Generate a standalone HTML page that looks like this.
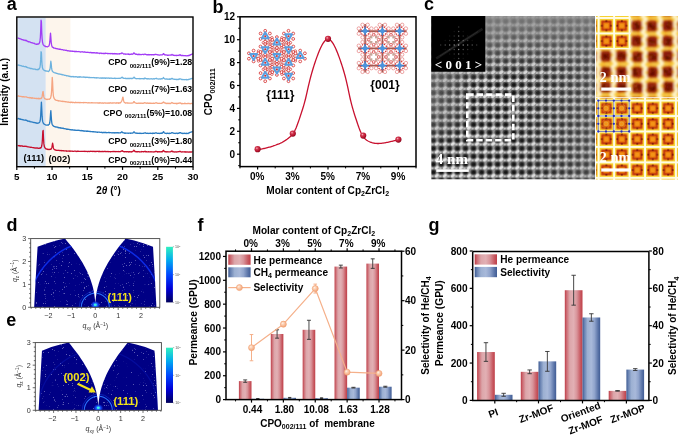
<!DOCTYPE html>
<html><head><meta charset="utf-8"><style>
html,body{margin:0;padding:0;background:#fff;}
svg{display:block;will-change:transform;}
text{font-family:"Liberation Sans",sans-serif;}
</style></head><body>
<svg width="685" height="435" viewBox="0 0 685 435">
<rect width="685" height="435" fill="#fff"/>
<rect x="17.30" y="17.60" width="28.50" height="149.10" fill="#d4e2f2" />
<rect x="17.30" y="17.60" width="1.20" height="149.10" fill="#e6eef8" />
<rect x="45.80" y="17.60" width="24.60" height="149.10" fill="#fdf5ec" />
<path d="M17.60,38.20 L17.95,38.16 L18.30,38.24 L18.65,38.12 L19.00,38.43 L19.35,38.54 L19.70,38.70 L20.05,38.75 L20.40,38.94 L20.75,39.01 L21.10,39.03 L21.45,39.41 L21.80,39.53 L22.15,39.75 L22.50,39.67 L22.85,39.73 L23.20,39.83 L23.55,39.82 L23.90,40.24 L24.25,40.09 L24.60,40.18 L24.95,40.37 L25.30,40.61 L25.65,40.42 L26.00,40.27 L26.35,40.55 L26.70,40.98 L27.05,41.09 L27.40,41.18 L27.75,41.39 L28.10,41.64 L28.45,41.91 L28.80,41.65 L29.15,41.85 L29.50,41.95 L29.85,41.87 L30.20,42.17 L30.55,42.27 L30.90,42.65 L31.25,42.61 L31.60,42.55 L31.95,42.93 L32.30,42.92 L32.65,42.87 L33.00,43.12 L33.35,43.23 L33.70,43.30 L34.05,43.51 L34.40,43.34 L34.75,43.68 L35.10,43.93 L35.45,44.00 L35.80,44.12 L36.15,44.20 L36.50,44.31 L36.85,44.06 L37.20,44.32 L37.55,43.99 L37.90,44.11 L38.25,43.86 L38.60,44.06 L38.95,43.82 L39.30,43.15 L39.65,42.54 L40.00,40.64 L40.35,37.49 L40.70,30.64 L41.05,20.05 L41.40,21.63 L41.75,32.44 L42.10,38.45 L42.45,41.79 L42.80,43.31 L43.15,44.51 L43.50,44.99 L43.85,45.45 L44.20,45.77 L44.55,45.98 L44.90,45.99 L45.25,46.50 L45.60,46.32 L45.95,46.64 L46.30,46.75 L46.65,46.62 L47.00,46.76 L47.35,46.88 L47.70,46.70 L48.05,46.51 L48.40,46.10 L48.75,46.02 L49.10,45.49 L49.45,44.37 L49.80,41.94 L50.15,37.34 L50.50,33.08 L50.85,37.40 L51.20,42.37 L51.55,44.67 L51.90,45.98 L52.25,46.97 L52.60,47.25 L52.95,47.28 L53.30,47.64 L53.65,47.89 L54.00,48.12 L54.35,48.11 L54.70,48.13 L55.05,48.21 L55.40,48.46 L55.75,48.51 L56.10,48.49 L56.45,48.61 L56.80,48.65 L57.15,48.86 L57.50,48.76 L57.85,48.97 L58.20,49.09 L58.55,49.11 L58.90,49.02 L59.25,49.34 L59.60,49.17 L59.95,49.36 L60.30,49.29 L60.65,49.23 L61.00,49.53 L61.35,49.60 L61.70,49.62 L62.05,49.72 L62.40,49.68 L62.75,49.73 L63.10,49.86 L63.45,50.17 L63.80,50.10 L64.15,50.00 L64.50,50.19 L64.85,50.13 L65.20,50.19 L65.55,50.41 L65.90,50.30 L66.25,50.23 L66.60,50.38 L66.95,50.56 L67.30,50.63 L67.65,50.82 L68.00,50.65 L68.35,50.88 L68.70,50.90 L69.05,50.90 L69.40,51.07 L69.75,51.09 L70.10,50.98 L70.45,51.24 L70.80,50.99 L71.15,51.17 L71.50,51.19 L71.85,51.26 L72.20,51.15 L72.55,51.26 L72.90,51.27 L73.25,51.43 L73.60,51.24 L73.95,51.37 L74.30,51.35 L74.65,51.25 L75.00,51.76 L75.35,51.45 L75.70,51.31 L76.05,51.68 L76.40,51.41 L76.75,51.60 L77.10,51.69 L77.45,51.53 L77.80,51.58 L78.15,51.59 L78.50,51.67 L78.85,51.51 L79.20,51.58 L79.55,51.74 L79.90,51.91 L80.25,51.88 L80.60,52.04 L80.95,51.94 L81.30,51.82 L81.65,51.89 L82.00,51.69 L82.35,51.84 L82.70,51.86 L83.05,52.04 L83.40,52.11 L83.75,51.99 L84.10,52.01 L84.45,51.92 L84.80,52.11 L85.15,52.18 L85.50,52.23 L85.85,52.11 L86.20,52.46 L86.55,52.39 L86.90,52.26 L87.25,52.24 L87.60,52.29 L87.95,52.37 L88.30,52.37 L88.65,52.46 L89.00,52.51 L89.35,52.61 L89.70,52.61 L90.05,52.48 L90.40,52.57 L90.75,52.50 L91.10,52.50 L91.45,52.82 L91.80,52.56 L92.15,52.88 L92.50,52.63 L92.85,52.72 L93.20,52.85 L93.55,52.74 L93.90,52.81 L94.25,52.76 L94.60,52.76 L94.95,52.82 L95.30,52.79 L95.65,53.08 L96.00,52.89 L96.35,53.14 L96.70,52.64 L97.05,52.99 L97.40,53.08 L97.75,53.00 L98.10,53.19 L98.45,53.16 L98.80,53.08 L99.15,53.19 L99.50,53.50 L99.85,53.21 L100.20,53.24 L100.55,53.16 L100.90,53.24 L101.25,53.08 L101.60,53.23 L101.95,53.56 L102.30,53.41 L102.65,53.37 L103.00,53.44 L103.35,53.54 L103.70,53.40 L104.05,53.59 L104.40,53.48 L104.75,53.39 L105.10,53.59 L105.45,53.11 L105.80,53.34 L106.15,53.45 L106.50,53.32 L106.85,53.43 L107.20,53.38 L107.55,53.39 L107.90,53.81 L108.25,53.57 L108.60,53.50 L108.95,53.68 L109.30,53.50 L109.65,53.65 L110.00,53.60 L110.35,53.77 L110.70,53.41 L111.05,53.69 L111.40,53.62 L111.75,53.48 L112.10,53.76 L112.45,53.54 L112.80,53.85 L113.15,53.73 L113.50,53.77 L113.85,53.71 L114.20,53.82 L114.55,53.50 L114.90,53.74 L115.25,53.67 L115.60,53.79 L115.95,53.76 L116.30,53.85 L116.65,53.69 L117.00,54.02 L117.35,54.09 L117.70,53.79 L118.05,53.83 L118.40,53.87 L118.75,53.99 L119.10,54.07 L119.45,53.70 L119.80,53.76 L120.15,53.68 L120.50,53.64 L120.85,53.49 L121.20,53.55 L121.55,53.02 L121.90,52.93 L122.25,53.03 L122.60,53.26 L122.95,53.54 L123.30,53.75 L123.65,54.08 L124.00,53.86 L124.35,53.83 L124.70,54.03 L125.05,54.10 L125.40,54.00 L125.75,54.29 L126.10,54.15 L126.45,54.19 L126.80,54.05 L127.15,54.16 L127.50,54.16 L127.85,53.92 L128.20,54.24 L128.55,54.00 L128.90,54.22 L129.25,54.06 L129.60,54.49 L129.95,54.29 L130.30,54.36 L130.65,54.37 L131.00,54.09 L131.35,53.97 L131.70,54.19 L132.05,54.31 L132.40,54.16 L132.75,54.15 L133.10,53.98 L133.45,53.32 L133.80,52.97 L134.15,53.12 L134.50,53.38 L134.85,53.63 L135.20,54.07 L135.55,54.16 L135.90,54.33 L136.25,54.22 L136.60,54.38 L136.95,54.12 L137.30,54.51 L137.65,54.62 L138.00,54.60 L138.35,54.27 L138.70,54.50 L139.05,54.12 L139.40,54.52 L139.75,54.49 L140.10,54.39 L140.45,54.55 L140.80,54.54 L141.15,54.64 L141.50,54.55 L141.85,54.57 L142.20,54.31 L142.55,54.40 L142.90,54.48 L143.25,54.56 L143.60,54.50 L143.95,54.64 L144.30,54.25 L144.65,54.12 L145.00,54.03 L145.35,54.14 L145.70,54.44 L146.05,54.44 L146.40,54.74 L146.75,54.57 L147.10,54.77 L147.45,54.66 L147.80,54.85 L148.15,54.52 L148.50,54.76 L148.85,54.66 L149.20,54.75 L149.55,54.87 L149.90,54.60 L150.25,54.59 L150.60,54.64 L150.95,54.79 L151.30,54.54 L151.65,54.79 L152.00,54.63 L152.35,54.65 L152.70,54.75 L153.05,54.84 L153.40,54.72 L153.75,54.73 L154.10,54.78 L154.45,54.73 L154.80,54.40 L155.15,54.58 L155.50,54.46 L155.85,54.34 L156.20,54.49 L156.55,54.59 L156.90,54.70 L157.25,54.66 L157.60,54.84 L157.95,54.96 L158.30,55.04 L158.65,54.80 L159.00,54.94 L159.35,55.02 L159.70,55.15 L160.05,54.96 L160.40,54.87 L160.75,54.85 L161.10,54.88 L161.45,54.82 L161.80,54.96 L162.15,54.91 L162.50,54.72 L162.85,54.48 L163.20,53.74 L163.55,53.55 L163.90,53.94 L164.25,54.49 L164.60,54.90 L164.95,54.89 L165.30,54.75 L165.65,55.00 L166.00,54.98 L166.35,54.92 L166.70,55.02 L167.05,55.25 L167.40,55.35 L167.75,55.11 L168.10,55.30 L168.45,55.33 L168.80,55.05 L169.15,55.19 L169.50,55.19 L169.85,55.21 L170.20,54.99 L170.55,55.10 L170.90,55.20 L171.25,55.08 L171.60,54.87 L171.95,54.33 L172.30,54.79 L172.65,54.98 L173.00,54.94 L173.35,55.30 L173.70,55.23 L174.05,55.37 L174.40,55.33 L174.75,55.51 L175.10,55.41 L175.45,55.36 L175.80,55.52 L176.15,55.45 L176.50,55.38 L176.85,55.59 L177.20,55.39 L177.55,55.36 L177.90,55.37 L178.25,55.25 L178.60,55.33 L178.95,55.56 L179.30,55.09 L179.65,54.96 L180.00,54.63 L180.35,54.90 L180.70,55.43 L181.05,55.50 L181.40,55.41 L181.75,55.53 L182.10,55.47 L182.45,55.50 L182.80,55.50 L183.15,55.52 L183.50,55.68 L183.85,55.73 L184.20,55.73 L184.55,55.66 L184.90,55.53 L185.25,55.70 L185.60,55.61 L185.95,55.83 L186.30,55.81 L186.65,55.84 L187.00,55.72 L187.35,55.55 L187.70,55.90 L188.05,55.92 L188.40,55.45 L188.75,55.51 L189.10,55.50 L189.45,55.08 L189.80,55.29 L190.15,54.89 L190.50,54.67 L190.85,54.82 L191.20,54.55 L191.55,54.30 L191.90,54.34 L192.25,53.86 L192.60,54.21" fill="none" stroke="#a23cf5" stroke-width="1.3" stroke-linejoin="round" />
<path d="M17.60,64.75 L17.95,64.98 L18.30,64.99 L18.65,65.19 L19.00,65.34 L19.35,65.23 L19.70,65.52 L20.05,65.49 L20.40,65.54 L20.75,65.69 L21.10,65.69 L21.45,65.81 L21.80,66.11 L22.15,66.08 L22.50,66.32 L22.85,66.33 L23.20,66.25 L23.55,66.23 L23.90,66.47 L24.25,66.66 L24.60,66.70 L24.95,66.66 L25.30,66.89 L25.65,66.50 L26.00,66.53 L26.35,66.91 L26.70,67.41 L27.05,67.38 L27.40,67.35 L27.75,67.66 L28.10,67.78 L28.45,67.91 L28.80,67.85 L29.15,67.90 L29.50,68.11 L29.85,68.24 L30.20,68.47 L30.55,68.61 L30.90,68.36 L31.25,68.46 L31.60,68.60 L31.95,68.66 L32.30,68.82 L32.65,68.90 L33.00,68.95 L33.35,69.16 L33.70,69.06 L34.05,69.02 L34.40,69.03 L34.75,69.17 L35.10,69.23 L35.45,69.20 L35.80,69.56 L36.15,69.56 L36.50,69.53 L36.85,69.52 L37.20,69.44 L37.55,69.50 L37.90,69.79 L38.25,69.22 L38.60,69.36 L38.95,69.21 L39.30,68.76 L39.65,68.05 L40.00,66.97 L40.35,64.31 L40.70,59.38 L41.05,51.69 L41.40,52.42 L41.75,60.35 L42.10,65.19 L42.45,67.59 L42.80,68.84 L43.15,69.47 L43.50,69.76 L43.85,70.02 L44.20,70.41 L44.55,70.60 L44.90,70.56 L45.25,70.81 L45.60,70.94 L45.95,71.11 L46.30,70.94 L46.65,71.19 L47.00,71.03 L47.35,71.15 L47.70,71.21 L48.05,71.40 L48.40,71.57 L48.75,71.11 L49.10,70.93 L49.45,70.61 L49.80,69.56 L50.15,68.21 L50.50,64.62 L50.85,61.25 L51.20,63.77 L51.55,67.68 L51.90,69.66 L52.25,71.03 L52.60,71.45 L52.95,71.81 L53.30,72.14 L53.65,72.07 L54.00,72.50 L54.35,72.72 L54.70,72.77 L55.05,72.86 L55.40,72.84 L55.75,73.14 L56.10,73.18 L56.45,73.26 L56.80,73.28 L57.15,73.54 L57.50,73.68 L57.85,73.67 L58.20,73.82 L58.55,73.95 L58.90,74.07 L59.25,73.99 L59.60,74.03 L59.95,74.09 L60.30,74.22 L60.65,74.37 L61.00,74.50 L61.35,74.42 L61.70,74.57 L62.05,74.51 L62.40,74.87 L62.75,74.75 L63.10,74.92 L63.45,74.88 L63.80,75.01 L64.15,75.04 L64.50,75.41 L64.85,75.33 L65.20,75.35 L65.55,75.34 L65.90,75.46 L66.25,75.68 L66.60,75.90 L66.95,75.61 L67.30,75.75 L67.65,75.92 L68.00,75.95 L68.35,75.90 L68.70,76.18 L69.05,76.35 L69.40,76.15 L69.75,76.45 L70.10,76.60 L70.45,76.62 L70.80,76.47 L71.15,76.82 L71.50,76.63 L71.85,76.48 L72.20,76.71 L72.55,76.48 L72.90,76.74 L73.25,76.50 L73.60,76.76 L73.95,76.61 L74.30,76.84 L74.65,76.81 L75.00,76.79 L75.35,76.76 L75.70,76.90 L76.05,76.57 L76.40,76.86 L76.75,76.88 L77.10,76.91 L77.45,76.96 L77.80,77.32 L78.15,76.91 L78.50,77.01 L78.85,76.95 L79.20,77.14 L79.55,76.73 L79.90,77.19 L80.25,76.92 L80.60,76.75 L80.95,76.91 L81.30,77.04 L81.65,77.10 L82.00,77.09 L82.35,77.21 L82.70,77.12 L83.05,77.14 L83.40,76.91 L83.75,77.24 L84.10,77.32 L84.45,77.16 L84.80,77.01 L85.15,77.09 L85.50,77.47 L85.85,77.21 L86.20,77.22 L86.55,77.22 L86.90,77.42 L87.25,77.29 L87.60,77.27 L87.95,77.21 L88.30,77.40 L88.65,77.55 L89.00,77.43 L89.35,77.57 L89.70,77.50 L90.05,77.51 L90.40,77.54 L90.75,77.54 L91.10,77.67 L91.45,77.63 L91.80,77.51 L92.15,77.62 L92.50,77.61 L92.85,77.70 L93.20,77.68 L93.55,77.72 L93.90,77.51 L94.25,77.75 L94.60,77.88 L94.95,77.58 L95.30,77.95 L95.65,77.81 L96.00,77.77 L96.35,77.60 L96.70,77.96 L97.05,77.73 L97.40,77.80 L97.75,77.95 L98.10,77.78 L98.45,77.80 L98.80,77.80 L99.15,77.94 L99.50,78.04 L99.85,78.04 L100.20,78.05 L100.55,77.96 L100.90,78.03 L101.25,77.94 L101.60,78.27 L101.95,78.06 L102.30,77.81 L102.65,77.92 L103.00,78.25 L103.35,77.90 L103.70,78.02 L104.05,78.12 L104.40,77.95 L104.75,78.22 L105.10,78.30 L105.45,78.00 L105.80,78.25 L106.15,78.01 L106.50,78.00 L106.85,78.16 L107.20,78.17 L107.55,78.07 L107.90,78.25 L108.25,77.98 L108.60,78.06 L108.95,78.04 L109.30,78.27 L109.65,78.28 L110.00,78.27 L110.35,78.04 L110.70,78.22 L111.05,78.27 L111.40,78.03 L111.75,78.13 L112.10,78.31 L112.45,78.32 L112.80,78.28 L113.15,78.32 L113.50,78.30 L113.85,78.28 L114.20,78.26 L114.55,78.17 L114.90,78.26 L115.25,78.24 L115.60,78.57 L115.95,78.33 L116.30,78.31 L116.65,78.28 L117.00,78.30 L117.35,78.29 L117.70,78.39 L118.05,78.32 L118.40,78.43 L118.75,78.24 L119.10,78.37 L119.45,78.42 L119.80,78.16 L120.15,78.30 L120.50,78.26 L120.85,78.10 L121.20,77.90 L121.55,77.38 L121.90,77.32 L122.25,77.24 L122.60,77.66 L122.95,78.17 L123.30,78.01 L123.65,78.43 L124.00,78.42 L124.35,78.47 L124.70,78.40 L125.05,78.30 L125.40,78.23 L125.75,78.65 L126.10,78.43 L126.45,78.43 L126.80,78.69 L127.15,78.43 L127.50,78.49 L127.85,78.50 L128.20,78.52 L128.55,78.41 L128.90,78.48 L129.25,78.70 L129.60,78.64 L129.95,78.20 L130.30,78.32 L130.65,78.59 L131.00,78.53 L131.35,78.49 L131.70,78.64 L132.05,78.27 L132.40,78.57 L132.75,78.34 L133.10,78.21 L133.45,77.80 L133.80,77.30 L134.15,77.11 L134.50,77.64 L134.85,78.22 L135.20,78.36 L135.55,78.31 L135.90,78.69 L136.25,78.71 L136.60,78.77 L136.95,78.63 L137.30,78.68 L137.65,78.60 L138.00,78.54 L138.35,78.68 L138.70,78.70 L139.05,78.61 L139.40,78.91 L139.75,78.51 L140.10,78.61 L140.45,78.63 L140.80,78.87 L141.15,78.69 L141.50,78.68 L141.85,78.61 L142.20,78.63 L142.55,78.56 L142.90,78.83 L143.25,78.77 L143.60,78.79 L143.95,78.54 L144.30,78.81 L144.65,78.19 L145.00,77.90 L145.35,78.28 L145.70,78.54 L146.05,78.74 L146.40,78.59 L146.75,78.82 L147.10,78.97 L147.45,78.68 L147.80,78.71 L148.15,78.60 L148.50,78.84 L148.85,78.93 L149.20,78.92 L149.55,78.94 L149.90,79.01 L150.25,78.86 L150.60,78.96 L150.95,78.74 L151.30,78.76 L151.65,78.89 L152.00,78.77 L152.35,78.93 L152.70,79.03 L153.05,78.91 L153.40,78.77 L153.75,78.77 L154.10,79.01 L154.45,78.72 L154.80,78.78 L155.15,78.65 L155.50,78.51 L155.85,78.38 L156.20,78.22 L156.55,78.38 L156.90,78.89 L157.25,78.83 L157.60,78.94 L157.95,78.88 L158.30,79.00 L158.65,79.07 L159.00,79.09 L159.35,78.90 L159.70,78.89 L160.05,78.98 L160.40,78.96 L160.75,79.00 L161.10,78.83 L161.45,78.62 L161.80,78.91 L162.15,78.87 L162.50,78.70 L162.85,78.52 L163.20,77.89 L163.55,77.44 L163.90,78.10 L164.25,78.46 L164.60,78.89 L164.95,78.90 L165.30,79.01 L165.65,79.04 L166.00,79.05 L166.35,78.89 L166.70,79.10 L167.05,78.84 L167.40,79.19 L167.75,79.26 L168.10,79.39 L168.45,79.20 L168.80,79.08 L169.15,78.97 L169.50,79.40 L169.85,78.99 L170.20,79.25 L170.55,78.83 L170.90,79.03 L171.25,78.97 L171.60,78.65 L171.95,78.33 L172.30,78.43 L172.65,78.75 L173.00,79.18 L173.35,79.21 L173.70,79.20 L174.05,79.28 L174.40,79.18 L174.75,79.43 L175.10,79.48 L175.45,79.24 L175.80,79.36 L176.15,79.49 L176.50,79.29 L176.85,79.62 L177.20,79.56 L177.55,79.34 L177.90,79.49 L178.25,79.56 L178.60,79.18 L178.95,79.34 L179.30,79.12 L179.65,78.86 L180.00,78.78 L180.35,78.85 L180.70,79.00 L181.05,79.15 L181.40,79.40 L181.75,79.53 L182.10,79.48 L182.45,79.49 L182.80,79.53 L183.15,79.70 L183.50,79.62 L183.85,79.48 L184.20,79.55 L184.55,79.74 L184.90,79.54 L185.25,79.57 L185.60,79.62 L185.95,79.51 L186.30,79.75 L186.65,79.39 L187.00,79.84 L187.35,79.62 L187.70,79.53 L188.05,79.71 L188.40,79.35 L188.75,79.51 L189.10,79.42 L189.45,79.14 L189.80,79.05 L190.15,79.09 L190.50,78.78 L190.85,78.75 L191.20,78.67 L191.55,78.70 L191.90,78.33 L192.25,78.28 L192.60,78.33" fill="none" stroke="#6db2de" stroke-width="1.3" stroke-linejoin="round" />
<path d="M17.60,95.67 L17.95,95.99 L18.30,95.85 L18.65,95.91 L19.00,96.41 L19.35,96.25 L19.70,96.46 L20.05,96.30 L20.40,96.44 L20.75,96.38 L21.10,96.41 L21.45,96.52 L21.80,96.59 L22.15,96.81 L22.50,96.65 L22.85,96.77 L23.20,96.74 L23.55,96.83 L23.90,96.70 L24.25,97.02 L24.60,96.86 L24.95,96.93 L25.30,96.87 L25.65,96.91 L26.00,96.78 L26.35,96.89 L26.70,97.11 L27.05,97.27 L27.40,97.41 L27.75,97.46 L28.10,97.62 L28.45,97.72 L28.80,97.65 L29.15,97.47 L29.50,97.89 L29.85,98.00 L30.20,97.74 L30.55,97.78 L30.90,97.62 L31.25,98.00 L31.60,97.83 L31.95,98.21 L32.30,97.73 L32.65,98.08 L33.00,98.19 L33.35,98.10 L33.70,98.09 L34.05,98.26 L34.40,98.20 L34.75,98.27 L35.10,98.34 L35.45,98.31 L35.80,98.39 L36.15,98.55 L36.50,98.44 L36.85,98.54 L37.20,98.46 L37.55,98.69 L37.90,98.46 L38.25,98.75 L38.60,98.30 L38.95,98.57 L39.30,98.50 L39.65,98.81 L40.00,98.70 L40.35,98.48 L40.70,98.49 L41.05,98.59 L41.40,98.19 L41.75,97.81 L42.10,96.66 L42.45,94.73 L42.80,91.72 L43.15,91.55 L43.50,94.54 L43.85,96.88 L44.20,97.77 L44.55,98.60 L44.90,98.72 L45.25,98.93 L45.60,98.90 L45.95,99.18 L46.30,99.32 L46.65,99.51 L47.00,99.24 L47.35,99.51 L47.70,99.36 L48.05,99.36 L48.40,99.25 L48.75,99.11 L49.10,99.09 L49.45,99.30 L49.80,98.76 L50.15,98.54 L50.50,98.20 L50.85,96.91 L51.20,95.53 L51.55,91.98 L51.90,85.03 L52.25,77.31 L52.60,82.35 L52.95,90.58 L53.30,95.02 L53.65,97.12 L54.00,98.10 L54.35,98.83 L54.70,99.13 L55.05,99.74 L55.40,99.67 L55.75,100.02 L56.10,100.35 L56.45,100.36 L56.80,100.33 L57.15,100.37 L57.50,100.47 L57.85,100.73 L58.20,100.73 L58.55,100.75 L58.90,101.13 L59.25,100.78 L59.60,100.88 L59.95,100.95 L60.30,101.07 L60.65,101.14 L61.00,101.12 L61.35,101.29 L61.70,101.32 L62.05,101.27 L62.40,101.06 L62.75,101.50 L63.10,101.34 L63.45,101.42 L63.80,101.53 L64.15,101.45 L64.50,101.55 L64.85,101.70 L65.20,101.69 L65.55,101.82 L65.90,101.72 L66.25,101.84 L66.60,101.79 L66.95,101.93 L67.30,102.04 L67.65,102.03 L68.00,101.93 L68.35,102.12 L68.70,102.21 L69.05,102.37 L69.40,102.28 L69.75,102.28 L70.10,102.22 L70.45,102.61 L70.80,102.27 L71.15,102.25 L71.50,102.38 L71.85,102.19 L72.20,102.54 L72.55,102.44 L72.90,102.49 L73.25,102.32 L73.60,102.38 L73.95,102.55 L74.30,102.57 L74.65,102.81 L75.00,102.61 L75.35,102.25 L75.70,102.50 L76.05,102.45 L76.40,102.64 L76.75,102.50 L77.10,102.58 L77.45,102.49 L77.80,102.61 L78.15,102.72 L78.50,102.48 L78.85,102.31 L79.20,102.44 L79.55,102.76 L79.90,102.61 L80.25,102.55 L80.60,102.48 L80.95,102.73 L81.30,102.64 L81.65,102.60 L82.00,102.56 L82.35,102.61 L82.70,102.60 L83.05,102.71 L83.40,102.80 L83.75,102.42 L84.10,102.49 L84.45,102.66 L84.80,102.69 L85.15,102.50 L85.50,102.62 L85.85,102.65 L86.20,102.65 L86.55,102.66 L86.90,102.71 L87.25,102.84 L87.60,102.82 L87.95,102.81 L88.30,102.78 L88.65,102.67 L89.00,102.71 L89.35,102.85 L89.70,102.79 L90.05,102.88 L90.40,102.82 L90.75,102.81 L91.10,102.86 L91.45,102.63 L91.80,102.80 L92.15,102.76 L92.50,102.94 L92.85,102.76 L93.20,102.88 L93.55,102.80 L93.90,102.92 L94.25,102.96 L94.60,102.85 L94.95,102.90 L95.30,102.91 L95.65,102.99 L96.00,102.86 L96.35,102.92 L96.70,102.87 L97.05,102.81 L97.40,102.95 L97.75,102.99 L98.10,102.85 L98.45,103.14 L98.80,102.87 L99.15,103.05 L99.50,103.02 L99.85,102.77 L100.20,102.98 L100.55,102.80 L100.90,102.97 L101.25,103.07 L101.60,103.21 L101.95,103.09 L102.30,102.81 L102.65,102.96 L103.00,103.18 L103.35,103.02 L103.70,103.22 L104.05,102.92 L104.40,102.94 L104.75,102.85 L105.10,102.97 L105.45,103.17 L105.80,102.91 L106.15,103.12 L106.50,103.08 L106.85,103.12 L107.20,102.99 L107.55,103.03 L107.90,103.28 L108.25,102.88 L108.60,103.12 L108.95,103.22 L109.30,103.09 L109.65,103.24 L110.00,102.68 L110.35,103.00 L110.70,102.90 L111.05,102.99 L111.40,103.03 L111.75,103.10 L112.10,102.94 L112.45,103.15 L112.80,102.86 L113.15,103.16 L113.50,103.02 L113.85,102.83 L114.20,102.83 L114.55,102.83 L114.90,102.93 L115.25,103.06 L115.60,103.20 L115.95,103.13 L116.30,102.87 L116.65,102.75 L117.00,102.99 L117.35,102.85 L117.70,102.99 L118.05,102.91 L118.40,103.29 L118.75,102.75 L119.10,102.97 L119.45,103.12 L119.80,102.79 L120.15,102.67 L120.50,102.84 L120.85,102.18 L121.20,101.88 L121.55,101.30 L121.90,100.53 L122.25,99.62 L122.60,97.85 L122.95,97.08 L123.30,98.96 L123.65,100.88 L124.00,101.79 L124.35,102.45 L124.70,102.57 L125.05,102.68 L125.40,103.03 L125.75,103.05 L126.10,103.07 L126.45,102.83 L126.80,102.89 L127.15,103.01 L127.50,103.02 L127.85,103.02 L128.20,103.05 L128.55,103.17 L128.90,102.97 L129.25,103.13 L129.60,103.06 L129.95,103.05 L130.30,103.07 L130.65,103.19 L131.00,103.13 L131.35,102.99 L131.70,103.11 L132.05,103.05 L132.40,103.03 L132.75,102.85 L133.10,102.82 L133.45,102.37 L133.80,101.62 L134.15,101.54 L134.50,102.09 L134.85,102.72 L135.20,102.81 L135.55,102.96 L135.90,103.06 L136.25,103.26 L136.60,103.41 L136.95,103.15 L137.30,103.42 L137.65,103.26 L138.00,103.34 L138.35,103.17 L138.70,103.06 L139.05,103.28 L139.40,103.38 L139.75,103.04 L140.10,103.22 L140.45,103.26 L140.80,103.31 L141.15,103.11 L141.50,103.17 L141.85,103.35 L142.20,103.45 L142.55,103.24 L142.90,103.34 L143.25,103.22 L143.60,103.23 L143.95,103.07 L144.30,102.98 L144.65,102.74 L145.00,102.66 L145.35,102.94 L145.70,103.04 L146.05,103.21 L146.40,103.12 L146.75,103.32 L147.10,102.87 L147.45,103.09 L147.80,103.23 L148.15,103.06 L148.50,103.36 L148.85,103.32 L149.20,103.19 L149.55,103.31 L149.90,103.12 L150.25,103.20 L150.60,103.26 L150.95,103.12 L151.30,103.44 L151.65,103.23 L152.00,103.44 L152.35,103.30 L152.70,103.35 L153.05,103.20 L153.40,103.27 L153.75,103.24 L154.10,103.31 L154.45,103.42 L154.80,103.14 L155.15,103.09 L155.50,102.97 L155.85,102.78 L156.20,102.69 L156.55,102.92 L156.90,103.07 L157.25,103.23 L157.60,103.30 L157.95,103.22 L158.30,103.28 L158.65,103.42 L159.00,103.33 L159.35,103.26 L159.70,103.42 L160.05,103.42 L160.40,103.40 L160.75,103.39 L161.10,103.25 L161.45,103.29 L161.80,103.26 L162.15,103.15 L162.50,102.77 L162.85,102.67 L163.20,102.17 L163.55,101.88 L163.90,102.27 L164.25,102.79 L164.60,102.83 L164.95,103.00 L165.30,102.90 L165.65,103.28 L166.00,103.53 L166.35,103.56 L166.70,103.23 L167.05,103.46 L167.40,103.54 L167.75,103.35 L168.10,103.16 L168.45,103.57 L168.80,103.35 L169.15,103.34 L169.50,103.59 L169.85,103.43 L170.20,103.45 L170.55,103.50 L170.90,103.21 L171.25,102.96 L171.60,102.89 L171.95,102.51 L172.30,102.78 L172.65,103.07 L173.00,103.12 L173.35,103.32 L173.70,103.33 L174.05,103.37 L174.40,103.41 L174.75,103.48 L175.10,103.47 L175.45,103.30 L175.80,103.53 L176.15,103.29 L176.50,103.73 L176.85,103.37 L177.20,103.45 L177.55,103.61 L177.90,103.42 L178.25,103.27 L178.60,103.21 L178.95,103.35 L179.30,103.22 L179.65,103.02 L180.00,102.75 L180.35,102.87 L180.70,103.24 L181.05,103.50 L181.40,103.31 L181.75,103.88 L182.10,103.42 L182.45,103.64 L182.80,103.73 L183.15,103.62 L183.50,103.56 L183.85,103.61 L184.20,103.69 L184.55,103.22 L184.90,103.60 L185.25,103.50 L185.60,103.47 L185.95,103.57 L186.30,103.58 L186.65,103.62 L187.00,103.49 L187.35,103.70 L187.70,103.31 L188.05,103.45 L188.40,103.42 L188.75,103.58 L189.10,103.51 L189.45,103.64 L189.80,103.48 L190.15,103.74 L190.50,103.67 L190.85,103.52 L191.20,103.38 L191.55,103.45 L191.90,103.41 L192.25,103.74 L192.60,103.69" fill="none" stroke="#f5a582" stroke-width="1.3" stroke-linejoin="round" />
<path d="M17.60,118.28 L17.95,118.75 L18.30,118.57 L18.65,118.43 L19.00,118.92 L19.35,119.03 L19.70,118.96 L20.05,118.94 L20.40,119.29 L20.75,119.16 L21.10,119.31 L21.45,119.46 L21.80,119.52 L22.15,119.52 L22.50,119.53 L22.85,119.83 L23.20,119.56 L23.55,119.95 L23.90,120.02 L24.25,120.12 L24.60,120.08 L24.95,120.19 L25.30,120.27 L25.65,119.98 L26.00,120.07 L26.35,120.32 L26.70,120.37 L27.05,120.58 L27.40,121.01 L27.75,121.06 L28.10,120.94 L28.45,121.22 L28.80,121.27 L29.15,121.48 L29.50,121.54 L29.85,121.20 L30.20,121.54 L30.55,121.84 L30.90,121.96 L31.25,121.78 L31.60,121.80 L31.95,122.07 L32.30,122.05 L32.65,122.21 L33.00,122.16 L33.35,122.48 L33.70,122.54 L34.05,122.61 L34.40,122.50 L34.75,122.51 L35.10,122.64 L35.45,122.93 L35.80,122.72 L36.15,123.08 L36.50,123.27 L36.85,123.03 L37.20,123.12 L37.55,123.28 L37.90,123.26 L38.25,123.04 L38.60,123.01 L38.95,122.89 L39.30,122.56 L39.65,122.17 L40.00,121.24 L40.35,119.61 L40.70,115.59 L41.05,108.59 L41.40,102.14 L41.75,108.60 L42.10,116.17 L42.45,120.07 L42.80,121.90 L43.15,122.89 L43.50,123.58 L43.85,123.88 L44.20,124.09 L44.55,124.36 L44.90,124.54 L45.25,124.78 L45.60,124.96 L45.95,124.98 L46.30,125.19 L46.65,125.06 L47.00,125.03 L47.35,125.03 L47.70,125.00 L48.05,125.02 L48.40,125.11 L48.75,124.57 L49.10,124.45 L49.45,123.71 L49.80,122.47 L50.15,119.49 L50.50,114.18 L50.85,110.65 L51.20,116.12 L51.55,120.62 L51.90,123.31 L52.25,124.55 L52.60,124.96 L52.95,125.69 L53.30,125.76 L53.65,126.24 L54.00,126.30 L54.35,126.53 L54.70,126.62 L55.05,126.54 L55.40,126.98 L55.75,127.03 L56.10,126.85 L56.45,127.13 L56.80,127.20 L57.15,127.14 L57.50,127.17 L57.85,127.53 L58.20,127.40 L58.55,127.63 L58.90,127.82 L59.25,127.72 L59.60,127.62 L59.95,127.92 L60.30,127.70 L60.65,127.83 L61.00,128.36 L61.35,127.98 L61.70,128.18 L62.05,128.08 L62.40,128.26 L62.75,128.36 L63.10,128.09 L63.45,128.39 L63.80,128.62 L64.15,128.71 L64.50,128.71 L64.85,128.62 L65.20,128.85 L65.55,128.80 L65.90,128.84 L66.25,128.99 L66.60,129.33 L66.95,129.01 L67.30,129.31 L67.65,129.28 L68.00,129.14 L68.35,129.27 L68.70,129.43 L69.05,129.45 L69.40,129.61 L69.75,129.52 L70.10,129.57 L70.45,129.85 L70.80,129.76 L71.15,129.69 L71.50,129.82 L71.85,130.08 L72.20,129.82 L72.55,129.74 L72.90,130.06 L73.25,130.22 L73.60,130.17 L73.95,129.89 L74.30,129.83 L74.65,130.26 L75.00,130.12 L75.35,130.23 L75.70,130.18 L76.05,130.44 L76.40,130.28 L76.75,130.26 L77.10,130.35 L77.45,130.22 L77.80,130.41 L78.15,130.41 L78.50,130.20 L78.85,130.35 L79.20,130.37 L79.55,130.36 L79.90,130.63 L80.25,130.75 L80.60,130.68 L80.95,130.50 L81.30,130.49 L81.65,130.83 L82.00,130.73 L82.35,130.79 L82.70,130.68 L83.05,130.62 L83.40,131.16 L83.75,130.86 L84.10,130.94 L84.45,130.85 L84.80,131.21 L85.15,131.01 L85.50,131.07 L85.85,131.12 L86.20,131.15 L86.55,131.35 L86.90,130.99 L87.25,131.32 L87.60,131.20 L87.95,131.26 L88.30,131.26 L88.65,131.42 L89.00,131.25 L89.35,131.37 L89.70,131.53 L90.05,131.43 L90.40,131.47 L90.75,131.60 L91.10,131.60 L91.45,131.58 L91.80,131.66 L92.15,131.58 L92.50,131.82 L92.85,131.61 L93.20,131.58 L93.55,131.86 L93.90,131.68 L94.25,131.76 L94.60,131.88 L94.95,132.02 L95.30,131.91 L95.65,131.94 L96.00,131.98 L96.35,132.10 L96.70,132.03 L97.05,132.15 L97.40,132.32 L97.75,132.16 L98.10,132.17 L98.45,132.14 L98.80,132.19 L99.15,132.16 L99.50,132.21 L99.85,132.30 L100.20,132.43 L100.55,132.46 L100.90,132.36 L101.25,132.46 L101.60,132.28 L101.95,132.69 L102.30,132.75 L102.65,132.45 L103.00,132.54 L103.35,132.50 L103.70,132.59 L104.05,132.43 L104.40,132.34 L104.75,132.62 L105.10,132.41 L105.45,132.59 L105.80,132.45 L106.15,132.48 L106.50,132.70 L106.85,132.78 L107.20,132.58 L107.55,132.56 L107.90,132.66 L108.25,132.57 L108.60,132.44 L108.95,132.65 L109.30,132.40 L109.65,132.73 L110.00,132.62 L110.35,132.72 L110.70,132.53 L111.05,132.62 L111.40,132.79 L111.75,132.90 L112.10,132.85 L112.45,132.80 L112.80,132.63 L113.15,132.84 L113.50,132.80 L113.85,132.76 L114.20,132.96 L114.55,132.72 L114.90,133.04 L115.25,132.76 L115.60,132.76 L115.95,132.84 L116.30,132.70 L116.65,132.81 L117.00,132.89 L117.35,132.68 L117.70,132.79 L118.05,132.73 L118.40,132.85 L118.75,133.04 L119.10,132.85 L119.45,132.88 L119.80,132.92 L120.15,132.73 L120.50,132.85 L120.85,132.67 L121.20,132.48 L121.55,132.01 L121.90,131.72 L122.25,132.08 L122.60,132.57 L122.95,132.67 L123.30,132.87 L123.65,132.89 L124.00,132.86 L124.35,132.82 L124.70,133.27 L125.05,132.97 L125.40,133.13 L125.75,133.31 L126.10,133.09 L126.45,133.13 L126.80,133.19 L127.15,133.13 L127.50,133.22 L127.85,133.16 L128.20,133.34 L128.55,133.28 L128.90,133.08 L129.25,133.08 L129.60,133.17 L129.95,133.18 L130.30,133.16 L130.65,133.35 L131.00,133.14 L131.35,133.16 L131.70,133.21 L132.05,132.92 L132.40,133.15 L132.75,133.07 L133.10,132.98 L133.45,132.31 L133.80,131.81 L134.15,131.82 L134.50,132.32 L134.85,132.60 L135.20,133.10 L135.55,133.07 L135.90,133.21 L136.25,133.08 L136.60,133.35 L136.95,133.21 L137.30,133.18 L137.65,133.37 L138.00,133.41 L138.35,133.18 L138.70,133.41 L139.05,133.49 L139.40,133.33 L139.75,133.13 L140.10,133.37 L140.45,133.43 L140.80,133.18 L141.15,133.51 L141.50,133.28 L141.85,133.29 L142.20,133.43 L142.55,133.32 L142.90,133.43 L143.25,133.26 L143.60,133.28 L143.95,133.18 L144.30,133.09 L144.65,132.93 L145.00,132.76 L145.35,132.83 L145.70,133.18 L146.05,133.18 L146.40,133.39 L146.75,133.35 L147.10,133.29 L147.45,133.22 L147.80,133.33 L148.15,133.49 L148.50,133.35 L148.85,133.45 L149.20,133.33 L149.55,133.30 L149.90,133.26 L150.25,133.11 L150.60,133.38 L150.95,133.35 L151.30,133.34 L151.65,133.44 L152.00,133.23 L152.35,133.55 L152.70,133.16 L153.05,133.37 L153.40,133.19 L153.75,133.29 L154.10,133.44 L154.45,133.09 L154.80,133.25 L155.15,133.14 L155.50,132.97 L155.85,132.72 L156.20,132.82 L156.55,133.04 L156.90,133.19 L157.25,133.34 L157.60,133.36 L157.95,133.29 L158.30,133.17 L158.65,133.42 L159.00,133.29 L159.35,133.53 L159.70,133.27 L160.05,133.19 L160.40,133.46 L160.75,133.22 L161.10,133.11 L161.45,133.40 L161.80,133.03 L162.15,133.28 L162.50,132.85 L162.85,132.70 L163.20,132.13 L163.55,131.58 L163.90,132.28 L164.25,132.71 L164.60,133.03 L164.95,133.21 L165.30,133.41 L165.65,133.24 L166.00,133.28 L166.35,133.57 L166.70,133.41 L167.05,133.43 L167.40,133.16 L167.75,133.18 L168.10,133.28 L168.45,133.32 L168.80,133.40 L169.15,133.66 L169.50,133.17 L169.85,133.26 L170.20,133.36 L170.55,133.27 L170.90,133.30 L171.25,132.97 L171.60,132.61 L171.95,132.68 L172.30,132.67 L172.65,132.80 L173.00,133.09 L173.35,133.22 L173.70,133.10 L174.05,133.40 L174.40,133.34 L174.75,133.29 L175.10,133.27 L175.45,133.55 L175.80,133.34 L176.15,133.26 L176.50,133.11 L176.85,133.22 L177.20,133.43 L177.55,133.51 L177.90,133.18 L178.25,133.05 L178.60,133.26 L178.95,133.18 L179.30,133.15 L179.65,132.70 L180.00,132.60 L180.35,132.57 L180.70,132.90 L181.05,133.12 L181.40,133.21 L181.75,133.37 L182.10,133.47 L182.45,133.17 L182.80,133.56 L183.15,133.27 L183.50,133.32 L183.85,133.51 L184.20,133.09 L184.55,133.20 L184.90,133.28 L185.25,133.39 L185.60,133.51 L185.95,133.51 L186.30,133.27 L186.65,133.48 L187.00,133.34 L187.35,133.57 L187.70,133.35 L188.05,133.49 L188.40,133.10 L188.75,133.17 L189.10,132.76 L189.45,132.79 L189.80,132.44 L190.15,132.47 L190.50,132.24 L190.85,132.07 L191.20,132.07 L191.55,131.99 L191.90,131.76 L192.25,131.64 L192.60,131.58" fill="none" stroke="#2a7cc2" stroke-width="1.3" stroke-linejoin="round" />
<path d="M17.60,145.52 L17.95,145.55 L18.30,145.53 L18.65,145.78 L19.00,145.53 L19.35,145.74 L19.70,145.56 L20.05,146.04 L20.40,145.77 L20.75,145.87 L21.10,146.07 L21.45,145.94 L21.80,145.91 L22.15,145.84 L22.50,146.08 L22.85,146.41 L23.20,146.23 L23.55,146.47 L23.90,146.40 L24.25,146.29 L24.60,146.20 L24.95,146.36 L25.30,146.42 L25.65,146.22 L26.00,146.20 L26.35,146.42 L26.70,146.52 L27.05,146.52 L27.40,146.75 L27.75,146.94 L28.10,146.84 L28.45,146.87 L28.80,146.93 L29.15,147.08 L29.50,147.15 L29.85,147.21 L30.20,147.12 L30.55,147.33 L30.90,147.30 L31.25,147.31 L31.60,147.25 L31.95,147.39 L32.30,147.50 L32.65,147.64 L33.00,147.72 L33.35,147.72 L33.70,147.80 L34.05,147.68 L34.40,147.96 L34.75,148.00 L35.10,148.03 L35.45,147.93 L35.80,148.03 L36.15,148.02 L36.50,147.96 L36.85,148.11 L37.20,148.00 L37.55,148.00 L37.90,148.30 L38.25,148.32 L38.60,148.36 L38.95,148.21 L39.30,148.25 L39.65,148.27 L40.00,148.08 L40.35,147.75 L40.70,148.05 L41.05,147.57 L41.40,146.98 L41.75,145.75 L42.10,143.49 L42.45,139.07 L42.80,131.47 L43.15,130.36 L43.50,138.17 L43.85,143.38 L44.20,145.97 L44.55,147.13 L44.90,147.74 L45.25,148.09 L45.60,148.79 L45.95,148.79 L46.30,149.02 L46.65,149.06 L47.00,148.99 L47.35,149.49 L47.70,149.37 L48.05,149.49 L48.40,149.29 L48.75,149.42 L49.10,149.61 L49.45,149.41 L49.80,149.36 L50.15,149.28 L50.50,149.18 L50.85,149.30 L51.20,148.93 L51.55,148.19 L51.90,147.46 L52.25,145.15 L52.60,143.16 L52.95,144.85 L53.30,147.43 L53.65,148.77 L54.00,149.10 L54.35,149.47 L54.70,149.75 L55.05,149.68 L55.40,150.05 L55.75,150.22 L56.10,150.24 L56.45,150.39 L56.80,150.27 L57.15,150.29 L57.50,150.31 L57.85,150.28 L58.20,150.27 L58.55,150.34 L58.90,150.45 L59.25,150.42 L59.60,150.52 L59.95,150.55 L60.30,150.64 L60.65,150.52 L61.00,150.36 L61.35,150.52 L61.70,150.89 L62.05,150.77 L62.40,150.66 L62.75,150.70 L63.10,150.74 L63.45,150.72 L63.80,150.82 L64.15,150.90 L64.50,150.99 L64.85,150.82 L65.20,150.85 L65.55,150.87 L65.90,150.93 L66.25,151.08 L66.60,150.88 L66.95,151.26 L67.30,151.08 L67.65,151.17 L68.00,150.95 L68.35,151.04 L68.70,151.04 L69.05,151.13 L69.40,150.90 L69.75,151.23 L70.10,150.98 L70.45,151.24 L70.80,151.32 L71.15,151.19 L71.50,151.18 L71.85,151.19 L72.20,151.18 L72.55,151.25 L72.90,151.33 L73.25,151.30 L73.60,151.41 L73.95,151.24 L74.30,151.18 L74.65,151.19 L75.00,151.10 L75.35,151.20 L75.70,151.18 L76.05,151.47 L76.40,151.33 L76.75,151.48 L77.10,151.04 L77.45,151.31 L77.80,151.40 L78.15,151.32 L78.50,151.23 L78.85,151.31 L79.20,151.31 L79.55,151.31 L79.90,151.33 L80.25,151.42 L80.60,151.34 L80.95,151.35 L81.30,151.32 L81.65,151.38 L82.00,151.24 L82.35,151.40 L82.70,151.29 L83.05,151.44 L83.40,151.27 L83.75,151.34 L84.10,151.33 L84.45,151.23 L84.80,151.48 L85.15,151.40 L85.50,151.37 L85.85,151.51 L86.20,151.33 L86.55,151.37 L86.90,151.51 L87.25,151.67 L87.60,151.40 L87.95,151.58 L88.30,151.41 L88.65,151.30 L89.00,151.46 L89.35,151.55 L89.70,151.43 L90.05,151.47 L90.40,151.28 L90.75,151.15 L91.10,151.45 L91.45,151.25 L91.80,151.41 L92.15,151.35 L92.50,151.44 L92.85,151.53 L93.20,151.23 L93.55,151.41 L93.90,151.42 L94.25,151.60 L94.60,151.45 L94.95,151.35 L95.30,151.38 L95.65,151.67 L96.00,151.35 L96.35,151.46 L96.70,151.49 L97.05,151.33 L97.40,151.37 L97.75,151.24 L98.10,151.37 L98.45,151.56 L98.80,151.51 L99.15,151.26 L99.50,151.66 L99.85,151.33 L100.20,151.38 L100.55,151.69 L100.90,151.56 L101.25,151.50 L101.60,151.69 L101.95,151.51 L102.30,151.56 L102.65,151.45 L103.00,151.51 L103.35,151.52 L103.70,151.66 L104.05,151.46 L104.40,151.52 L104.75,151.28 L105.10,151.34 L105.45,151.63 L105.80,151.51 L106.15,151.51 L106.50,151.63 L106.85,151.52 L107.20,151.58 L107.55,151.53 L107.90,151.33 L108.25,151.65 L108.60,151.75 L108.95,151.72 L109.30,151.59 L109.65,151.62 L110.00,151.64 L110.35,151.77 L110.70,151.74 L111.05,151.56 L111.40,151.59 L111.75,151.58 L112.10,151.54 L112.45,151.54 L112.80,151.60 L113.15,151.33 L113.50,151.66 L113.85,151.57 L114.20,151.48 L114.55,151.60 L114.90,151.54 L115.25,151.77 L115.60,151.50 L115.95,151.64 L116.30,151.68 L116.65,151.54 L117.00,151.49 L117.35,151.68 L117.70,151.59 L118.05,151.53 L118.40,151.46 L118.75,151.70 L119.10,151.80 L119.45,151.55 L119.80,151.66 L120.15,151.69 L120.50,151.63 L120.85,151.35 L121.20,151.30 L121.55,150.96 L121.90,150.76 L122.25,150.64 L122.60,151.20 L122.95,151.45 L123.30,151.57 L123.65,151.46 L124.00,151.66 L124.35,151.83 L124.70,151.63 L125.05,151.72 L125.40,151.61 L125.75,151.75 L126.10,151.76 L126.45,151.81 L126.80,151.69 L127.15,151.69 L127.50,151.68 L127.85,151.78 L128.20,151.77 L128.55,152.02 L128.90,151.68 L129.25,151.84 L129.60,151.69 L129.95,151.70 L130.30,151.88 L130.65,151.79 L131.00,151.80 L131.35,151.56 L131.70,152.00 L132.05,151.90 L132.40,151.52 L132.75,151.35 L133.10,151.23 L133.45,150.96 L133.80,150.26 L134.15,150.33 L134.50,150.79 L134.85,151.60 L135.20,151.46 L135.55,151.55 L135.90,151.90 L136.25,151.75 L136.60,151.73 L136.95,151.75 L137.30,151.83 L137.65,151.72 L138.00,151.80 L138.35,151.72 L138.70,151.64 L139.05,151.76 L139.40,151.82 L139.75,151.99 L140.10,151.83 L140.45,151.77 L140.80,151.82 L141.15,151.87 L141.50,151.54 L141.85,151.75 L142.20,151.55 L142.55,151.59 L142.90,151.70 L143.25,151.75 L143.60,151.74 L143.95,151.69 L144.30,151.72 L144.65,151.41 L145.00,151.24 L145.35,151.33 L145.70,151.80 L146.05,151.84 L146.40,151.68 L146.75,151.71 L147.10,151.89 L147.45,151.93 L147.80,151.78 L148.15,151.96 L148.50,151.69 L148.85,151.82 L149.20,151.96 L149.55,151.77 L149.90,151.86 L150.25,151.84 L150.60,151.82 L150.95,151.63 L151.30,151.81 L151.65,151.87 L152.00,151.87 L152.35,151.93 L152.70,151.95 L153.05,151.80 L153.40,151.81 L153.75,152.02 L154.10,151.91 L154.45,151.78 L154.80,151.70 L155.15,151.76 L155.50,151.57 L155.85,151.19 L156.20,151.28 L156.55,151.49 L156.90,151.65 L157.25,151.96 L157.60,151.64 L157.95,151.90 L158.30,151.70 L158.65,151.75 L159.00,151.94 L159.35,151.69 L159.70,151.73 L160.05,151.70 L160.40,151.76 L160.75,151.85 L161.10,151.93 L161.45,151.69 L161.80,151.82 L162.15,151.49 L162.50,151.72 L162.85,151.11 L163.20,150.56 L163.55,150.34 L163.90,150.80 L164.25,151.25 L164.60,151.33 L164.95,151.76 L165.30,151.82 L165.65,151.74 L166.00,151.68 L166.35,151.86 L166.70,151.98 L167.05,151.65 L167.40,151.73 L167.75,151.87 L168.10,151.77 L168.45,151.83 L168.80,151.85 L169.15,151.95 L169.50,151.94 L169.85,151.95 L170.20,151.92 L170.55,151.70 L170.90,151.41 L171.25,151.58 L171.60,151.30 L171.95,151.02 L172.30,151.07 L172.65,151.70 L173.00,151.47 L173.35,151.86 L173.70,151.89 L174.05,151.96 L174.40,152.03 L174.75,151.94 L175.10,151.93 L175.45,151.86 L175.80,151.99 L176.15,151.95 L176.50,152.00 L176.85,151.77 L177.20,151.72 L177.55,151.90 L177.90,151.94 L178.25,151.68 L178.60,151.70 L178.95,151.71 L179.30,151.64 L179.65,151.39 L180.00,151.27 L180.35,151.34 L180.70,151.66 L181.05,151.91 L181.40,151.80 L181.75,152.14 L182.10,151.86 L182.45,151.93 L182.80,151.71 L183.15,151.93 L183.50,151.88 L183.85,151.87 L184.20,151.99 L184.55,151.83 L184.90,151.99 L185.25,151.73 L185.60,151.91 L185.95,152.13 L186.30,151.98 L186.65,152.04 L187.00,151.87 L187.35,151.82 L187.70,152.14 L188.05,152.10 L188.40,152.08 L188.75,151.98 L189.10,152.12 L189.45,151.94 L189.80,152.07 L190.15,152.06 L190.50,151.88 L190.85,152.16 L191.20,152.01 L191.55,152.09 L191.90,151.82 L192.25,151.86 L192.60,151.95" fill="none" stroke="#c8102e" stroke-width="1.3" stroke-linejoin="round" />
<rect x="16.8" y="17.0" width="176.2" height="149.7" fill="none" stroke="#000" stroke-width="1.4"/>
<line x1="16.80" y1="166.70" x2="16.80" y2="169.90" stroke="#000" stroke-width="1.2" />
<text x="16.80" y="180.00" font-size="9.8" font-weight="bold" text-anchor="middle" fill="#000" >5</text>
<line x1="52.05" y1="166.70" x2="52.05" y2="169.90" stroke="#000" stroke-width="1.2" />
<text x="52.05" y="180.00" font-size="9.8" font-weight="bold" text-anchor="middle" fill="#000" >10</text>
<line x1="87.30" y1="166.70" x2="87.30" y2="169.90" stroke="#000" stroke-width="1.2" />
<text x="87.30" y="180.00" font-size="9.8" font-weight="bold" text-anchor="middle" fill="#000" >15</text>
<line x1="122.55" y1="166.70" x2="122.55" y2="169.90" stroke="#000" stroke-width="1.2" />
<text x="122.55" y="180.00" font-size="9.8" font-weight="bold" text-anchor="middle" fill="#000" >20</text>
<line x1="157.80" y1="166.70" x2="157.80" y2="169.90" stroke="#000" stroke-width="1.2" />
<text x="157.80" y="180.00" font-size="9.8" font-weight="bold" text-anchor="middle" fill="#000" >25</text>
<line x1="193.05" y1="166.70" x2="193.05" y2="169.90" stroke="#000" stroke-width="1.2" />
<text x="193.05" y="180.00" font-size="9.8" font-weight="bold" text-anchor="middle" fill="#000" >30</text>
<line x1="34.42" y1="166.70" x2="34.42" y2="168.70" stroke="#000" stroke-width="1.0" />
<line x1="69.67" y1="166.70" x2="69.67" y2="168.70" stroke="#000" stroke-width="1.0" />
<line x1="104.92" y1="166.70" x2="104.92" y2="168.70" stroke="#000" stroke-width="1.0" />
<line x1="140.18" y1="166.70" x2="140.18" y2="168.70" stroke="#000" stroke-width="1.0" />
<line x1="175.43" y1="166.70" x2="175.43" y2="168.70" stroke="#000" stroke-width="1.0" />
<text x="192.2" y="65.3" font-size="8.8" font-weight="bold" text-anchor="end">CPO <tspan font-size="6.2" dy="2.4">002/111</tspan><tspan dy="-2.4">(9%)=1.28</tspan></text>
<text x="192.2" y="92.0" font-size="8.8" font-weight="bold" text-anchor="end">CPO <tspan font-size="6.2" dy="2.4">002/111</tspan><tspan dy="-2.4">(7%)=1.63</tspan></text>
<text x="192.2" y="116.0" font-size="8.8" font-weight="bold" text-anchor="end">CPO <tspan font-size="6.2" dy="2.4">002/111</tspan><tspan dy="-2.4">(5%)=10.08</tspan></text>
<text x="192.2" y="144.3" font-size="8.8" font-weight="bold" text-anchor="end">CPO <tspan font-size="6.2" dy="2.4">002/111</tspan><tspan dy="-2.4">(3%)=1.80</tspan></text>
<text x="192.2" y="162.9" font-size="8.8" font-weight="bold" text-anchor="end">CPO <tspan font-size="6.2" dy="2.4">002/111</tspan><tspan dy="-2.4">(0%)=0.44</tspan></text>
<text x="23.40" y="160.60" font-size="9.4" font-weight="bold" text-anchor="start" fill="#000" >(111)</text>
<text x="48.40" y="161.80" font-size="9.4" font-weight="bold" text-anchor="start" fill="#000" >(002)</text>
<text x="96.3" y="193.6" font-size="10" font-weight="bold">2<tspan font-style="italic">θ</tspan> (°)</text>
<text transform="translate(7.6,91.8) rotate(-90)" font-size="10" font-weight="bold" text-anchor="middle">Intensity (a.u.)</text>
<text x="6.80" y="9.60" font-size="18" font-weight="bold" text-anchor="start" fill="#000" >a</text>
<defs>
<radialGradient id="sph" cx="0.38" cy="0.35" r="0.65">
<stop offset="0" stop-color="#f7b3bd"/><stop offset="0.3" stop-color="#d43a52"/><stop offset="0.8" stop-color="#b0102a"/><stop offset="1" stop-color="#8a0a1e"/></radialGradient>
<radialGradient id="sphO" cx="0.38" cy="0.35" r="0.65">
<stop offset="0" stop-color="#fff0e6"/><stop offset="0.35" stop-color="#fbd0b4"/><stop offset="1" stop-color="#f2a57a"/></radialGradient>
</defs>
<g>
<polygon points="302.4,56.0 289.9,48.5 289.6,33.9 276.9,41.0 264.1,33.9 263.9,48.5 251.4,56.0 263.9,63.5 264.1,78.1 276.9,71.0 289.6,78.1 289.9,63.5" fill="#ead0cc" opacity="0.55"/>
<line x1="276.9" y1="56.0" x2="276.9" y2="42.5" stroke="#a06458" stroke-width="1.3" opacity="0.85"/>
<circle cx="275.1" cy="49.2" r="1.3" fill="none" stroke="#d03838" stroke-width="0.7"/>
<circle cx="278.7" cy="49.2" r="1.3" fill="none" stroke="#d03838" stroke-width="0.7"/>
<line x1="276.9" y1="56.0" x2="288.6" y2="62.8" stroke="#a06458" stroke-width="1.3" opacity="0.85"/>
<circle cx="283.6" cy="57.8" r="1.3" fill="none" stroke="#d03838" stroke-width="0.7"/>
<circle cx="281.8" cy="60.9" r="1.3" fill="none" stroke="#d03838" stroke-width="0.7"/>
<line x1="276.9" y1="56.0" x2="288.6" y2="49.2" stroke="#a06458" stroke-width="1.3" opacity="0.85"/>
<circle cx="281.8" cy="51.1" r="1.3" fill="none" stroke="#d03838" stroke-width="0.7"/>
<circle cx="283.6" cy="54.2" r="1.3" fill="none" stroke="#d03838" stroke-width="0.7"/>
<line x1="276.9" y1="42.5" x2="288.6" y2="49.2" stroke="#a06458" stroke-width="1.3" opacity="0.85"/>
<circle cx="283.6" cy="44.3" r="1.3" fill="none" stroke="#d03838" stroke-width="0.7"/>
<circle cx="281.8" cy="47.4" r="1.3" fill="none" stroke="#d03838" stroke-width="0.7"/>
<line x1="276.9" y1="42.5" x2="288.5" y2="36.2" stroke="#a06458" stroke-width="1.3" opacity="0.85"/>
<circle cx="281.9" cy="37.8" r="1.3" fill="none" stroke="#d03838" stroke-width="0.7"/>
<circle cx="283.6" cy="40.9" r="1.3" fill="none" stroke="#d03838" stroke-width="0.7"/>
<line x1="265.2" y1="49.2" x2="276.9" y2="56.0" stroke="#a06458" stroke-width="1.3" opacity="0.85"/>
<circle cx="272.0" cy="51.1" r="1.3" fill="none" stroke="#d03838" stroke-width="0.7"/>
<circle cx="270.2" cy="54.2" r="1.3" fill="none" stroke="#d03838" stroke-width="0.7"/>
<line x1="265.2" y1="49.2" x2="276.9" y2="42.5" stroke="#a06458" stroke-width="1.3" opacity="0.85"/>
<circle cx="270.2" cy="44.3" r="1.3" fill="none" stroke="#d03838" stroke-width="0.7"/>
<circle cx="272.0" cy="47.4" r="1.3" fill="none" stroke="#d03838" stroke-width="0.7"/>
<line x1="265.2" y1="49.2" x2="265.2" y2="62.8" stroke="#a06458" stroke-width="1.3" opacity="0.85"/>
<circle cx="267.0" cy="56.0" r="1.3" fill="none" stroke="#d03838" stroke-width="0.7"/>
<circle cx="263.4" cy="56.0" r="1.3" fill="none" stroke="#d03838" stroke-width="0.7"/>
<line x1="265.2" y1="49.2" x2="265.2" y2="36.2" stroke="#a06458" stroke-width="1.3" opacity="0.85"/>
<circle cx="263.4" cy="42.7" r="1.3" fill="none" stroke="#d03838" stroke-width="0.7"/>
<circle cx="267.0" cy="42.7" r="1.3" fill="none" stroke="#d03838" stroke-width="0.7"/>
<line x1="265.2" y1="62.8" x2="276.9" y2="56.0" stroke="#a06458" stroke-width="1.3" opacity="0.85"/>
<circle cx="270.2" cy="57.8" r="1.3" fill="none" stroke="#d03838" stroke-width="0.7"/>
<circle cx="272.0" cy="60.9" r="1.3" fill="none" stroke="#d03838" stroke-width="0.7"/>
<line x1="265.2" y1="62.8" x2="276.9" y2="69.5" stroke="#a06458" stroke-width="1.3" opacity="0.85"/>
<circle cx="272.0" cy="64.6" r="1.3" fill="none" stroke="#d03838" stroke-width="0.7"/>
<circle cx="270.2" cy="67.7" r="1.3" fill="none" stroke="#d03838" stroke-width="0.7"/>
<line x1="265.2" y1="62.8" x2="265.2" y2="75.8" stroke="#a06458" stroke-width="1.3" opacity="0.85"/>
<circle cx="267.0" cy="69.3" r="1.3" fill="none" stroke="#d03838" stroke-width="0.7"/>
<circle cx="263.4" cy="69.3" r="1.3" fill="none" stroke="#d03838" stroke-width="0.7"/>
<line x1="276.9" y1="69.5" x2="276.9" y2="56.0" stroke="#a06458" stroke-width="1.3" opacity="0.85"/>
<circle cx="275.1" cy="62.8" r="1.3" fill="none" stroke="#d03838" stroke-width="0.7"/>
<circle cx="278.7" cy="62.8" r="1.3" fill="none" stroke="#d03838" stroke-width="0.7"/>
<line x1="276.9" y1="69.5" x2="288.6" y2="62.8" stroke="#a06458" stroke-width="1.3" opacity="0.85"/>
<circle cx="281.8" cy="64.6" r="1.3" fill="none" stroke="#d03838" stroke-width="0.7"/>
<circle cx="283.6" cy="67.7" r="1.3" fill="none" stroke="#d03838" stroke-width="0.7"/>
<line x1="276.9" y1="69.5" x2="288.5" y2="75.8" stroke="#a06458" stroke-width="1.3" opacity="0.85"/>
<circle cx="283.6" cy="71.1" r="1.3" fill="none" stroke="#d03838" stroke-width="0.7"/>
<circle cx="281.9" cy="74.2" r="1.3" fill="none" stroke="#d03838" stroke-width="0.7"/>
<line x1="288.6" y1="62.8" x2="288.6" y2="49.2" stroke="#a06458" stroke-width="1.3" opacity="0.85"/>
<circle cx="286.8" cy="56.0" r="1.3" fill="none" stroke="#d03838" stroke-width="0.7"/>
<circle cx="290.4" cy="56.0" r="1.3" fill="none" stroke="#d03838" stroke-width="0.7"/>
<line x1="288.6" y1="62.8" x2="300.2" y2="56.0" stroke="#a06458" stroke-width="1.3" opacity="0.85"/>
<circle cx="293.5" cy="57.8" r="1.3" fill="none" stroke="#d03838" stroke-width="0.7"/>
<circle cx="295.3" cy="60.9" r="1.3" fill="none" stroke="#d03838" stroke-width="0.7"/>
<line x1="288.6" y1="49.2" x2="300.2" y2="56.0" stroke="#a06458" stroke-width="1.3" opacity="0.85"/>
<circle cx="295.3" cy="51.1" r="1.3" fill="none" stroke="#d03838" stroke-width="0.7"/>
<circle cx="293.5" cy="54.2" r="1.3" fill="none" stroke="#d03838" stroke-width="0.7"/>
<line x1="288.5" y1="36.2" x2="288.6" y2="49.2" stroke="#a06458" stroke-width="1.3" opacity="0.85"/>
<circle cx="290.4" cy="42.7" r="1.3" fill="none" stroke="#d03838" stroke-width="0.7"/>
<circle cx="286.8" cy="42.7" r="1.3" fill="none" stroke="#d03838" stroke-width="0.7"/>
<line x1="265.2" y1="36.2" x2="276.9" y2="42.5" stroke="#a06458" stroke-width="1.3" opacity="0.85"/>
<circle cx="271.9" cy="37.8" r="1.3" fill="none" stroke="#d03838" stroke-width="0.7"/>
<circle cx="270.2" cy="40.9" r="1.3" fill="none" stroke="#d03838" stroke-width="0.7"/>
<line x1="253.6" y1="56.0" x2="265.2" y2="49.2" stroke="#a06458" stroke-width="1.3" opacity="0.85"/>
<circle cx="258.5" cy="51.1" r="1.3" fill="none" stroke="#d03838" stroke-width="0.7"/>
<circle cx="260.3" cy="54.2" r="1.3" fill="none" stroke="#d03838" stroke-width="0.7"/>
<line x1="253.6" y1="56.0" x2="265.2" y2="62.8" stroke="#a06458" stroke-width="1.3" opacity="0.85"/>
<circle cx="260.3" cy="57.8" r="1.3" fill="none" stroke="#d03838" stroke-width="0.7"/>
<circle cx="258.5" cy="60.9" r="1.3" fill="none" stroke="#d03838" stroke-width="0.7"/>
<line x1="265.2" y1="75.8" x2="276.9" y2="69.5" stroke="#a06458" stroke-width="1.3" opacity="0.85"/>
<circle cx="270.2" cy="71.1" r="1.3" fill="none" stroke="#d03838" stroke-width="0.7"/>
<circle cx="271.9" cy="74.2" r="1.3" fill="none" stroke="#d03838" stroke-width="0.7"/>
<line x1="288.5" y1="75.8" x2="288.6" y2="62.8" stroke="#a06458" stroke-width="1.3" opacity="0.85"/>
<circle cx="286.8" cy="69.3" r="1.3" fill="none" stroke="#d03838" stroke-width="0.7"/>
<circle cx="290.4" cy="69.3" r="1.3" fill="none" stroke="#d03838" stroke-width="0.7"/>
<circle cx="281.6" cy="58.7" r="1.4" fill="#fff" stroke="#d42a2a" stroke-width="0.8"/>
<circle cx="276.9" cy="61.4" r="1.4" fill="#fff" stroke="#d42a2a" stroke-width="0.8"/>
<circle cx="272.2" cy="58.7" r="1.4" fill="#fff" stroke="#d42a2a" stroke-width="0.8"/>
<circle cx="272.2" cy="53.3" r="1.4" fill="#fff" stroke="#d42a2a" stroke-width="0.8"/>
<circle cx="276.9" cy="50.6" r="1.4" fill="#fff" stroke="#d42a2a" stroke-width="0.8"/>
<circle cx="281.6" cy="53.3" r="1.4" fill="#fff" stroke="#d42a2a" stroke-width="0.8"/>
<polygon points="276.9,60.0 280.4,54.0 273.4,54.0" fill="#eaf2fb" stroke="#5a9ee0" stroke-width="1.9" stroke-linejoin="round"/>
<circle cx="276.9" cy="56.0" r="1.0" fill="#d03030"/>
<circle cx="281.6" cy="45.2" r="1.4" fill="#fff" stroke="#d42a2a" stroke-width="0.8"/>
<circle cx="276.9" cy="47.9" r="1.4" fill="#fff" stroke="#d42a2a" stroke-width="0.8"/>
<circle cx="272.2" cy="45.2" r="1.4" fill="#fff" stroke="#d42a2a" stroke-width="0.8"/>
<circle cx="272.2" cy="39.8" r="1.4" fill="#fff" stroke="#d42a2a" stroke-width="0.8"/>
<circle cx="276.9" cy="37.1" r="1.4" fill="#fff" stroke="#d42a2a" stroke-width="0.8"/>
<circle cx="281.6" cy="39.8" r="1.4" fill="#fff" stroke="#d42a2a" stroke-width="0.8"/>
<polygon points="276.9,38.5 280.4,44.5 273.4,44.5" fill="#eaf2fb" stroke="#5a9ee0" stroke-width="1.9" stroke-linejoin="round"/>
<circle cx="276.9" cy="42.5" r="1.0" fill="#d03030"/>
<circle cx="269.9" cy="52.0" r="1.4" fill="#fff" stroke="#d42a2a" stroke-width="0.8"/>
<circle cx="265.2" cy="54.6" r="1.4" fill="#fff" stroke="#d42a2a" stroke-width="0.8"/>
<circle cx="260.5" cy="52.0" r="1.4" fill="#fff" stroke="#d42a2a" stroke-width="0.8"/>
<circle cx="260.5" cy="46.5" r="1.4" fill="#fff" stroke="#d42a2a" stroke-width="0.8"/>
<circle cx="265.2" cy="43.9" r="1.4" fill="#fff" stroke="#d42a2a" stroke-width="0.8"/>
<circle cx="269.9" cy="46.5" r="1.4" fill="#fff" stroke="#d42a2a" stroke-width="0.8"/>
<polygon points="265.2,53.2 268.7,47.2 261.7,47.2" fill="#eaf2fb" stroke="#5a9ee0" stroke-width="1.9" stroke-linejoin="round"/>
<circle cx="265.2" cy="49.2" r="1.0" fill="#d03030"/>
<circle cx="269.9" cy="65.5" r="1.4" fill="#fff" stroke="#d42a2a" stroke-width="0.8"/>
<circle cx="265.2" cy="68.2" r="1.4" fill="#fff" stroke="#d42a2a" stroke-width="0.8"/>
<circle cx="260.5" cy="65.5" r="1.4" fill="#fff" stroke="#d42a2a" stroke-width="0.8"/>
<circle cx="260.5" cy="60.0" r="1.4" fill="#fff" stroke="#d42a2a" stroke-width="0.8"/>
<circle cx="265.2" cy="57.4" r="1.4" fill="#fff" stroke="#d42a2a" stroke-width="0.8"/>
<circle cx="269.9" cy="60.0" r="1.4" fill="#fff" stroke="#d42a2a" stroke-width="0.8"/>
<polygon points="265.2,58.8 268.7,64.8 261.7,64.8" fill="#eaf2fb" stroke="#5a9ee0" stroke-width="1.9" stroke-linejoin="round"/>
<circle cx="265.2" cy="62.8" r="1.0" fill="#d03030"/>
<circle cx="281.6" cy="72.2" r="1.4" fill="#fff" stroke="#d42a2a" stroke-width="0.8"/>
<circle cx="276.9" cy="74.9" r="1.4" fill="#fff" stroke="#d42a2a" stroke-width="0.8"/>
<circle cx="272.2" cy="72.2" r="1.4" fill="#fff" stroke="#d42a2a" stroke-width="0.8"/>
<circle cx="272.2" cy="66.8" r="1.4" fill="#fff" stroke="#d42a2a" stroke-width="0.8"/>
<circle cx="276.9" cy="64.1" r="1.4" fill="#fff" stroke="#d42a2a" stroke-width="0.8"/>
<circle cx="281.6" cy="66.8" r="1.4" fill="#fff" stroke="#d42a2a" stroke-width="0.8"/>
<polygon points="276.9,73.5 280.4,67.5 273.4,67.5" fill="#eaf2fb" stroke="#5a9ee0" stroke-width="1.9" stroke-linejoin="round"/>
<circle cx="276.9" cy="69.5" r="1.0" fill="#d03030"/>
<circle cx="293.3" cy="65.5" r="1.4" fill="#fff" stroke="#d42a2a" stroke-width="0.8"/>
<circle cx="288.6" cy="68.2" r="1.4" fill="#fff" stroke="#d42a2a" stroke-width="0.8"/>
<circle cx="283.9" cy="65.5" r="1.4" fill="#fff" stroke="#d42a2a" stroke-width="0.8"/>
<circle cx="283.9" cy="60.1" r="1.4" fill="#fff" stroke="#d42a2a" stroke-width="0.8"/>
<circle cx="288.6" cy="57.4" r="1.4" fill="#fff" stroke="#d42a2a" stroke-width="0.8"/>
<circle cx="293.3" cy="60.1" r="1.4" fill="#fff" stroke="#d42a2a" stroke-width="0.8"/>
<polygon points="288.6,58.8 292.1,64.8 285.1,64.8" fill="#eaf2fb" stroke="#5a9ee0" stroke-width="1.9" stroke-linejoin="round"/>
<circle cx="288.6" cy="62.8" r="1.0" fill="#d03030"/>
<circle cx="293.3" cy="52.0" r="1.4" fill="#fff" stroke="#d42a2a" stroke-width="0.8"/>
<circle cx="288.6" cy="54.6" r="1.4" fill="#fff" stroke="#d42a2a" stroke-width="0.8"/>
<circle cx="283.9" cy="52.0" r="1.4" fill="#fff" stroke="#d42a2a" stroke-width="0.8"/>
<circle cx="283.9" cy="46.5" r="1.4" fill="#fff" stroke="#d42a2a" stroke-width="0.8"/>
<circle cx="288.6" cy="43.9" r="1.4" fill="#fff" stroke="#d42a2a" stroke-width="0.8"/>
<circle cx="293.3" cy="46.5" r="1.4" fill="#fff" stroke="#d42a2a" stroke-width="0.8"/>
<polygon points="288.6,53.2 292.1,47.2 285.1,47.2" fill="#eaf2fb" stroke="#5a9ee0" stroke-width="1.9" stroke-linejoin="round"/>
<circle cx="288.6" cy="49.2" r="1.0" fill="#d03030"/>
<circle cx="304.9" cy="58.7" r="1.4" fill="#fff" stroke="#d42a2a" stroke-width="0.8"/>
<circle cx="300.2" cy="61.4" r="1.4" fill="#fff" stroke="#d42a2a" stroke-width="0.8"/>
<circle cx="295.5" cy="58.7" r="1.4" fill="#fff" stroke="#d42a2a" stroke-width="0.8"/>
<circle cx="295.5" cy="53.3" r="1.4" fill="#fff" stroke="#d42a2a" stroke-width="0.8"/>
<circle cx="300.2" cy="50.6" r="1.4" fill="#fff" stroke="#d42a2a" stroke-width="0.8"/>
<circle cx="304.9" cy="53.3" r="1.4" fill="#fff" stroke="#d42a2a" stroke-width="0.8"/>
<polygon points="300.2,52.0 303.7,58.0 296.7,58.0" fill="#eaf2fb" stroke="#5a9ee0" stroke-width="1.9" stroke-linejoin="round"/>
<circle cx="300.2" cy="56.0" r="1.0" fill="#d03030"/>
<circle cx="293.2" cy="38.9" r="1.4" fill="#fff" stroke="#d42a2a" stroke-width="0.8"/>
<circle cx="288.5" cy="41.6" r="1.4" fill="#fff" stroke="#d42a2a" stroke-width="0.8"/>
<circle cx="283.9" cy="38.9" r="1.4" fill="#fff" stroke="#d42a2a" stroke-width="0.8"/>
<circle cx="283.9" cy="33.5" r="1.4" fill="#fff" stroke="#d42a2a" stroke-width="0.8"/>
<circle cx="288.5" cy="30.8" r="1.4" fill="#fff" stroke="#d42a2a" stroke-width="0.8"/>
<circle cx="293.2" cy="33.5" r="1.4" fill="#fff" stroke="#d42a2a" stroke-width="0.8"/>
<polygon points="288.5,40.2 292.0,34.2 285.1,34.2" fill="#eaf2fb" stroke="#5a9ee0" stroke-width="1.9" stroke-linejoin="round"/>
<circle cx="288.5" cy="36.2" r="1.0" fill="#d03030"/>
<circle cx="269.9" cy="38.9" r="1.4" fill="#fff" stroke="#d42a2a" stroke-width="0.8"/>
<circle cx="265.2" cy="41.6" r="1.4" fill="#fff" stroke="#d42a2a" stroke-width="0.8"/>
<circle cx="260.6" cy="38.9" r="1.4" fill="#fff" stroke="#d42a2a" stroke-width="0.8"/>
<circle cx="260.6" cy="33.5" r="1.4" fill="#fff" stroke="#d42a2a" stroke-width="0.8"/>
<circle cx="265.2" cy="30.8" r="1.4" fill="#fff" stroke="#d42a2a" stroke-width="0.8"/>
<circle cx="269.9" cy="33.5" r="1.4" fill="#fff" stroke="#d42a2a" stroke-width="0.8"/>
<polygon points="265.2,32.2 268.7,38.2 261.8,38.2" fill="#eaf2fb" stroke="#5a9ee0" stroke-width="1.9" stroke-linejoin="round"/>
<circle cx="265.2" cy="36.2" r="1.0" fill="#d03030"/>
<circle cx="258.3" cy="58.7" r="1.4" fill="#fff" stroke="#d42a2a" stroke-width="0.8"/>
<circle cx="253.6" cy="61.4" r="1.4" fill="#fff" stroke="#d42a2a" stroke-width="0.8"/>
<circle cx="248.9" cy="58.7" r="1.4" fill="#fff" stroke="#d42a2a" stroke-width="0.8"/>
<circle cx="248.9" cy="53.3" r="1.4" fill="#fff" stroke="#d42a2a" stroke-width="0.8"/>
<circle cx="253.6" cy="50.6" r="1.4" fill="#fff" stroke="#d42a2a" stroke-width="0.8"/>
<circle cx="258.3" cy="53.3" r="1.4" fill="#fff" stroke="#d42a2a" stroke-width="0.8"/>
<polygon points="253.6,60.0 257.1,54.0 250.1,54.0" fill="#eaf2fb" stroke="#5a9ee0" stroke-width="1.9" stroke-linejoin="round"/>
<circle cx="253.6" cy="56.0" r="1.0" fill="#d03030"/>
<circle cx="269.9" cy="78.5" r="1.4" fill="#fff" stroke="#d42a2a" stroke-width="0.8"/>
<circle cx="265.2" cy="81.2" r="1.4" fill="#fff" stroke="#d42a2a" stroke-width="0.8"/>
<circle cx="260.6" cy="78.5" r="1.4" fill="#fff" stroke="#d42a2a" stroke-width="0.8"/>
<circle cx="260.6" cy="73.1" r="1.4" fill="#fff" stroke="#d42a2a" stroke-width="0.8"/>
<circle cx="265.2" cy="70.4" r="1.4" fill="#fff" stroke="#d42a2a" stroke-width="0.8"/>
<circle cx="269.9" cy="73.1" r="1.4" fill="#fff" stroke="#d42a2a" stroke-width="0.8"/>
<polygon points="265.2,71.8 268.7,77.8 261.8,77.8" fill="#eaf2fb" stroke="#5a9ee0" stroke-width="1.9" stroke-linejoin="round"/>
<circle cx="265.2" cy="75.8" r="1.0" fill="#d03030"/>
<circle cx="293.2" cy="78.5" r="1.4" fill="#fff" stroke="#d42a2a" stroke-width="0.8"/>
<circle cx="288.5" cy="81.2" r="1.4" fill="#fff" stroke="#d42a2a" stroke-width="0.8"/>
<circle cx="283.9" cy="78.5" r="1.4" fill="#fff" stroke="#d42a2a" stroke-width="0.8"/>
<circle cx="283.9" cy="73.1" r="1.4" fill="#fff" stroke="#d42a2a" stroke-width="0.8"/>
<circle cx="288.5" cy="70.4" r="1.4" fill="#fff" stroke="#d42a2a" stroke-width="0.8"/>
<circle cx="293.2" cy="73.1" r="1.4" fill="#fff" stroke="#d42a2a" stroke-width="0.8"/>
<polygon points="288.5,79.8 292.0,73.8 285.1,73.8" fill="#eaf2fb" stroke="#5a9ee0" stroke-width="1.9" stroke-linejoin="round"/>
<circle cx="288.5" cy="75.8" r="1.0" fill="#d03030"/>
</g>
<g>
<rect x="369.8" y="35.8" width="2.6" height="2.6" fill="#b89080" opacity="0.8"/>
<rect x="375.0" y="35.8" width="2.6" height="2.6" fill="#b89080" opacity="0.8"/>
<rect x="369.8" y="41.0" width="2.6" height="2.6" fill="#b89080" opacity="0.8"/>
<rect x="375.0" y="41.0" width="2.6" height="2.6" fill="#b89080" opacity="0.8"/>
<circle cx="373.7" cy="34.7" r="1.4" fill="none" stroke="#d04040" stroke-width="0.7"/>
<circle cx="373.7" cy="44.7" r="1.4" fill="none" stroke="#d04040" stroke-width="0.7"/>
<circle cx="368.7" cy="39.7" r="1.4" fill="none" stroke="#d04040" stroke-width="0.7"/>
<circle cx="378.7" cy="39.7" r="1.4" fill="none" stroke="#d04040" stroke-width="0.7"/>
<rect x="369.8" y="53.1" width="2.6" height="2.6" fill="#b89080" opacity="0.8"/>
<rect x="375.0" y="53.1" width="2.6" height="2.6" fill="#b89080" opacity="0.8"/>
<rect x="369.8" y="58.3" width="2.6" height="2.6" fill="#b89080" opacity="0.8"/>
<rect x="375.0" y="58.3" width="2.6" height="2.6" fill="#b89080" opacity="0.8"/>
<circle cx="373.7" cy="52.0" r="1.4" fill="none" stroke="#d04040" stroke-width="0.7"/>
<circle cx="373.7" cy="62.0" r="1.4" fill="none" stroke="#d04040" stroke-width="0.7"/>
<circle cx="368.7" cy="57.0" r="1.4" fill="none" stroke="#d04040" stroke-width="0.7"/>
<circle cx="378.7" cy="57.0" r="1.4" fill="none" stroke="#d04040" stroke-width="0.7"/>
<rect x="387.1" y="35.8" width="2.6" height="2.6" fill="#b89080" opacity="0.8"/>
<rect x="392.3" y="35.8" width="2.6" height="2.6" fill="#b89080" opacity="0.8"/>
<rect x="387.1" y="41.0" width="2.6" height="2.6" fill="#b89080" opacity="0.8"/>
<rect x="392.3" y="41.0" width="2.6" height="2.6" fill="#b89080" opacity="0.8"/>
<circle cx="391.0" cy="34.7" r="1.4" fill="none" stroke="#d04040" stroke-width="0.7"/>
<circle cx="391.0" cy="44.7" r="1.4" fill="none" stroke="#d04040" stroke-width="0.7"/>
<circle cx="386.0" cy="39.7" r="1.4" fill="none" stroke="#d04040" stroke-width="0.7"/>
<circle cx="396.0" cy="39.7" r="1.4" fill="none" stroke="#d04040" stroke-width="0.7"/>
<rect x="387.1" y="53.1" width="2.6" height="2.6" fill="#b89080" opacity="0.8"/>
<rect x="392.3" y="53.1" width="2.6" height="2.6" fill="#b89080" opacity="0.8"/>
<rect x="387.1" y="58.3" width="2.6" height="2.6" fill="#b89080" opacity="0.8"/>
<rect x="392.3" y="58.3" width="2.6" height="2.6" fill="#b89080" opacity="0.8"/>
<circle cx="391.0" cy="52.0" r="1.4" fill="none" stroke="#d04040" stroke-width="0.7"/>
<circle cx="391.0" cy="62.0" r="1.4" fill="none" stroke="#d04040" stroke-width="0.7"/>
<circle cx="386.0" cy="57.0" r="1.4" fill="none" stroke="#d04040" stroke-width="0.7"/>
<circle cx="396.0" cy="57.0" r="1.4" fill="none" stroke="#d04040" stroke-width="0.7"/>
<line x1="358.1" y1="31.1" x2="406.6" y2="31.1" stroke="#9a4a40" stroke-width="1.6" opacity="0.9"/>
<line x1="365.1" y1="24.1" x2="365.1" y2="72.6" stroke="#9a4a40" stroke-width="1.6" opacity="0.9"/>
<line x1="358.1" y1="48.4" x2="406.6" y2="48.4" stroke="#9a4a40" stroke-width="1.6" opacity="0.9"/>
<line x1="382.4" y1="24.1" x2="382.4" y2="72.6" stroke="#9a4a40" stroke-width="1.6" opacity="0.9"/>
<line x1="358.1" y1="65.6" x2="406.6" y2="65.6" stroke="#9a4a40" stroke-width="1.6" opacity="0.9"/>
<line x1="399.6" y1="24.1" x2="399.6" y2="72.6" stroke="#9a4a40" stroke-width="1.6" opacity="0.9"/>
<circle cx="371.4" cy="33.7" r="1.7" fill="none" stroke="#e06a6a" stroke-width="0.6"/>
<circle cx="367.7" cy="37.4" r="1.7" fill="none" stroke="#e06a6a" stroke-width="0.6"/>
<circle cx="362.5" cy="37.4" r="1.7" fill="none" stroke="#e06a6a" stroke-width="0.6"/>
<circle cx="358.8" cy="33.7" r="1.7" fill="none" stroke="#e06a6a" stroke-width="0.6"/>
<circle cx="358.8" cy="28.5" r="1.7" fill="none" stroke="#e06a6a" stroke-width="0.6"/>
<circle cx="362.5" cy="24.8" r="1.7" fill="none" stroke="#e06a6a" stroke-width="0.6"/>
<circle cx="367.7" cy="24.8" r="1.7" fill="none" stroke="#e06a6a" stroke-width="0.6"/>
<circle cx="371.4" cy="28.5" r="1.7" fill="none" stroke="#e06a6a" stroke-width="0.6"/>
<circle cx="365.1" cy="31.1" r="4.4" fill="none" stroke="#d82a2a" stroke-width="1.1" stroke-dasharray="1.4 1"/>
<line x1="360.6" y1="31.1" x2="369.6" y2="31.1" stroke="#3a80d0" stroke-width="1.3"/>
<line x1="365.1" y1="26.6" x2="365.1" y2="35.6" stroke="#3a80d0" stroke-width="1.3"/>
<circle cx="365.1" cy="31.1" r="2.3" fill="#4a94e0"/>
<circle cx="371.4" cy="51.0" r="1.7" fill="none" stroke="#e06a6a" stroke-width="0.6"/>
<circle cx="367.7" cy="54.6" r="1.7" fill="none" stroke="#e06a6a" stroke-width="0.6"/>
<circle cx="362.5" cy="54.6" r="1.7" fill="none" stroke="#e06a6a" stroke-width="0.6"/>
<circle cx="358.8" cy="51.0" r="1.7" fill="none" stroke="#e06a6a" stroke-width="0.6"/>
<circle cx="358.8" cy="45.7" r="1.7" fill="none" stroke="#e06a6a" stroke-width="0.6"/>
<circle cx="362.5" cy="42.1" r="1.7" fill="none" stroke="#e06a6a" stroke-width="0.6"/>
<circle cx="367.7" cy="42.1" r="1.7" fill="none" stroke="#e06a6a" stroke-width="0.6"/>
<circle cx="371.4" cy="45.7" r="1.7" fill="none" stroke="#e06a6a" stroke-width="0.6"/>
<circle cx="365.1" cy="48.4" r="4.4" fill="none" stroke="#d82a2a" stroke-width="1.1" stroke-dasharray="1.4 1"/>
<line x1="360.6" y1="48.4" x2="369.6" y2="48.4" stroke="#3a80d0" stroke-width="1.3"/>
<line x1="365.1" y1="43.9" x2="365.1" y2="52.9" stroke="#3a80d0" stroke-width="1.3"/>
<circle cx="365.1" cy="48.4" r="2.3" fill="#4a94e0"/>
<circle cx="371.4" cy="68.2" r="1.7" fill="none" stroke="#e06a6a" stroke-width="0.6"/>
<circle cx="367.7" cy="71.9" r="1.7" fill="none" stroke="#e06a6a" stroke-width="0.6"/>
<circle cx="362.5" cy="71.9" r="1.7" fill="none" stroke="#e06a6a" stroke-width="0.6"/>
<circle cx="358.8" cy="68.2" r="1.7" fill="none" stroke="#e06a6a" stroke-width="0.6"/>
<circle cx="358.8" cy="63.0" r="1.7" fill="none" stroke="#e06a6a" stroke-width="0.6"/>
<circle cx="362.5" cy="59.3" r="1.7" fill="none" stroke="#e06a6a" stroke-width="0.6"/>
<circle cx="367.7" cy="59.3" r="1.7" fill="none" stroke="#e06a6a" stroke-width="0.6"/>
<circle cx="371.4" cy="63.0" r="1.7" fill="none" stroke="#e06a6a" stroke-width="0.6"/>
<circle cx="365.1" cy="65.6" r="4.4" fill="none" stroke="#d82a2a" stroke-width="1.1" stroke-dasharray="1.4 1"/>
<line x1="360.6" y1="65.6" x2="369.6" y2="65.6" stroke="#3a80d0" stroke-width="1.3"/>
<line x1="365.1" y1="61.1" x2="365.1" y2="70.1" stroke="#3a80d0" stroke-width="1.3"/>
<circle cx="365.1" cy="65.6" r="2.3" fill="#4a94e0"/>
<circle cx="388.6" cy="33.7" r="1.7" fill="none" stroke="#e06a6a" stroke-width="0.6"/>
<circle cx="385.0" cy="37.4" r="1.7" fill="none" stroke="#e06a6a" stroke-width="0.6"/>
<circle cx="379.7" cy="37.4" r="1.7" fill="none" stroke="#e06a6a" stroke-width="0.6"/>
<circle cx="376.1" cy="33.7" r="1.7" fill="none" stroke="#e06a6a" stroke-width="0.6"/>
<circle cx="376.1" cy="28.5" r="1.7" fill="none" stroke="#e06a6a" stroke-width="0.6"/>
<circle cx="379.7" cy="24.8" r="1.7" fill="none" stroke="#e06a6a" stroke-width="0.6"/>
<circle cx="385.0" cy="24.8" r="1.7" fill="none" stroke="#e06a6a" stroke-width="0.6"/>
<circle cx="388.6" cy="28.5" r="1.7" fill="none" stroke="#e06a6a" stroke-width="0.6"/>
<circle cx="382.4" cy="31.1" r="4.4" fill="none" stroke="#d82a2a" stroke-width="1.1" stroke-dasharray="1.4 1"/>
<line x1="377.9" y1="31.1" x2="386.9" y2="31.1" stroke="#3a80d0" stroke-width="1.3"/>
<line x1="382.4" y1="26.6" x2="382.4" y2="35.6" stroke="#3a80d0" stroke-width="1.3"/>
<circle cx="382.4" cy="31.1" r="2.3" fill="#4a94e0"/>
<circle cx="388.6" cy="51.0" r="1.7" fill="none" stroke="#e06a6a" stroke-width="0.6"/>
<circle cx="385.0" cy="54.6" r="1.7" fill="none" stroke="#e06a6a" stroke-width="0.6"/>
<circle cx="379.7" cy="54.6" r="1.7" fill="none" stroke="#e06a6a" stroke-width="0.6"/>
<circle cx="376.1" cy="51.0" r="1.7" fill="none" stroke="#e06a6a" stroke-width="0.6"/>
<circle cx="376.1" cy="45.7" r="1.7" fill="none" stroke="#e06a6a" stroke-width="0.6"/>
<circle cx="379.7" cy="42.1" r="1.7" fill="none" stroke="#e06a6a" stroke-width="0.6"/>
<circle cx="385.0" cy="42.1" r="1.7" fill="none" stroke="#e06a6a" stroke-width="0.6"/>
<circle cx="388.6" cy="45.7" r="1.7" fill="none" stroke="#e06a6a" stroke-width="0.6"/>
<circle cx="382.4" cy="48.4" r="4.4" fill="none" stroke="#d82a2a" stroke-width="1.1" stroke-dasharray="1.4 1"/>
<line x1="377.9" y1="48.4" x2="386.9" y2="48.4" stroke="#3a80d0" stroke-width="1.3"/>
<line x1="382.4" y1="43.9" x2="382.4" y2="52.9" stroke="#3a80d0" stroke-width="1.3"/>
<circle cx="382.4" cy="48.4" r="2.3" fill="#4a94e0"/>
<circle cx="388.6" cy="68.2" r="1.7" fill="none" stroke="#e06a6a" stroke-width="0.6"/>
<circle cx="385.0" cy="71.9" r="1.7" fill="none" stroke="#e06a6a" stroke-width="0.6"/>
<circle cx="379.7" cy="71.9" r="1.7" fill="none" stroke="#e06a6a" stroke-width="0.6"/>
<circle cx="376.1" cy="68.2" r="1.7" fill="none" stroke="#e06a6a" stroke-width="0.6"/>
<circle cx="376.1" cy="63.0" r="1.7" fill="none" stroke="#e06a6a" stroke-width="0.6"/>
<circle cx="379.7" cy="59.3" r="1.7" fill="none" stroke="#e06a6a" stroke-width="0.6"/>
<circle cx="385.0" cy="59.3" r="1.7" fill="none" stroke="#e06a6a" stroke-width="0.6"/>
<circle cx="388.6" cy="63.0" r="1.7" fill="none" stroke="#e06a6a" stroke-width="0.6"/>
<circle cx="382.4" cy="65.6" r="4.4" fill="none" stroke="#d82a2a" stroke-width="1.1" stroke-dasharray="1.4 1"/>
<line x1="377.9" y1="65.6" x2="386.9" y2="65.6" stroke="#3a80d0" stroke-width="1.3"/>
<line x1="382.4" y1="61.1" x2="382.4" y2="70.1" stroke="#3a80d0" stroke-width="1.3"/>
<circle cx="382.4" cy="65.6" r="2.3" fill="#4a94e0"/>
<circle cx="405.9" cy="33.7" r="1.7" fill="none" stroke="#e06a6a" stroke-width="0.6"/>
<circle cx="402.2" cy="37.4" r="1.7" fill="none" stroke="#e06a6a" stroke-width="0.6"/>
<circle cx="397.0" cy="37.4" r="1.7" fill="none" stroke="#e06a6a" stroke-width="0.6"/>
<circle cx="393.3" cy="33.7" r="1.7" fill="none" stroke="#e06a6a" stroke-width="0.6"/>
<circle cx="393.3" cy="28.5" r="1.7" fill="none" stroke="#e06a6a" stroke-width="0.6"/>
<circle cx="397.0" cy="24.8" r="1.7" fill="none" stroke="#e06a6a" stroke-width="0.6"/>
<circle cx="402.2" cy="24.8" r="1.7" fill="none" stroke="#e06a6a" stroke-width="0.6"/>
<circle cx="405.9" cy="28.5" r="1.7" fill="none" stroke="#e06a6a" stroke-width="0.6"/>
<circle cx="399.6" cy="31.1" r="4.4" fill="none" stroke="#d82a2a" stroke-width="1.1" stroke-dasharray="1.4 1"/>
<line x1="395.1" y1="31.1" x2="404.1" y2="31.1" stroke="#3a80d0" stroke-width="1.3"/>
<line x1="399.6" y1="26.6" x2="399.6" y2="35.6" stroke="#3a80d0" stroke-width="1.3"/>
<circle cx="399.6" cy="31.1" r="2.3" fill="#4a94e0"/>
<circle cx="405.9" cy="51.0" r="1.7" fill="none" stroke="#e06a6a" stroke-width="0.6"/>
<circle cx="402.2" cy="54.6" r="1.7" fill="none" stroke="#e06a6a" stroke-width="0.6"/>
<circle cx="397.0" cy="54.6" r="1.7" fill="none" stroke="#e06a6a" stroke-width="0.6"/>
<circle cx="393.3" cy="51.0" r="1.7" fill="none" stroke="#e06a6a" stroke-width="0.6"/>
<circle cx="393.3" cy="45.7" r="1.7" fill="none" stroke="#e06a6a" stroke-width="0.6"/>
<circle cx="397.0" cy="42.1" r="1.7" fill="none" stroke="#e06a6a" stroke-width="0.6"/>
<circle cx="402.2" cy="42.1" r="1.7" fill="none" stroke="#e06a6a" stroke-width="0.6"/>
<circle cx="405.9" cy="45.7" r="1.7" fill="none" stroke="#e06a6a" stroke-width="0.6"/>
<circle cx="399.6" cy="48.4" r="4.4" fill="none" stroke="#d82a2a" stroke-width="1.1" stroke-dasharray="1.4 1"/>
<line x1="395.1" y1="48.4" x2="404.1" y2="48.4" stroke="#3a80d0" stroke-width="1.3"/>
<line x1="399.6" y1="43.9" x2="399.6" y2="52.9" stroke="#3a80d0" stroke-width="1.3"/>
<circle cx="399.6" cy="48.4" r="2.3" fill="#4a94e0"/>
<circle cx="405.9" cy="68.2" r="1.7" fill="none" stroke="#e06a6a" stroke-width="0.6"/>
<circle cx="402.2" cy="71.9" r="1.7" fill="none" stroke="#e06a6a" stroke-width="0.6"/>
<circle cx="397.0" cy="71.9" r="1.7" fill="none" stroke="#e06a6a" stroke-width="0.6"/>
<circle cx="393.3" cy="68.2" r="1.7" fill="none" stroke="#e06a6a" stroke-width="0.6"/>
<circle cx="393.3" cy="63.0" r="1.7" fill="none" stroke="#e06a6a" stroke-width="0.6"/>
<circle cx="397.0" cy="59.3" r="1.7" fill="none" stroke="#e06a6a" stroke-width="0.6"/>
<circle cx="402.2" cy="59.3" r="1.7" fill="none" stroke="#e06a6a" stroke-width="0.6"/>
<circle cx="405.9" cy="63.0" r="1.7" fill="none" stroke="#e06a6a" stroke-width="0.6"/>
<circle cx="399.6" cy="65.6" r="4.4" fill="none" stroke="#d82a2a" stroke-width="1.1" stroke-dasharray="1.4 1"/>
<line x1="395.1" y1="65.6" x2="404.1" y2="65.6" stroke="#3a80d0" stroke-width="1.3"/>
<line x1="399.6" y1="61.1" x2="399.6" y2="70.1" stroke="#3a80d0" stroke-width="1.3"/>
<circle cx="399.6" cy="65.6" r="2.3" fill="#4a94e0"/>
</g>
<path d="M257.60,149.70 L258.09,149.61 L258.74,149.50 L259.52,149.36 L260.38,149.21 L261.30,149.04 L262.23,148.86 L263.14,148.68 L264.00,148.50 L264.83,148.31 L265.69,148.11 L266.55,147.90 L267.42,147.69 L268.28,147.47 L269.12,147.24 L269.93,147.02 L270.70,146.80 L271.43,146.58 L272.11,146.37 L272.77,146.16 L273.41,145.94 L274.04,145.72 L274.68,145.49 L275.33,145.25 L276.00,145.00 L276.70,144.73 L277.42,144.46 L278.15,144.17 L278.88,143.88 L279.61,143.57 L280.33,143.26 L281.03,142.93 L281.70,142.60 L282.35,142.26 L282.98,141.90 L283.60,141.53 L284.21,141.15 L284.80,140.77 L285.38,140.38 L285.94,139.99 L286.50,139.60 L287.05,139.21 L287.60,138.80 L288.13,138.39 L288.66,137.97 L289.16,137.56 L289.64,137.16 L290.09,136.77 L290.50,136.40 L290.87,136.06 L291.19,135.75 L291.47,135.47 L291.73,135.19 L291.98,134.90 L292.24,134.58 L292.50,134.22 L292.80,133.80 L293.12,133.34 L293.44,132.85 L293.78,132.34 L294.12,131.79 L294.46,131.20 L294.81,130.58 L295.15,129.91 L295.50,129.20 L295.84,128.45 L296.18,127.66 L296.51,126.84 L296.85,125.97 L297.19,125.06 L297.55,124.09 L297.92,123.08 L298.30,122.00 L298.70,120.85 L299.13,119.63 L299.57,118.35 L300.01,117.02 L300.46,115.66 L300.92,114.27 L301.36,112.88 L301.80,111.50 L302.22,110.18 L302.62,108.93 L303.01,107.71 L303.40,106.45 L303.80,105.10 L304.23,103.62 L304.69,101.93 L305.20,100.00 L305.76,97.74 L306.36,95.16 L307.00,92.36 L307.66,89.44 L308.33,86.48 L309.01,83.57 L309.67,80.81 L310.30,78.30 L310.91,76.00 L311.52,73.81 L312.12,71.71 L312.71,69.70 L313.31,67.76 L313.90,65.87 L314.50,64.02 L315.10,62.20 L315.71,60.40 L316.34,58.62 L316.97,56.88 L317.60,55.20 L318.22,53.59 L318.84,52.06 L319.43,50.62 L320.00,49.30 L320.54,48.09 L321.06,46.98 L321.57,45.97 L322.06,45.04 L322.54,44.18 L323.02,43.40 L323.51,42.67 L324.00,42.00 L324.50,41.37 L325.00,40.78 L325.50,40.26 L326.00,39.80 L326.50,39.42 L327.00,39.14 L327.50,38.96 L328.00,38.90 L328.50,38.96 L329.00,39.14 L329.50,39.42 L330.00,39.80 L330.50,40.26 L331.00,40.78 L331.50,41.37 L332.00,42.00 L332.49,42.67 L332.98,43.40 L333.46,44.18 L333.94,45.04 L334.43,45.97 L334.94,46.98 L335.46,48.09 L336.00,49.30 L336.57,50.62 L337.16,52.06 L337.78,53.59 L338.40,55.20 L339.03,56.88 L339.66,58.62 L340.29,60.40 L340.90,62.20 L341.50,64.02 L342.11,65.87 L342.71,67.76 L343.31,69.70 L343.90,71.71 L344.50,73.81 L345.10,76.00 L345.70,78.30 L346.31,80.81 L346.94,83.57 L347.57,86.48 L348.21,89.44 L348.82,92.36 L349.42,95.16 L349.98,97.74 L350.50,100.00 L350.97,101.93 L351.39,103.62 L351.77,105.10 L352.14,106.45 L352.49,107.71 L352.84,108.93 L353.21,110.18 L353.60,111.50 L354.01,112.87 L354.44,114.24 L354.87,115.60 L355.31,116.94 L355.74,118.25 L356.17,119.54 L356.59,120.79 L357.00,122.00 L357.40,123.18 L357.79,124.34 L358.17,125.47 L358.54,126.58 L358.91,127.63 L359.28,128.65 L359.64,129.60 L360.00,130.50 L360.35,131.33 L360.69,132.09 L361.03,132.81 L361.36,133.47 L361.69,134.09 L362.02,134.68 L362.36,135.25 L362.70,135.80 L363.04,136.32 L363.38,136.81 L363.71,137.26 L364.05,137.69 L364.39,138.09 L364.75,138.47 L365.12,138.84 L365.50,139.20 L365.90,139.55 L366.31,139.87 L366.74,140.18 L367.18,140.47 L367.62,140.75 L368.07,141.01 L368.53,141.26 L369.00,141.50 L369.47,141.72 L369.94,141.93 L370.42,142.13 L370.91,142.31 L371.41,142.47 L371.93,142.63 L372.45,142.77 L373.00,142.90 L373.55,143.02 L374.11,143.14 L374.67,143.24 L375.26,143.33 L375.86,143.41 L376.50,143.46 L377.18,143.49 L377.90,143.50 L378.68,143.48 L379.52,143.44 L380.41,143.37 L381.32,143.28 L382.25,143.18 L383.18,143.06 L384.10,142.93 L385.00,142.80 L385.89,142.65 L386.78,142.48 L387.68,142.29 L388.57,142.09 L389.46,141.88 L390.33,141.68 L391.18,141.48 L392.00,141.30 L392.83,141.12 L393.69,140.93 L394.55,140.74 L395.39,140.56 L396.17,140.38 L396.87,140.23 L397.45,140.10 L397.90,140.00" fill="none" stroke="#c8102e" stroke-width="1.3" stroke-linejoin="round" />
<circle cx="257.60" cy="149.16" r="3.1" fill="url(#sph)"/>
<circle cx="292.80" cy="133.59" r="3.1" fill="url(#sph)"/>
<circle cx="328.00" cy="38.78" r="3.1" fill="url(#sph)"/>
<circle cx="363.20" cy="135.54" r="3.1" fill="url(#sph)"/>
<circle cx="398.40" cy="139.54" r="3.1" fill="url(#sph)"/>
<rect x="240.0" y="16.8" width="176.0" height="149.79999999999998" fill="none" stroke="#000" stroke-width="1.5"/>
<line x1="237.00" y1="154.20" x2="240.00" y2="154.20" stroke="#000" stroke-width="1.2" />
<text x="235.00" y="157.70" font-size="10" font-weight="bold" text-anchor="end" fill="#000" >0</text>
<line x1="237.00" y1="131.30" x2="240.00" y2="131.30" stroke="#000" stroke-width="1.2" />
<text x="235.00" y="134.80" font-size="10" font-weight="bold" text-anchor="end" fill="#000" >2</text>
<line x1="237.00" y1="108.40" x2="240.00" y2="108.40" stroke="#000" stroke-width="1.2" />
<text x="235.00" y="111.90" font-size="10" font-weight="bold" text-anchor="end" fill="#000" >4</text>
<line x1="237.00" y1="85.50" x2="240.00" y2="85.50" stroke="#000" stroke-width="1.2" />
<text x="235.00" y="89.00" font-size="10" font-weight="bold" text-anchor="end" fill="#000" >6</text>
<line x1="237.00" y1="62.60" x2="240.00" y2="62.60" stroke="#000" stroke-width="1.2" />
<text x="235.00" y="66.10" font-size="10" font-weight="bold" text-anchor="end" fill="#000" >8</text>
<line x1="237.00" y1="39.70" x2="240.00" y2="39.70" stroke="#000" stroke-width="1.2" />
<text x="235.00" y="43.20" font-size="10" font-weight="bold" text-anchor="end" fill="#000" >10</text>
<line x1="237.00" y1="16.80" x2="240.00" y2="16.80" stroke="#000" stroke-width="1.2" />
<text x="235.00" y="20.30" font-size="10" font-weight="bold" text-anchor="end" fill="#000" >12</text>
<line x1="238.20" y1="165.65" x2="240.00" y2="165.65" stroke="#000" stroke-width="1.0" />
<line x1="238.20" y1="142.75" x2="240.00" y2="142.75" stroke="#000" stroke-width="1.0" />
<line x1="238.20" y1="119.85" x2="240.00" y2="119.85" stroke="#000" stroke-width="1.0" />
<line x1="238.20" y1="96.95" x2="240.00" y2="96.95" stroke="#000" stroke-width="1.0" />
<line x1="238.20" y1="74.05" x2="240.00" y2="74.05" stroke="#000" stroke-width="1.0" />
<line x1="238.20" y1="51.15" x2="240.00" y2="51.15" stroke="#000" stroke-width="1.0" />
<line x1="238.20" y1="28.25" x2="240.00" y2="28.25" stroke="#000" stroke-width="1.0" />
<line x1="257.60" y1="166.60" x2="257.60" y2="169.60" stroke="#000" stroke-width="1.2" />
<line x1="275.20" y1="166.60" x2="275.20" y2="168.40" stroke="#000" stroke-width="1.0" />
<text x="257.30" y="179.90" font-size="10" font-weight="bold" text-anchor="middle" fill="#000" >0%</text>
<line x1="292.80" y1="166.60" x2="292.80" y2="169.60" stroke="#000" stroke-width="1.2" />
<line x1="310.40" y1="166.60" x2="310.40" y2="168.40" stroke="#000" stroke-width="1.0" />
<text x="292.50" y="179.90" font-size="10" font-weight="bold" text-anchor="middle" fill="#000" >3%</text>
<line x1="328.00" y1="166.60" x2="328.00" y2="169.60" stroke="#000" stroke-width="1.2" />
<line x1="345.60" y1="166.60" x2="345.60" y2="168.40" stroke="#000" stroke-width="1.0" />
<text x="327.70" y="179.90" font-size="10" font-weight="bold" text-anchor="middle" fill="#000" >5%</text>
<line x1="363.20" y1="166.60" x2="363.20" y2="169.60" stroke="#000" stroke-width="1.2" />
<line x1="380.80" y1="166.60" x2="380.80" y2="168.40" stroke="#000" stroke-width="1.0" />
<text x="362.90" y="179.90" font-size="10" font-weight="bold" text-anchor="middle" fill="#000" >7%</text>
<line x1="398.40" y1="166.60" x2="398.40" y2="169.60" stroke="#000" stroke-width="1.2" />
<line x1="416.00" y1="166.60" x2="416.00" y2="168.40" stroke="#000" stroke-width="1.0" />
<text x="398.10" y="179.90" font-size="10" font-weight="bold" text-anchor="middle" fill="#000" >9%</text>
<line x1="240.00" y1="166.60" x2="240.00" y2="168.40" stroke="#000" stroke-width="1.0" />
<text x="266.3" y="193.5" font-size="10.1" font-weight="bold">Molar content of Cp<tspan font-size="7" dy="2.3">2</tspan><tspan dy="-2.3">ZrCl</tspan><tspan font-size="7" dy="2.3">2</tspan></text>
<text transform="translate(211.6,115.2) rotate(-90)" font-size="10" font-weight="bold">CPO<tspan font-size="7.2" dy="3">002/111</tspan></text>
<text x="280.30" y="99.40" font-size="12" font-weight="bold" text-anchor="middle" fill="#000" >{111}</text>
<text x="385.00" y="88.60" font-size="12" font-weight="bold" text-anchor="middle" fill="#000" >{001}</text>
<text x="212.60" y="13.20" font-size="18" font-weight="bold" text-anchor="start" fill="#000" >b</text>
<defs>
<filter id="blur6" x="-5%" y="-5%" width="110%" height="110%"><feGaussianBlur stdDeviation="0.55"/></filter>
<filter id="blur8" x="-5%" y="-5%" width="110%" height="110%"><feGaussianBlur stdDeviation="0.85"/></filter>
<pattern id="tem" patternUnits="userSpaceOnUse" x="2.875" y="1.525" width="8.05" height="7.95">
<rect width="8.05" height="7.95" fill="#909090"/>
<ellipse cx="7.33" cy="7.08" rx="2.3" ry="1.5" fill="#e4e4e4" transform="rotate(-35 7.33 7.08)"/>
<ellipse cx="-0.73" cy="7.08" rx="2.3" ry="1.5" fill="#e4e4e4" transform="rotate(-35 -0.73 7.08)"/>
<ellipse cx="7.33" cy="-0.88" rx="2.3" ry="1.5" fill="#e4e4e4" transform="rotate(-35 7.33 -0.88)"/>
<ellipse cx="-0.73" cy="-0.88" rx="2.3" ry="1.5" fill="#e4e4e4" transform="rotate(-35 -0.73 -0.88)"/>
<ellipse cx="2.83" cy="7.97" rx="1.2" ry="0.9" fill="#c8c8c8"/>
<ellipse cx="2.83" cy="0.02" rx="1.2" ry="0.9" fill="#c8c8c8"/>
<ellipse cx="3.63" cy="3.58" rx="3.1" ry="2.9" fill="#4a4a4a"/>
<ellipse cx="3.83" cy="3.77" rx="2.0" ry="1.9" fill="#161616"/>
</pattern>
<linearGradient id="temfade" x1="0" y1="0" x2="0.2" y2="1">
<stop offset="0" stop-color="#8c8c8c" stop-opacity="0.9"/><stop offset="0.15" stop-color="#8c8c8c" stop-opacity="0.75"/><stop offset="0.3" stop-color="#8c8c8c" stop-opacity="0.42"/><stop offset="0.47" stop-color="#8c8c8c" stop-opacity="0"/></linearGradient>
</defs>
<clipPath id="ctem"><rect x="431.3" y="16" width="163.8" height="163.2"/></clipPath>
<g clip-path="url(#ctem)"><g filter="url(#blur6)"><rect x="429.3" y="14.0" width="167.8" height="167.2" fill="url(#tem)"/></g></g>
<rect x="431.30" y="16.00" width="163.80" height="163.20" fill="url(#temfade)" />
<defs><radialGradient id="lfade"><stop offset="0" stop-color="#8c8c8c" stop-opacity="0.55"/><stop offset="0.6" stop-color="#8c8c8c" stop-opacity="0.3"/><stop offset="1" stop-color="#8c8c8c" stop-opacity="0"/></radialGradient></defs>
<g clip-path="url(#ctem)"><ellipse cx="432" cy="100" rx="42" ry="50" fill="url(#lfade)"/></g>
<defs><linearGradient id="rfade" x1="0" y1="0" x2="1" y2="0"><stop offset="0" stop-color="#8c8c8c" stop-opacity="0"/><stop offset="1" stop-color="#8c8c8c" stop-opacity="0.4"/></linearGradient></defs>
<rect x="515.00" y="16.00" width="80.10" height="163.20" fill="url(#rfade)" />
<rect x="431.30" y="16.00" width="54.00" height="55.70" fill="#000" />
<line x1="436.2" y1="58.5" x2="482.5" y2="28.9" stroke="#707070" stroke-width="2.6" opacity="0.22"/>
<line x1="440" y1="56" x2="478" y2="31.5" stroke="#999" stroke-width="0.6" opacity="0.25"/>
<circle cx="440.7" cy="45.0" r="0.65" fill="#fff" opacity="0.23"/>
<circle cx="445.2" cy="40.5" r="0.65" fill="#fff" opacity="0.08"/>
<circle cx="445.2" cy="45.0" r="0.65" fill="#fff" opacity="0.36"/>
<circle cx="445.2" cy="49.5" r="0.65" fill="#fff" opacity="0.08"/>
<circle cx="449.7" cy="36.0" r="0.65" fill="#fff" opacity="0.08"/>
<circle cx="449.7" cy="40.5" r="0.65" fill="#fff" opacity="0.21"/>
<circle cx="449.7" cy="45.0" r="0.65" fill="#fff" opacity="0.49"/>
<circle cx="449.7" cy="49.5" r="0.65" fill="#fff" opacity="0.21"/>
<circle cx="449.7" cy="54.0" r="0.65" fill="#fff" opacity="0.08"/>
<circle cx="454.2" cy="31.5" r="0.65" fill="#fff" opacity="0.08"/>
<circle cx="454.2" cy="36.0" r="0.65" fill="#fff" opacity="0.21"/>
<circle cx="454.2" cy="40.5" r="0.65" fill="#fff" opacity="0.34"/>
<circle cx="454.2" cy="45.0" r="0.65" fill="#fff" opacity="0.62"/>
<circle cx="454.2" cy="49.5" r="0.65" fill="#fff" opacity="0.34"/>
<circle cx="454.2" cy="54.0" r="0.65" fill="#fff" opacity="0.21"/>
<circle cx="454.2" cy="58.5" r="0.65" fill="#fff" opacity="0.08"/>
<circle cx="458.7" cy="27.0" r="0.65" fill="#fff" opacity="0.23"/>
<circle cx="458.7" cy="31.5" r="0.65" fill="#fff" opacity="0.36"/>
<circle cx="458.7" cy="36.0" r="0.65" fill="#fff" opacity="0.49"/>
<circle cx="458.7" cy="40.5" r="0.65" fill="#fff" opacity="0.62"/>
<circle cx="458.7" cy="45.0" r="0.65" fill="#fff" opacity="0.75"/>
<circle cx="458.7" cy="49.5" r="0.65" fill="#fff" opacity="0.62"/>
<circle cx="458.7" cy="54.0" r="0.65" fill="#fff" opacity="0.49"/>
<circle cx="458.7" cy="58.5" r="0.65" fill="#fff" opacity="0.36"/>
<circle cx="458.7" cy="63.0" r="0.65" fill="#fff" opacity="0.23"/>
<circle cx="463.2" cy="31.5" r="0.65" fill="#fff" opacity="0.08"/>
<circle cx="463.2" cy="36.0" r="0.65" fill="#fff" opacity="0.21"/>
<circle cx="463.2" cy="40.5" r="0.65" fill="#fff" opacity="0.34"/>
<circle cx="463.2" cy="45.0" r="0.65" fill="#fff" opacity="0.62"/>
<circle cx="463.2" cy="49.5" r="0.65" fill="#fff" opacity="0.34"/>
<circle cx="463.2" cy="54.0" r="0.65" fill="#fff" opacity="0.21"/>
<circle cx="463.2" cy="58.5" r="0.65" fill="#fff" opacity="0.08"/>
<circle cx="467.7" cy="36.0" r="0.65" fill="#fff" opacity="0.08"/>
<circle cx="467.7" cy="40.5" r="0.65" fill="#fff" opacity="0.21"/>
<circle cx="467.7" cy="45.0" r="0.65" fill="#fff" opacity="0.49"/>
<circle cx="467.7" cy="49.5" r="0.65" fill="#fff" opacity="0.21"/>
<circle cx="467.7" cy="54.0" r="0.65" fill="#fff" opacity="0.08"/>
<circle cx="472.2" cy="40.5" r="0.65" fill="#fff" opacity="0.08"/>
<circle cx="472.2" cy="45.0" r="0.65" fill="#fff" opacity="0.36"/>
<circle cx="472.2" cy="49.5" r="0.65" fill="#fff" opacity="0.08"/>
<circle cx="476.7" cy="45.0" r="0.65" fill="#fff" opacity="0.23"/>
<text x="458.4" y="68.9" font-size="13" font-weight="bold" fill="#fff" text-anchor="middle" style="font-family:'Liberation Serif',serif">&lt; 0 0 1 &gt;</text>
<rect x="467.3" y="94.6" width="46.0" height="45.6" fill="none" stroke="#fff" stroke-width="2.6" stroke-dasharray="6.4 3.0"/>
<text x="435.8" y="164.4" font-size="15" font-weight="bold" fill="#fff" style="font-family:'Liberation Serif',serif">4 nm</text>
<rect x="436.30" y="169.30" width="32.50" height="2.60" fill="#fff" />
<rect x="595.10" y="16.00" width="0.90" height="163.20" fill="#fff" />
<defs>
<pattern id="sim" patternUnits="userSpaceOnUse" x="598.67" y="100.58" width="15.45" height="15.45">
<rect width="15.45" height="15.45" fill="#f7d434"/>
<rect x="0" y="-0.95" width="15.45" height="1.9" fill="#fffce8"/>
<rect x="-0.95" y="0" width="1.9" height="15.45" fill="#fffce8"/>
<rect x="0" y="14.50" width="15.45" height="1.9" fill="#fffce8"/>
<rect x="14.50" y="0" width="1.9" height="15.45" fill="#fffce8"/>
<rect x="2.1" y="2.1" width="11.25" height="11.25" rx="1.4" fill="#e07016"/>
<rect x="2.9" y="2.9" width="9.65" height="9.65" rx="1.2" fill="#c43c0e"/>
<rect x="4.6" y="4.6" width="6.25" height="6.25" rx="1" fill="#e8780e"/>
<rect x="5.7" y="5.7" width="4.05" height="4.05" rx="1" fill="#f49414"/>
<circle cx="7.725" cy="3.2" r="1.0" fill="#7a1606"/><circle cx="7.725" cy="12.25" r="1.0" fill="#7a1606"/>
<circle cx="3.2" cy="7.725" r="1.0" fill="#7a1606"/><circle cx="12.25" cy="7.725" r="1.0" fill="#7a1606"/>
</pattern>
<pattern id="sim2" patternUnits="userSpaceOnUse" x="598.67" y="17.98" width="15.45" height="15.45">
<rect width="15.45" height="15.45" fill="#f7d434"/>
<rect x="0" y="-0.95" width="15.45" height="1.9" fill="#fffce8"/>
<rect x="-0.95" y="0" width="1.9" height="15.45" fill="#fffce8"/>
<rect x="0" y="14.50" width="15.45" height="1.9" fill="#fffce8"/>
<rect x="14.50" y="0" width="1.9" height="15.45" fill="#fffce8"/>
<rect x="2.1" y="2.1" width="11.25" height="11.25" rx="1.4" fill="#e07016"/>
<rect x="2.9" y="2.9" width="9.65" height="9.65" rx="1.2" fill="#c43c0e"/>
<rect x="4.6" y="4.6" width="6.25" height="6.25" rx="1" fill="#e8780e"/>
<rect x="5.7" y="5.7" width="4.05" height="4.05" rx="1" fill="#f49414"/>
<circle cx="7.725" cy="3.2" r="1.0" fill="#7a1606"/><circle cx="7.725" cy="12.25" r="1.0" fill="#7a1606"/>
<circle cx="3.2" cy="7.725" r="1.0" fill="#7a1606"/><circle cx="12.25" cy="7.725" r="1.0" fill="#7a1606"/>
</pattern>
</defs>
<rect x="596.00" y="16.00" width="82.00" height="81.40" fill="#f4b832" />
<clipPath id="ctop"><rect x="596" y="16" width="82" height="81.4"/></clipPath>
<g clip-path="url(#ctop)"><g filter="url(#blur8)"><path d="M600.1,12.0 L596.5,15.7 L600.3,19.3 L595.7,23.4 L599.7,27.6 L595.8,31.8 L600.2,35.4 L595.8,40.2 L600.4,44.0 L596.4,48.9 L600.8,53.0 L596.7,56.6 L599.8,60.5 L596.0,64.2 L599.9,68.9 L596.4,73.3 L600.3,77.4 L595.7,81.0 L600.5,84.8 L596.1,88.9 L600.2,93.3 L596.6,97.2" fill="none" stroke="#f8d448" stroke-width="6" stroke-linejoin="round"/>
<path d="M600.1,12.0 L596.5,15.7 L600.3,19.3 L595.7,23.4 L599.7,27.6 L595.8,31.8 L600.2,35.4 L595.8,40.2 L600.4,44.0 L596.4,48.9 L600.8,53.0 L596.7,56.6 L599.8,60.5 L596.0,64.2 L599.9,68.9 L596.4,73.3 L600.3,77.4 L595.7,81.0 L600.5,84.8 L596.1,88.9 L600.2,93.3 L596.6,97.2" fill="none" stroke="#fff6d0" stroke-width="2.8" stroke-linejoin="round"/>
<path d="M615.4,12.0 L611.8,16.4 L616.0,21.2 L612.3,25.1 L615.6,28.8 L611.3,33.4 L615.2,37.7 L612.0,42.2 L616.2,46.5 L612.0,50.5 L615.8,54.9 L612.1,59.1 L615.7,64.0 L611.2,68.5 L615.9,73.0 L612.1,78.0 L615.6,81.9 L611.2,86.4 L615.3,90.6 L611.2,94.3 L615.3,99.0" fill="none" stroke="#f8d448" stroke-width="6" stroke-linejoin="round"/>
<path d="M615.4,12.0 L611.8,16.4 L616.0,21.2 L612.3,25.1 L615.6,28.8 L611.3,33.4 L615.2,37.7 L612.0,42.2 L616.2,46.5 L612.0,50.5 L615.8,54.9 L612.1,59.1 L615.7,64.0 L611.2,68.5 L615.9,73.0 L612.1,78.0 L615.6,81.9 L611.2,86.4 L615.3,90.6 L611.2,94.3 L615.3,99.0" fill="none" stroke="#fff6d0" stroke-width="2.8" stroke-linejoin="round"/>
<path d="M631.0,12.0 L626.7,16.8 L631.2,21.0 L627.6,25.8 L630.9,30.6 L627.0,34.7 L631.7,39.6 L626.8,43.3 L630.9,47.1 L627.3,51.4 L630.6,55.2 L627.0,59.4 L631.7,63.7 L627.2,68.3 L631.4,72.7 L627.7,76.3 L631.6,80.9 L627.0,85.6 L630.7,89.7 L626.6,94.2 L630.8,97.8" fill="none" stroke="#f8d448" stroke-width="6" stroke-linejoin="round"/>
<path d="M631.0,12.0 L626.7,16.8 L631.2,21.0 L627.6,25.8 L630.9,30.6 L627.0,34.7 L631.7,39.6 L626.8,43.3 L630.9,47.1 L627.3,51.4 L630.6,55.2 L627.0,59.4 L631.7,63.7 L627.2,68.3 L631.4,72.7 L627.7,76.3 L631.6,80.9 L627.0,85.6 L630.7,89.7 L626.6,94.2 L630.8,97.8" fill="none" stroke="#fff6d0" stroke-width="2.8" stroke-linejoin="round"/>
<path d="M646.4,12.0 L642.0,15.6 L646.1,19.3 L642.1,23.4 L646.8,28.2 L642.3,31.9 L646.5,35.9 L643.0,39.6 L646.6,44.6 L642.1,48.8 L646.4,52.5 L643.0,56.4 L646.1,60.1 L642.7,65.0 L646.7,68.7 L642.7,72.3 L647.1,77.3 L642.3,81.8 L646.2,85.8 L642.7,90.5 L646.4,95.2 L643.0,99.0" fill="none" stroke="#f8d448" stroke-width="6" stroke-linejoin="round"/>
<path d="M646.4,12.0 L642.0,15.6 L646.1,19.3 L642.1,23.4 L646.8,28.2 L642.3,31.9 L646.5,35.9 L643.0,39.6 L646.6,44.6 L642.1,48.8 L646.4,52.5 L643.0,56.4 L646.1,60.1 L642.7,65.0 L646.7,68.7 L642.7,72.3 L647.1,77.3 L642.3,81.8 L646.2,85.8 L642.7,90.5 L646.4,95.2 L643.0,99.0" fill="none" stroke="#fff6d0" stroke-width="2.8" stroke-linejoin="round"/>
<path d="M662.5,12.0 L658.5,16.7 L661.7,21.3 L657.9,25.6 L661.5,29.1 L657.8,33.1 L662.6,37.6 L658.6,41.8 L662.6,46.7 L657.7,50.8 L661.7,54.6 L658.2,58.4 L662.5,63.3 L658.3,67.5 L661.6,72.2 L658.6,76.7 L662.4,81.4 L657.7,85.6 L661.9,90.3 L658.6,95.0 L662.0,99.1" fill="none" stroke="#f8d448" stroke-width="6" stroke-linejoin="round"/>
<path d="M662.5,12.0 L658.5,16.7 L661.7,21.3 L657.9,25.6 L661.5,29.1 L657.8,33.1 L662.6,37.6 L658.6,41.8 L662.6,46.7 L657.7,50.8 L661.7,54.6 L658.2,58.4 L662.5,63.3 L658.3,67.5 L661.6,72.2 L658.6,76.7 L662.4,81.4 L657.7,85.6 L661.9,90.3 L658.6,95.0 L662.0,99.1" fill="none" stroke="#fff6d0" stroke-width="2.8" stroke-linejoin="round"/>
<path d="M677.8,12.0 L673.1,15.8 L678.0,19.5 L673.1,24.2 L678.1,28.9 L673.3,33.4 L677.1,37.7 L674.1,41.3 L677.6,45.7 L673.4,50.6 L677.9,55.4 L673.2,59.3 L677.2,63.2 L673.2,67.6 L677.1,71.7 L673.3,76.6 L677.6,80.8 L673.4,85.6 L677.5,90.5 L673.6,94.8 L677.5,98.3" fill="none" stroke="#f8d448" stroke-width="6" stroke-linejoin="round"/>
<path d="M677.8,12.0 L673.1,15.8 L678.0,19.5 L673.1,24.2 L678.1,28.9 L673.3,33.4 L677.1,37.7 L674.1,41.3 L677.6,45.7 L673.4,50.6 L677.9,55.4 L673.2,59.3 L677.2,63.2 L673.2,67.6 L677.1,71.7 L673.3,76.6 L677.6,80.8 L673.4,85.6 L677.5,90.5 L673.6,94.8 L677.5,98.3" fill="none" stroke="#fff6d0" stroke-width="2.8" stroke-linejoin="round"/>
<path d="M692.4,12.0 L688.6,16.7 L693.2,20.9 L688.8,25.2 L693.0,29.5 L688.5,34.2 L692.7,38.5 L689.3,42.5 L693.0,46.7 L689.5,51.4 L693.1,55.5 L689.0,59.8 L692.9,64.3 L688.9,68.6 L693.2,73.5 L689.5,78.3 L693.0,82.2 L689.4,87.1 L692.5,90.9 L688.5,95.0 L692.5,98.9" fill="none" stroke="#f8d448" stroke-width="6" stroke-linejoin="round"/>
<path d="M692.4,12.0 L688.6,16.7 L693.2,20.9 L688.8,25.2 L693.0,29.5 L688.5,34.2 L692.7,38.5 L689.3,42.5 L693.0,46.7 L689.5,51.4 L693.1,55.5 L689.0,59.8 L692.9,64.3 L688.9,68.6 L693.2,73.5 L689.5,78.3 L693.0,82.2 L689.4,87.1 L692.5,90.9 L688.5,95.0 L692.5,98.9" fill="none" stroke="#fff6d0" stroke-width="2.8" stroke-linejoin="round"/>
<ellipse cx="592.3" cy="18.4" rx="2.2" ry="1.4" fill="#f6c848"/>
<ellipse cx="591.8" cy="33.6" rx="2.2" ry="1.4" fill="#f6c848"/>
<ellipse cx="592.8" cy="49.3" rx="2.3" ry="1.4" fill="#f6c848"/>
<ellipse cx="593.3" cy="64.1" rx="2.7" ry="1.4" fill="#f6c848"/>
<ellipse cx="593.5" cy="80.0" rx="2.2" ry="1.4" fill="#f6c848"/>
<ellipse cx="590.1" cy="95.0" rx="2.5" ry="1.4" fill="#f6c848"/>
<ellipse cx="588.7" cy="110.2" rx="3.1" ry="1.4" fill="#f6c848"/>
<ellipse cx="603.1" cy="18.1" rx="2.7" ry="1.4" fill="#f6c848"/>
<ellipse cx="603.1" cy="33.3" rx="2.9" ry="1.4" fill="#f6c848"/>
<ellipse cx="606.1" cy="48.4" rx="3.5" ry="1.4" fill="#f6c848"/>
<ellipse cx="607.7" cy="64.7" rx="2.2" ry="1.4" fill="#f6c848"/>
<ellipse cx="604.6" cy="79.2" rx="3.2" ry="1.4" fill="#f6c848"/>
<ellipse cx="604.6" cy="94.7" rx="2.6" ry="1.4" fill="#f6c848"/>
<ellipse cx="608.5" cy="110.7" rx="2.4" ry="1.4" fill="#f6c848"/>
<ellipse cx="619.3" cy="18.4" rx="2.9" ry="1.4" fill="#f6c848"/>
<ellipse cx="622.7" cy="33.0" rx="2.1" ry="1.4" fill="#f6c848"/>
<ellipse cx="622.6" cy="48.8" rx="2.1" ry="1.4" fill="#f6c848"/>
<ellipse cx="624.1" cy="64.4" rx="3.2" ry="1.4" fill="#f6c848"/>
<ellipse cx="619.0" cy="80.0" rx="2.1" ry="1.4" fill="#f6c848"/>
<ellipse cx="623.6" cy="95.0" rx="2.5" ry="1.4" fill="#f6c848"/>
<ellipse cx="621.8" cy="110.9" rx="2.4" ry="1.4" fill="#f6c848"/>
<ellipse cx="634.7" cy="18.1" rx="2.4" ry="1.4" fill="#f6c848"/>
<ellipse cx="634.6" cy="33.1" rx="2.1" ry="1.4" fill="#f6c848"/>
<ellipse cx="635.1" cy="48.6" rx="2.5" ry="1.4" fill="#f6c848"/>
<ellipse cx="638.5" cy="64.0" rx="2.8" ry="1.4" fill="#f6c848"/>
<ellipse cx="635.0" cy="79.5" rx="2.0" ry="1.4" fill="#f6c848"/>
<ellipse cx="635.4" cy="94.5" rx="3.1" ry="1.4" fill="#f6c848"/>
<ellipse cx="637.2" cy="110.1" rx="2.7" ry="1.4" fill="#f6c848"/>
<ellipse cx="655.0" cy="17.6" rx="3.2" ry="1.4" fill="#f6c848"/>
<ellipse cx="651.9" cy="33.4" rx="3.3" ry="1.4" fill="#f6c848"/>
<ellipse cx="651.7" cy="48.8" rx="3.0" ry="1.4" fill="#f6c848"/>
<ellipse cx="655.2" cy="64.1" rx="3.2" ry="1.4" fill="#f6c848"/>
<ellipse cx="653.6" cy="79.8" rx="2.6" ry="1.4" fill="#f6c848"/>
<ellipse cx="651.4" cy="94.6" rx="2.2" ry="1.4" fill="#f6c848"/>
<ellipse cx="649.8" cy="110.7" rx="2.4" ry="1.4" fill="#f6c848"/>
<ellipse cx="665.8" cy="17.6" rx="3.3" ry="1.4" fill="#f6c848"/>
<ellipse cx="670.0" cy="33.6" rx="2.4" ry="1.4" fill="#f6c848"/>
<ellipse cx="666.3" cy="48.6" rx="2.7" ry="1.4" fill="#f6c848"/>
<ellipse cx="665.7" cy="64.2" rx="2.4" ry="1.4" fill="#f6c848"/>
<ellipse cx="670.6" cy="80.1" rx="2.8" ry="1.4" fill="#f6c848"/>
<ellipse cx="666.3" cy="95.5" rx="2.5" ry="1.4" fill="#f6c848"/>
<ellipse cx="666.9" cy="109.9" rx="2.6" ry="1.4" fill="#f6c848"/>
<ellipse cx="683.1" cy="18.0" rx="2.3" ry="1.4" fill="#f6c848"/>
<ellipse cx="683.3" cy="32.9" rx="2.4" ry="1.4" fill="#f6c848"/>
<ellipse cx="680.8" cy="48.7" rx="2.1" ry="1.4" fill="#f6c848"/>
<ellipse cx="680.4" cy="64.0" rx="2.3" ry="1.4" fill="#f6c848"/>
<ellipse cx="683.8" cy="79.7" rx="3.1" ry="1.4" fill="#f6c848"/>
<ellipse cx="684.2" cy="95.2" rx="3.3" ry="1.4" fill="#f6c848"/>
<ellipse cx="682.6" cy="110.3" rx="3.5" ry="1.4" fill="#f6c848"/>
<rect x="584.4" y="4.7" width="11.4" height="11.8" rx="3.2" fill="#c44a12"/>
<rect x="585.7" y="6.0" width="8.8" height="9.2" rx="2.8" fill="#8a1c08"/>
<circle cx="591.4" cy="7.6" r="1.5" fill="#4a0800" opacity="0.6"/>
<circle cx="592.9" cy="11.1" r="1.4" fill="#4a0800" opacity="0.6"/>
<circle cx="592.4" cy="8.1" r="1.3" fill="#4a0800" opacity="0.6"/>
<circle cx="590.6" cy="12.3" r="1.5" fill="#4a0800" opacity="0.6"/>
<circle cx="592.5" cy="10.8" r="1.5" fill="#4a0800" opacity="0.6"/>
<circle cx="591.6" cy="11.5" r="1.1" fill="#4a0800" opacity="0.6"/>
<circle cx="586.8" cy="7.4" r="0.9" fill="#d05a14" opacity="0.6"/>
<circle cx="587.4" cy="13.0" r="1.0" fill="#d05a14" opacity="0.6"/>
<circle cx="591.6" cy="11.3" r="1.0" fill="#d05a14" opacity="0.6"/>
<rect x="584.8" y="19.2" width="11.4" height="11.8" rx="3.2" fill="#c44a12"/>
<rect x="586.1" y="20.5" width="8.8" height="9.2" rx="2.8" fill="#8a1c08"/>
<circle cx="592.3" cy="27.2" r="1.3" fill="#4a0800" opacity="0.6"/>
<circle cx="590.8" cy="26.7" r="0.9" fill="#4a0800" opacity="0.6"/>
<circle cx="592.0" cy="24.2" r="1.0" fill="#4a0800" opacity="0.6"/>
<circle cx="589.1" cy="27.1" r="1.0" fill="#4a0800" opacity="0.6"/>
<circle cx="592.0" cy="28.6" r="1.2" fill="#4a0800" opacity="0.6"/>
<circle cx="589.8" cy="25.6" r="1.4" fill="#4a0800" opacity="0.6"/>
<circle cx="592.7" cy="26.6" r="1.0" fill="#d05a14" opacity="0.6"/>
<circle cx="587.2" cy="22.9" r="0.8" fill="#d05a14" opacity="0.6"/>
<circle cx="592.5" cy="24.1" r="1.0" fill="#d05a14" opacity="0.6"/>
<rect x="584.3" y="34.7" width="11.4" height="11.8" rx="3.2" fill="#c44a12"/>
<rect x="585.6" y="36.0" width="8.8" height="9.2" rx="2.8" fill="#8a1c08"/>
<circle cx="589.2" cy="42.1" r="1.4" fill="#4a0800" opacity="0.6"/>
<circle cx="591.6" cy="39.8" r="1.3" fill="#4a0800" opacity="0.6"/>
<circle cx="590.3" cy="40.9" r="1.0" fill="#4a0800" opacity="0.6"/>
<circle cx="592.9" cy="39.3" r="1.6" fill="#4a0800" opacity="0.6"/>
<circle cx="593.2" cy="38.2" r="1.2" fill="#4a0800" opacity="0.6"/>
<circle cx="592.5" cy="43.9" r="1.2" fill="#4a0800" opacity="0.6"/>
<circle cx="588.7" cy="38.8" r="1.2" fill="#d05a14" opacity="0.6"/>
<circle cx="588.2" cy="41.8" r="0.8" fill="#d05a14" opacity="0.6"/>
<circle cx="590.7" cy="44.7" r="0.8" fill="#d05a14" opacity="0.6"/>
<rect x="585.2" y="50.6" width="11.4" height="11.8" rx="3.2" fill="#c44a12"/>
<rect x="586.5" y="51.9" width="8.8" height="9.2" rx="2.8" fill="#8a1c08"/>
<circle cx="592.9" cy="57.7" r="1.1" fill="#4a0800" opacity="0.6"/>
<circle cx="592.9" cy="56.4" r="0.9" fill="#4a0800" opacity="0.6"/>
<circle cx="587.6" cy="56.5" r="1.2" fill="#4a0800" opacity="0.6"/>
<circle cx="589.4" cy="54.3" r="1.1" fill="#4a0800" opacity="0.6"/>
<circle cx="589.4" cy="58.5" r="0.9" fill="#4a0800" opacity="0.6"/>
<circle cx="592.1" cy="58.5" r="1.0" fill="#4a0800" opacity="0.6"/>
<circle cx="594.0" cy="58.2" r="1.2" fill="#d05a14" opacity="0.6"/>
<circle cx="588.9" cy="55.5" r="0.9" fill="#d05a14" opacity="0.6"/>
<circle cx="594.5" cy="57.2" r="0.9" fill="#d05a14" opacity="0.6"/>
<rect x="584.8" y="65.7" width="11.4" height="11.8" rx="3.2" fill="#c44a12"/>
<rect x="586.1" y="67.0" width="8.8" height="9.2" rx="2.8" fill="#8a1c08"/>
<circle cx="587.8" cy="69.5" r="1.5" fill="#4a0800" opacity="0.6"/>
<circle cx="589.3" cy="74.5" r="1.1" fill="#4a0800" opacity="0.6"/>
<circle cx="589.1" cy="72.0" r="1.0" fill="#4a0800" opacity="0.6"/>
<circle cx="589.8" cy="74.6" r="1.5" fill="#4a0800" opacity="0.6"/>
<circle cx="592.4" cy="72.7" r="1.5" fill="#4a0800" opacity="0.6"/>
<circle cx="593.2" cy="72.2" r="1.4" fill="#4a0800" opacity="0.6"/>
<circle cx="586.9" cy="73.8" r="0.9" fill="#d05a14" opacity="0.6"/>
<circle cx="592.6" cy="73.1" r="0.8" fill="#d05a14" opacity="0.6"/>
<circle cx="586.9" cy="75.3" r="0.8" fill="#d05a14" opacity="0.6"/>
<rect x="584.8" y="81.2" width="11.4" height="11.8" rx="3.2" fill="#c44a12"/>
<rect x="586.1" y="82.5" width="8.8" height="9.2" rx="2.8" fill="#8a1c08"/>
<circle cx="589.3" cy="88.7" r="1.6" fill="#4a0800" opacity="0.6"/>
<circle cx="589.1" cy="88.2" r="1.1" fill="#4a0800" opacity="0.6"/>
<circle cx="590.9" cy="86.7" r="1.0" fill="#4a0800" opacity="0.6"/>
<circle cx="588.5" cy="85.5" r="1.5" fill="#4a0800" opacity="0.6"/>
<circle cx="590.5" cy="85.6" r="1.5" fill="#4a0800" opacity="0.6"/>
<circle cx="593.5" cy="87.0" r="1.0" fill="#4a0800" opacity="0.6"/>
<circle cx="588.1" cy="84.0" r="0.9" fill="#d05a14" opacity="0.6"/>
<circle cx="587.3" cy="85.2" r="0.8" fill="#d05a14" opacity="0.6"/>
<circle cx="591.1" cy="90.4" r="1.1" fill="#d05a14" opacity="0.6"/>
<rect x="584.7" y="96.7" width="11.4" height="11.8" rx="3.2" fill="#c44a12"/>
<rect x="586.0" y="98.0" width="8.8" height="9.2" rx="2.8" fill="#8a1c08"/>
<circle cx="590.7" cy="102.0" r="1.1" fill="#4a0800" opacity="0.6"/>
<circle cx="587.9" cy="101.4" r="1.6" fill="#4a0800" opacity="0.6"/>
<circle cx="588.3" cy="102.7" r="1.3" fill="#4a0800" opacity="0.6"/>
<circle cx="592.7" cy="101.0" r="1.1" fill="#4a0800" opacity="0.6"/>
<circle cx="589.0" cy="102.1" r="1.2" fill="#4a0800" opacity="0.6"/>
<circle cx="593.3" cy="104.8" r="1.5" fill="#4a0800" opacity="0.6"/>
<circle cx="586.7" cy="99.0" r="1.1" fill="#d05a14" opacity="0.6"/>
<circle cx="593.7" cy="102.5" r="1.0" fill="#d05a14" opacity="0.6"/>
<circle cx="586.6" cy="101.8" r="1.2" fill="#d05a14" opacity="0.6"/>
<rect x="600.7" y="4.8" width="11.4" height="11.8" rx="3.2" fill="#c44a12"/>
<rect x="602.0" y="6.1" width="8.8" height="9.2" rx="2.8" fill="#8a1c08"/>
<circle cx="608.8" cy="8.8" r="1.0" fill="#4a0800" opacity="0.6"/>
<circle cx="603.9" cy="10.4" r="1.4" fill="#4a0800" opacity="0.6"/>
<circle cx="608.6" cy="11.6" r="1.4" fill="#4a0800" opacity="0.6"/>
<circle cx="607.6" cy="10.0" r="1.3" fill="#4a0800" opacity="0.6"/>
<circle cx="603.2" cy="12.0" r="1.1" fill="#4a0800" opacity="0.6"/>
<circle cx="608.5" cy="11.2" r="1.1" fill="#4a0800" opacity="0.6"/>
<circle cx="603.0" cy="8.3" r="1.0" fill="#d05a14" opacity="0.6"/>
<circle cx="607.6" cy="7.2" r="0.7" fill="#d05a14" opacity="0.6"/>
<circle cx="606.2" cy="11.0" r="0.9" fill="#d05a14" opacity="0.6"/>
<rect x="600.0" y="19.9" width="11.4" height="11.8" rx="3.2" fill="#c44a12"/>
<rect x="601.3" y="21.2" width="8.8" height="9.2" rx="2.8" fill="#8a1c08"/>
<circle cx="603.1" cy="24.5" r="1.2" fill="#4a0800" opacity="0.6"/>
<circle cx="608.8" cy="26.6" r="1.5" fill="#4a0800" opacity="0.6"/>
<circle cx="605.9" cy="24.1" r="1.1" fill="#4a0800" opacity="0.6"/>
<circle cx="608.8" cy="26.9" r="1.1" fill="#4a0800" opacity="0.6"/>
<circle cx="603.1" cy="25.7" r="1.4" fill="#4a0800" opacity="0.6"/>
<circle cx="605.5" cy="24.2" r="1.4" fill="#4a0800" opacity="0.6"/>
<circle cx="609.4" cy="23.5" r="0.7" fill="#d05a14" opacity="0.6"/>
<circle cx="604.7" cy="25.1" r="1.0" fill="#d05a14" opacity="0.6"/>
<circle cx="603.6" cy="28.1" r="1.1" fill="#d05a14" opacity="0.6"/>
<rect x="600.3" y="34.8" width="11.4" height="11.8" rx="3.2" fill="#c44a12"/>
<rect x="601.6" y="36.1" width="8.8" height="9.2" rx="2.8" fill="#8a1c08"/>
<circle cx="608.8" cy="40.0" r="1.5" fill="#4a0800" opacity="0.6"/>
<circle cx="604.4" cy="39.4" r="1.4" fill="#4a0800" opacity="0.6"/>
<circle cx="604.8" cy="43.8" r="1.2" fill="#4a0800" opacity="0.6"/>
<circle cx="604.1" cy="39.4" r="1.2" fill="#4a0800" opacity="0.6"/>
<circle cx="607.0" cy="43.8" r="1.0" fill="#4a0800" opacity="0.6"/>
<circle cx="605.4" cy="39.4" r="1.6" fill="#4a0800" opacity="0.6"/>
<circle cx="603.1" cy="37.5" r="0.7" fill="#d05a14" opacity="0.6"/>
<circle cx="605.1" cy="44.3" r="1.1" fill="#d05a14" opacity="0.6"/>
<circle cx="607.9" cy="45.1" r="1.2" fill="#d05a14" opacity="0.6"/>
<rect x="600.1" y="50.2" width="11.4" height="11.8" rx="3.2" fill="#c44a12"/>
<rect x="601.4" y="51.5" width="8.8" height="9.2" rx="2.8" fill="#8a1c08"/>
<circle cx="608.6" cy="58.0" r="0.9" fill="#4a0800" opacity="0.6"/>
<circle cx="607.0" cy="55.8" r="1.2" fill="#4a0800" opacity="0.6"/>
<circle cx="605.0" cy="54.5" r="0.9" fill="#4a0800" opacity="0.6"/>
<circle cx="604.7" cy="55.6" r="1.6" fill="#4a0800" opacity="0.6"/>
<circle cx="603.7" cy="59.3" r="1.0" fill="#4a0800" opacity="0.6"/>
<circle cx="605.1" cy="58.4" r="1.5" fill="#4a0800" opacity="0.6"/>
<circle cx="605.5" cy="52.9" r="0.9" fill="#d05a14" opacity="0.6"/>
<circle cx="605.0" cy="59.9" r="0.8" fill="#d05a14" opacity="0.6"/>
<circle cx="604.9" cy="59.7" r="0.7" fill="#d05a14" opacity="0.6"/>
<rect x="600.2" y="66.4" width="11.4" height="11.8" rx="3.2" fill="#c44a12"/>
<rect x="601.5" y="67.7" width="8.8" height="9.2" rx="2.8" fill="#8a1c08"/>
<circle cx="607.6" cy="69.1" r="0.9" fill="#4a0800" opacity="0.6"/>
<circle cx="603.4" cy="74.4" r="1.1" fill="#4a0800" opacity="0.6"/>
<circle cx="607.5" cy="74.3" r="1.1" fill="#4a0800" opacity="0.6"/>
<circle cx="604.6" cy="74.6" r="1.3" fill="#4a0800" opacity="0.6"/>
<circle cx="604.6" cy="73.2" r="1.1" fill="#4a0800" opacity="0.6"/>
<circle cx="604.7" cy="68.9" r="1.4" fill="#4a0800" opacity="0.6"/>
<circle cx="609.3" cy="73.0" r="1.2" fill="#d05a14" opacity="0.6"/>
<circle cx="602.2" cy="69.8" r="0.9" fill="#d05a14" opacity="0.6"/>
<circle cx="609.7" cy="75.5" r="0.9" fill="#d05a14" opacity="0.6"/>
<rect x="600.0" y="81.3" width="11.4" height="11.8" rx="3.2" fill="#c44a12"/>
<rect x="601.3" y="82.6" width="8.8" height="9.2" rx="2.8" fill="#8a1c08"/>
<circle cx="606.0" cy="89.9" r="1.0" fill="#4a0800" opacity="0.6"/>
<circle cx="607.8" cy="88.7" r="1.5" fill="#4a0800" opacity="0.6"/>
<circle cx="607.6" cy="87.9" r="1.1" fill="#4a0800" opacity="0.6"/>
<circle cx="604.9" cy="86.5" r="1.4" fill="#4a0800" opacity="0.6"/>
<circle cx="603.5" cy="85.5" r="1.4" fill="#4a0800" opacity="0.6"/>
<circle cx="604.5" cy="84.7" r="0.9" fill="#4a0800" opacity="0.6"/>
<circle cx="606.4" cy="85.9" r="1.2" fill="#d05a14" opacity="0.6"/>
<circle cx="609.1" cy="91.2" r="0.8" fill="#d05a14" opacity="0.6"/>
<circle cx="602.7" cy="84.1" r="0.9" fill="#d05a14" opacity="0.6"/>
<rect x="600.6" y="96.7" width="11.4" height="11.8" rx="3.2" fill="#c44a12"/>
<rect x="601.9" y="98.0" width="8.8" height="9.2" rx="2.8" fill="#8a1c08"/>
<circle cx="604.4" cy="102.2" r="1.3" fill="#4a0800" opacity="0.6"/>
<circle cx="607.0" cy="104.2" r="1.5" fill="#4a0800" opacity="0.6"/>
<circle cx="607.0" cy="100.4" r="1.5" fill="#4a0800" opacity="0.6"/>
<circle cx="604.8" cy="103.1" r="1.2" fill="#4a0800" opacity="0.6"/>
<circle cx="607.4" cy="100.9" r="1.1" fill="#4a0800" opacity="0.6"/>
<circle cx="604.5" cy="100.6" r="1.5" fill="#4a0800" opacity="0.6"/>
<circle cx="606.6" cy="101.3" r="0.9" fill="#d05a14" opacity="0.6"/>
<circle cx="609.9" cy="102.8" r="0.8" fill="#d05a14" opacity="0.6"/>
<circle cx="608.5" cy="103.9" r="1.2" fill="#d05a14" opacity="0.6"/>
<rect x="615.3" y="4.4" width="11.4" height="11.8" rx="3.2" fill="#c44a12"/>
<rect x="616.6" y="5.7" width="8.8" height="9.2" rx="2.8" fill="#8a1c08"/>
<circle cx="623.4" cy="12.3" r="1.5" fill="#4a0800" opacity="0.6"/>
<circle cx="618.7" cy="9.1" r="1.0" fill="#4a0800" opacity="0.6"/>
<circle cx="619.6" cy="13.1" r="1.3" fill="#4a0800" opacity="0.6"/>
<circle cx="624.0" cy="9.5" r="1.5" fill="#4a0800" opacity="0.6"/>
<circle cx="621.1" cy="8.9" r="1.4" fill="#4a0800" opacity="0.6"/>
<circle cx="624.1" cy="7.9" r="1.3" fill="#4a0800" opacity="0.6"/>
<circle cx="622.4" cy="8.0" r="0.9" fill="#d05a14" opacity="0.6"/>
<circle cx="618.6" cy="7.9" r="0.8" fill="#d05a14" opacity="0.6"/>
<circle cx="622.2" cy="11.5" r="0.8" fill="#d05a14" opacity="0.6"/>
<rect x="615.2" y="19.6" width="11.4" height="11.8" rx="3.2" fill="#c44a12"/>
<rect x="616.5" y="20.9" width="8.8" height="9.2" rx="2.8" fill="#8a1c08"/>
<circle cx="622.5" cy="23.8" r="1.1" fill="#4a0800" opacity="0.6"/>
<circle cx="619.7" cy="27.5" r="1.3" fill="#4a0800" opacity="0.6"/>
<circle cx="618.8" cy="23.3" r="1.2" fill="#4a0800" opacity="0.6"/>
<circle cx="621.8" cy="26.5" r="1.0" fill="#4a0800" opacity="0.6"/>
<circle cx="619.4" cy="26.9" r="1.2" fill="#4a0800" opacity="0.6"/>
<circle cx="620.1" cy="24.5" r="1.6" fill="#4a0800" opacity="0.6"/>
<circle cx="619.9" cy="26.2" r="0.9" fill="#d05a14" opacity="0.6"/>
<circle cx="620.8" cy="28.6" r="1.2" fill="#d05a14" opacity="0.6"/>
<circle cx="620.4" cy="23.3" r="1.1" fill="#d05a14" opacity="0.6"/>
<rect x="615.4" y="34.6" width="11.4" height="11.8" rx="3.2" fill="#c44a12"/>
<rect x="616.7" y="35.9" width="8.8" height="9.2" rx="2.8" fill="#8a1c08"/>
<circle cx="623.9" cy="40.6" r="1.5" fill="#4a0800" opacity="0.6"/>
<circle cx="620.9" cy="43.4" r="1.2" fill="#4a0800" opacity="0.6"/>
<circle cx="619.4" cy="38.2" r="1.3" fill="#4a0800" opacity="0.6"/>
<circle cx="622.3" cy="43.6" r="1.0" fill="#4a0800" opacity="0.6"/>
<circle cx="622.2" cy="40.3" r="1.3" fill="#4a0800" opacity="0.6"/>
<circle cx="619.3" cy="39.8" r="1.3" fill="#4a0800" opacity="0.6"/>
<circle cx="624.9" cy="38.0" r="0.9" fill="#d05a14" opacity="0.6"/>
<circle cx="623.9" cy="44.8" r="0.8" fill="#d05a14" opacity="0.6"/>
<circle cx="618.5" cy="44.6" r="1.2" fill="#d05a14" opacity="0.6"/>
<rect x="615.7" y="50.1" width="11.4" height="11.8" rx="3.2" fill="#c44a12"/>
<rect x="617.0" y="51.4" width="8.8" height="9.2" rx="2.8" fill="#8a1c08"/>
<circle cx="624.0" cy="55.8" r="1.5" fill="#4a0800" opacity="0.6"/>
<circle cx="622.2" cy="58.4" r="1.0" fill="#4a0800" opacity="0.6"/>
<circle cx="623.2" cy="54.8" r="1.2" fill="#4a0800" opacity="0.6"/>
<circle cx="623.5" cy="58.5" r="1.0" fill="#4a0800" opacity="0.6"/>
<circle cx="619.8" cy="55.9" r="1.3" fill="#4a0800" opacity="0.6"/>
<circle cx="620.8" cy="54.2" r="1.1" fill="#4a0800" opacity="0.6"/>
<circle cx="623.2" cy="59.7" r="0.7" fill="#d05a14" opacity="0.6"/>
<circle cx="621.9" cy="58.6" r="0.7" fill="#d05a14" opacity="0.6"/>
<circle cx="624.2" cy="53.4" r="1.0" fill="#d05a14" opacity="0.6"/>
<rect x="615.8" y="66.2" width="11.4" height="11.8" rx="3.2" fill="#c44a12"/>
<rect x="617.1" y="67.5" width="8.8" height="9.2" rx="2.8" fill="#8a1c08"/>
<circle cx="620.3" cy="71.4" r="1.3" fill="#4a0800" opacity="0.6"/>
<circle cx="621.0" cy="72.9" r="1.2" fill="#4a0800" opacity="0.6"/>
<circle cx="621.1" cy="69.0" r="1.3" fill="#4a0800" opacity="0.6"/>
<circle cx="621.4" cy="70.3" r="1.4" fill="#4a0800" opacity="0.6"/>
<circle cx="623.1" cy="71.6" r="1.0" fill="#4a0800" opacity="0.6"/>
<circle cx="621.3" cy="69.5" r="1.0" fill="#4a0800" opacity="0.6"/>
<circle cx="620.9" cy="68.6" r="0.9" fill="#d05a14" opacity="0.6"/>
<circle cx="621.5" cy="68.2" r="1.0" fill="#d05a14" opacity="0.6"/>
<circle cx="618.1" cy="73.8" r="1.1" fill="#d05a14" opacity="0.6"/>
<rect x="615.8" y="80.9" width="11.4" height="11.8" rx="3.2" fill="#c44a12"/>
<rect x="617.1" y="82.2" width="8.8" height="9.2" rx="2.8" fill="#8a1c08"/>
<circle cx="621.5" cy="86.6" r="1.6" fill="#4a0800" opacity="0.6"/>
<circle cx="619.3" cy="89.4" r="1.6" fill="#4a0800" opacity="0.6"/>
<circle cx="622.8" cy="89.2" r="1.0" fill="#4a0800" opacity="0.6"/>
<circle cx="624.3" cy="87.3" r="1.6" fill="#4a0800" opacity="0.6"/>
<circle cx="623.9" cy="85.3" r="1.5" fill="#4a0800" opacity="0.6"/>
<circle cx="624.0" cy="84.7" r="1.1" fill="#4a0800" opacity="0.6"/>
<circle cx="623.5" cy="84.6" r="1.1" fill="#d05a14" opacity="0.6"/>
<circle cx="619.6" cy="89.8" r="0.8" fill="#d05a14" opacity="0.6"/>
<circle cx="621.5" cy="90.7" r="0.8" fill="#d05a14" opacity="0.6"/>
<rect x="615.5" y="96.8" width="11.4" height="11.8" rx="3.2" fill="#c44a12"/>
<rect x="616.8" y="98.1" width="8.8" height="9.2" rx="2.8" fill="#8a1c08"/>
<circle cx="620.4" cy="99.9" r="1.0" fill="#4a0800" opacity="0.6"/>
<circle cx="619.4" cy="105.3" r="1.4" fill="#4a0800" opacity="0.6"/>
<circle cx="623.8" cy="100.7" r="1.4" fill="#4a0800" opacity="0.6"/>
<circle cx="619.1" cy="102.9" r="1.3" fill="#4a0800" opacity="0.6"/>
<circle cx="620.6" cy="104.9" r="1.3" fill="#4a0800" opacity="0.6"/>
<circle cx="621.9" cy="105.0" r="1.0" fill="#4a0800" opacity="0.6"/>
<circle cx="625.4" cy="103.7" r="0.9" fill="#d05a14" opacity="0.6"/>
<circle cx="623.8" cy="100.8" r="1.2" fill="#d05a14" opacity="0.6"/>
<circle cx="622.1" cy="101.6" r="1.1" fill="#d05a14" opacity="0.6"/>
<rect x="631.1" y="4.0" width="11.4" height="11.8" rx="3.2" fill="#c44a12"/>
<rect x="632.4" y="5.3" width="8.8" height="9.2" rx="2.8" fill="#8a1c08"/>
<circle cx="638.4" cy="7.6" r="1.5" fill="#4a0800" opacity="0.6"/>
<circle cx="635.4" cy="11.1" r="1.6" fill="#4a0800" opacity="0.6"/>
<circle cx="637.4" cy="11.3" r="1.1" fill="#4a0800" opacity="0.6"/>
<circle cx="633.9" cy="7.5" r="1.0" fill="#4a0800" opacity="0.6"/>
<circle cx="637.6" cy="9.9" r="1.3" fill="#4a0800" opacity="0.6"/>
<circle cx="639.3" cy="8.1" r="1.1" fill="#4a0800" opacity="0.6"/>
<circle cx="638.1" cy="6.5" r="0.7" fill="#d05a14" opacity="0.6"/>
<circle cx="635.7" cy="7.2" r="0.9" fill="#d05a14" opacity="0.6"/>
<circle cx="634.7" cy="11.0" r="1.0" fill="#d05a14" opacity="0.6"/>
<rect x="630.8" y="19.9" width="11.4" height="11.8" rx="3.2" fill="#c44a12"/>
<rect x="632.1" y="21.2" width="8.8" height="9.2" rx="2.8" fill="#8a1c08"/>
<circle cx="636.7" cy="23.5" r="1.6" fill="#4a0800" opacity="0.6"/>
<circle cx="635.4" cy="23.6" r="1.0" fill="#4a0800" opacity="0.6"/>
<circle cx="637.7" cy="27.9" r="1.4" fill="#4a0800" opacity="0.6"/>
<circle cx="636.3" cy="24.3" r="0.9" fill="#4a0800" opacity="0.6"/>
<circle cx="637.8" cy="26.1" r="1.1" fill="#4a0800" opacity="0.6"/>
<circle cx="637.8" cy="25.4" r="1.6" fill="#4a0800" opacity="0.6"/>
<circle cx="638.8" cy="23.7" r="1.2" fill="#d05a14" opacity="0.6"/>
<circle cx="633.3" cy="26.0" r="0.9" fill="#d05a14" opacity="0.6"/>
<circle cx="634.8" cy="22.2" r="1.1" fill="#d05a14" opacity="0.6"/>
<rect x="630.6" y="35.3" width="11.4" height="11.8" rx="3.2" fill="#c44a12"/>
<rect x="631.9" y="36.6" width="8.8" height="9.2" rx="2.8" fill="#8a1c08"/>
<circle cx="639.5" cy="39.0" r="1.0" fill="#4a0800" opacity="0.6"/>
<circle cx="637.5" cy="41.1" r="1.3" fill="#4a0800" opacity="0.6"/>
<circle cx="638.8" cy="39.1" r="1.1" fill="#4a0800" opacity="0.6"/>
<circle cx="635.7" cy="38.4" r="1.5" fill="#4a0800" opacity="0.6"/>
<circle cx="638.6" cy="42.4" r="0.9" fill="#4a0800" opacity="0.6"/>
<circle cx="639.0" cy="42.6" r="1.2" fill="#4a0800" opacity="0.6"/>
<circle cx="638.8" cy="40.7" r="0.8" fill="#d05a14" opacity="0.6"/>
<circle cx="633.7" cy="39.0" r="0.7" fill="#d05a14" opacity="0.6"/>
<circle cx="635.6" cy="43.1" r="1.0" fill="#d05a14" opacity="0.6"/>
<rect x="631.6" y="50.9" width="11.4" height="11.8" rx="3.2" fill="#c44a12"/>
<rect x="632.9" y="52.2" width="8.8" height="9.2" rx="2.8" fill="#8a1c08"/>
<circle cx="635.5" cy="56.8" r="1.2" fill="#4a0800" opacity="0.6"/>
<circle cx="638.6" cy="56.6" r="1.1" fill="#4a0800" opacity="0.6"/>
<circle cx="637.8" cy="59.3" r="1.1" fill="#4a0800" opacity="0.6"/>
<circle cx="639.2" cy="53.6" r="1.1" fill="#4a0800" opacity="0.6"/>
<circle cx="635.3" cy="58.0" r="1.6" fill="#4a0800" opacity="0.6"/>
<circle cx="638.4" cy="55.5" r="1.5" fill="#4a0800" opacity="0.6"/>
<circle cx="635.5" cy="54.4" r="1.2" fill="#d05a14" opacity="0.6"/>
<circle cx="637.9" cy="58.0" r="1.0" fill="#d05a14" opacity="0.6"/>
<circle cx="640.7" cy="56.3" r="1.1" fill="#d05a14" opacity="0.6"/>
<rect x="631.4" y="66.4" width="11.4" height="11.8" rx="3.2" fill="#c44a12"/>
<rect x="632.7" y="67.7" width="8.8" height="9.2" rx="2.8" fill="#8a1c08"/>
<circle cx="636.5" cy="73.2" r="1.3" fill="#4a0800" opacity="0.6"/>
<circle cx="635.7" cy="70.2" r="1.3" fill="#4a0800" opacity="0.6"/>
<circle cx="634.4" cy="74.4" r="1.0" fill="#4a0800" opacity="0.6"/>
<circle cx="634.1" cy="69.5" r="1.6" fill="#4a0800" opacity="0.6"/>
<circle cx="636.0" cy="69.8" r="0.9" fill="#4a0800" opacity="0.6"/>
<circle cx="634.1" cy="73.1" r="1.3" fill="#4a0800" opacity="0.6"/>
<circle cx="638.5" cy="73.8" r="0.7" fill="#d05a14" opacity="0.6"/>
<circle cx="637.6" cy="70.8" r="1.1" fill="#d05a14" opacity="0.6"/>
<circle cx="639.5" cy="75.0" r="0.7" fill="#d05a14" opacity="0.6"/>
<rect x="631.6" y="81.9" width="11.4" height="11.8" rx="3.2" fill="#c44a12"/>
<rect x="632.9" y="83.2" width="8.8" height="9.2" rx="2.8" fill="#8a1c08"/>
<circle cx="639.6" cy="84.9" r="1.0" fill="#4a0800" opacity="0.6"/>
<circle cx="634.6" cy="84.5" r="1.5" fill="#4a0800" opacity="0.6"/>
<circle cx="638.8" cy="88.1" r="1.5" fill="#4a0800" opacity="0.6"/>
<circle cx="637.7" cy="86.0" r="1.0" fill="#4a0800" opacity="0.6"/>
<circle cx="634.5" cy="88.8" r="1.0" fill="#4a0800" opacity="0.6"/>
<circle cx="635.8" cy="86.8" r="0.9" fill="#4a0800" opacity="0.6"/>
<circle cx="635.0" cy="85.6" r="1.1" fill="#d05a14" opacity="0.6"/>
<circle cx="635.8" cy="85.9" r="1.2" fill="#d05a14" opacity="0.6"/>
<circle cx="636.9" cy="90.1" r="1.0" fill="#d05a14" opacity="0.6"/>
<rect x="630.6" y="96.7" width="11.4" height="11.8" rx="3.2" fill="#c44a12"/>
<rect x="631.9" y="98.0" width="8.8" height="9.2" rx="2.8" fill="#8a1c08"/>
<circle cx="636.5" cy="104.3" r="1.1" fill="#4a0800" opacity="0.6"/>
<circle cx="638.1" cy="102.9" r="1.1" fill="#4a0800" opacity="0.6"/>
<circle cx="639.1" cy="100.2" r="1.5" fill="#4a0800" opacity="0.6"/>
<circle cx="634.9" cy="99.7" r="1.0" fill="#4a0800" opacity="0.6"/>
<circle cx="638.5" cy="105.6" r="0.9" fill="#4a0800" opacity="0.6"/>
<circle cx="636.8" cy="102.6" r="1.5" fill="#4a0800" opacity="0.6"/>
<circle cx="634.4" cy="102.7" r="0.9" fill="#d05a14" opacity="0.6"/>
<circle cx="639.6" cy="100.8" r="1.2" fill="#d05a14" opacity="0.6"/>
<circle cx="635.2" cy="100.4" r="1.0" fill="#d05a14" opacity="0.6"/>
<rect x="646.6" y="3.9" width="11.4" height="11.8" rx="3.2" fill="#c44a12"/>
<rect x="647.9" y="5.2" width="8.8" height="9.2" rx="2.8" fill="#8a1c08"/>
<circle cx="653.2" cy="7.8" r="1.5" fill="#4a0800" opacity="0.6"/>
<circle cx="653.5" cy="12.0" r="1.3" fill="#4a0800" opacity="0.6"/>
<circle cx="651.5" cy="9.7" r="1.2" fill="#4a0800" opacity="0.6"/>
<circle cx="654.7" cy="7.8" r="1.5" fill="#4a0800" opacity="0.6"/>
<circle cx="649.5" cy="8.5" r="1.1" fill="#4a0800" opacity="0.6"/>
<circle cx="654.8" cy="10.3" r="1.2" fill="#4a0800" opacity="0.6"/>
<circle cx="655.4" cy="8.2" r="0.9" fill="#d05a14" opacity="0.6"/>
<circle cx="652.6" cy="12.3" r="1.1" fill="#d05a14" opacity="0.6"/>
<circle cx="653.5" cy="9.1" r="0.9" fill="#d05a14" opacity="0.6"/>
<rect x="646.2" y="20.2" width="11.4" height="11.8" rx="3.2" fill="#c44a12"/>
<rect x="647.5" y="21.5" width="8.8" height="9.2" rx="2.8" fill="#8a1c08"/>
<circle cx="653.3" cy="27.2" r="1.0" fill="#4a0800" opacity="0.6"/>
<circle cx="652.0" cy="27.3" r="1.3" fill="#4a0800" opacity="0.6"/>
<circle cx="650.1" cy="25.5" r="1.5" fill="#4a0800" opacity="0.6"/>
<circle cx="650.8" cy="23.8" r="1.1" fill="#4a0800" opacity="0.6"/>
<circle cx="653.6" cy="27.8" r="1.0" fill="#4a0800" opacity="0.6"/>
<circle cx="650.3" cy="24.2" r="1.1" fill="#4a0800" opacity="0.6"/>
<circle cx="652.5" cy="23.0" r="0.9" fill="#d05a14" opacity="0.6"/>
<circle cx="649.9" cy="29.5" r="1.1" fill="#d05a14" opacity="0.6"/>
<circle cx="649.2" cy="29.4" r="0.8" fill="#d05a14" opacity="0.6"/>
<rect x="646.5" y="35.8" width="11.4" height="11.8" rx="3.2" fill="#c44a12"/>
<rect x="647.8" y="37.1" width="8.8" height="9.2" rx="2.8" fill="#8a1c08"/>
<circle cx="654.1" cy="42.5" r="1.2" fill="#4a0800" opacity="0.6"/>
<circle cx="650.5" cy="41.9" r="1.0" fill="#4a0800" opacity="0.6"/>
<circle cx="650.6" cy="40.4" r="0.9" fill="#4a0800" opacity="0.6"/>
<circle cx="651.7" cy="42.8" r="1.4" fill="#4a0800" opacity="0.6"/>
<circle cx="652.4" cy="41.9" r="1.2" fill="#4a0800" opacity="0.6"/>
<circle cx="650.2" cy="41.7" r="1.2" fill="#4a0800" opacity="0.6"/>
<circle cx="654.3" cy="44.4" r="0.9" fill="#d05a14" opacity="0.6"/>
<circle cx="652.9" cy="43.1" r="0.9" fill="#d05a14" opacity="0.6"/>
<circle cx="650.2" cy="42.9" r="1.1" fill="#d05a14" opacity="0.6"/>
<rect x="647.0" y="50.8" width="11.4" height="11.8" rx="3.2" fill="#c44a12"/>
<rect x="648.3" y="52.1" width="8.8" height="9.2" rx="2.8" fill="#8a1c08"/>
<circle cx="654.5" cy="57.6" r="1.3" fill="#4a0800" opacity="0.6"/>
<circle cx="652.1" cy="55.4" r="1.3" fill="#4a0800" opacity="0.6"/>
<circle cx="649.9" cy="56.0" r="1.4" fill="#4a0800" opacity="0.6"/>
<circle cx="653.6" cy="57.3" r="1.1" fill="#4a0800" opacity="0.6"/>
<circle cx="651.9" cy="56.2" r="1.3" fill="#4a0800" opacity="0.6"/>
<circle cx="651.8" cy="57.6" r="1.6" fill="#4a0800" opacity="0.6"/>
<circle cx="649.8" cy="57.7" r="1.1" fill="#d05a14" opacity="0.6"/>
<circle cx="651.5" cy="56.4" r="1.2" fill="#d05a14" opacity="0.6"/>
<circle cx="648.7" cy="56.8" r="0.8" fill="#d05a14" opacity="0.6"/>
<rect x="647.0" y="66.5" width="11.4" height="11.8" rx="3.2" fill="#c44a12"/>
<rect x="648.3" y="67.8" width="8.8" height="9.2" rx="2.8" fill="#8a1c08"/>
<circle cx="652.5" cy="69.5" r="1.3" fill="#4a0800" opacity="0.6"/>
<circle cx="652.6" cy="73.2" r="1.3" fill="#4a0800" opacity="0.6"/>
<circle cx="653.2" cy="73.9" r="1.3" fill="#4a0800" opacity="0.6"/>
<circle cx="651.8" cy="74.6" r="1.0" fill="#4a0800" opacity="0.6"/>
<circle cx="653.5" cy="71.3" r="1.4" fill="#4a0800" opacity="0.6"/>
<circle cx="650.1" cy="74.8" r="1.1" fill="#4a0800" opacity="0.6"/>
<circle cx="648.8" cy="70.1" r="0.9" fill="#d05a14" opacity="0.6"/>
<circle cx="648.5" cy="71.2" r="0.9" fill="#d05a14" opacity="0.6"/>
<circle cx="653.9" cy="70.7" r="0.8" fill="#d05a14" opacity="0.6"/>
<rect x="646.3" y="81.7" width="11.4" height="11.8" rx="3.2" fill="#c44a12"/>
<rect x="647.6" y="83.0" width="8.8" height="9.2" rx="2.8" fill="#8a1c08"/>
<circle cx="655.0" cy="87.5" r="1.1" fill="#4a0800" opacity="0.6"/>
<circle cx="654.2" cy="86.7" r="1.0" fill="#4a0800" opacity="0.6"/>
<circle cx="650.1" cy="89.0" r="1.5" fill="#4a0800" opacity="0.6"/>
<circle cx="653.2" cy="87.1" r="1.3" fill="#4a0800" opacity="0.6"/>
<circle cx="650.7" cy="90.1" r="1.1" fill="#4a0800" opacity="0.6"/>
<circle cx="653.2" cy="89.2" r="1.5" fill="#4a0800" opacity="0.6"/>
<circle cx="652.1" cy="85.7" r="1.0" fill="#d05a14" opacity="0.6"/>
<circle cx="649.4" cy="90.0" r="0.9" fill="#d05a14" opacity="0.6"/>
<circle cx="655.2" cy="85.4" r="0.9" fill="#d05a14" opacity="0.6"/>
<rect x="646.4" y="96.7" width="11.4" height="11.8" rx="3.2" fill="#c44a12"/>
<rect x="647.7" y="98.0" width="8.8" height="9.2" rx="2.8" fill="#8a1c08"/>
<circle cx="650.5" cy="99.7" r="1.4" fill="#4a0800" opacity="0.6"/>
<circle cx="651.0" cy="101.2" r="1.1" fill="#4a0800" opacity="0.6"/>
<circle cx="652.2" cy="102.3" r="1.3" fill="#4a0800" opacity="0.6"/>
<circle cx="653.3" cy="101.9" r="1.6" fill="#4a0800" opacity="0.6"/>
<circle cx="654.5" cy="100.0" r="1.5" fill="#4a0800" opacity="0.6"/>
<circle cx="654.8" cy="104.4" r="1.0" fill="#4a0800" opacity="0.6"/>
<circle cx="655.0" cy="103.8" r="0.7" fill="#d05a14" opacity="0.6"/>
<circle cx="648.4" cy="106.3" r="1.0" fill="#d05a14" opacity="0.6"/>
<circle cx="650.4" cy="99.5" r="0.8" fill="#d05a14" opacity="0.6"/>
<rect x="661.8" y="4.7" width="11.4" height="11.8" rx="3.2" fill="#c44a12"/>
<rect x="663.1" y="6.0" width="8.8" height="9.2" rx="2.8" fill="#8a1c08"/>
<circle cx="666.9" cy="8.2" r="1.5" fill="#4a0800" opacity="0.6"/>
<circle cx="669.6" cy="8.3" r="1.5" fill="#4a0800" opacity="0.6"/>
<circle cx="668.5" cy="12.0" r="1.4" fill="#4a0800" opacity="0.6"/>
<circle cx="670.2" cy="12.0" r="1.5" fill="#4a0800" opacity="0.6"/>
<circle cx="666.0" cy="11.5" r="1.3" fill="#4a0800" opacity="0.6"/>
<circle cx="669.3" cy="9.9" r="1.5" fill="#4a0800" opacity="0.6"/>
<circle cx="668.2" cy="8.4" r="0.8" fill="#d05a14" opacity="0.6"/>
<circle cx="664.9" cy="10.2" r="0.7" fill="#d05a14" opacity="0.6"/>
<circle cx="667.5" cy="7.5" r="0.9" fill="#d05a14" opacity="0.6"/>
<rect x="662.1" y="19.8" width="11.4" height="11.8" rx="3.2" fill="#c44a12"/>
<rect x="663.4" y="21.1" width="8.8" height="9.2" rx="2.8" fill="#8a1c08"/>
<circle cx="670.0" cy="22.7" r="1.5" fill="#4a0800" opacity="0.6"/>
<circle cx="667.6" cy="26.1" r="1.4" fill="#4a0800" opacity="0.6"/>
<circle cx="669.8" cy="24.9" r="1.2" fill="#4a0800" opacity="0.6"/>
<circle cx="670.6" cy="23.2" r="1.3" fill="#4a0800" opacity="0.6"/>
<circle cx="668.6" cy="22.9" r="1.3" fill="#4a0800" opacity="0.6"/>
<circle cx="668.9" cy="28.3" r="1.1" fill="#4a0800" opacity="0.6"/>
<circle cx="671.7" cy="25.8" r="0.9" fill="#d05a14" opacity="0.6"/>
<circle cx="671.0" cy="22.0" r="1.1" fill="#d05a14" opacity="0.6"/>
<circle cx="668.8" cy="24.4" r="1.1" fill="#d05a14" opacity="0.6"/>
<rect x="661.9" y="35.2" width="11.4" height="11.8" rx="3.2" fill="#c44a12"/>
<rect x="663.2" y="36.5" width="8.8" height="9.2" rx="2.8" fill="#8a1c08"/>
<circle cx="668.0" cy="42.7" r="1.0" fill="#4a0800" opacity="0.6"/>
<circle cx="667.4" cy="40.6" r="1.3" fill="#4a0800" opacity="0.6"/>
<circle cx="669.8" cy="39.9" r="1.5" fill="#4a0800" opacity="0.6"/>
<circle cx="667.2" cy="41.1" r="1.1" fill="#4a0800" opacity="0.6"/>
<circle cx="667.8" cy="43.9" r="1.4" fill="#4a0800" opacity="0.6"/>
<circle cx="669.6" cy="40.1" r="1.1" fill="#4a0800" opacity="0.6"/>
<circle cx="666.2" cy="41.8" r="1.0" fill="#d05a14" opacity="0.6"/>
<circle cx="670.1" cy="37.4" r="1.1" fill="#d05a14" opacity="0.6"/>
<circle cx="670.9" cy="41.5" r="0.7" fill="#d05a14" opacity="0.6"/>
<rect x="661.9" y="50.0" width="11.4" height="11.8" rx="3.2" fill="#c44a12"/>
<rect x="663.2" y="51.3" width="8.8" height="9.2" rx="2.8" fill="#8a1c08"/>
<circle cx="665.9" cy="59.0" r="1.3" fill="#4a0800" opacity="0.6"/>
<circle cx="668.7" cy="58.2" r="1.5" fill="#4a0800" opacity="0.6"/>
<circle cx="668.5" cy="57.2" r="1.3" fill="#4a0800" opacity="0.6"/>
<circle cx="669.0" cy="57.1" r="1.4" fill="#4a0800" opacity="0.6"/>
<circle cx="666.1" cy="57.5" r="1.2" fill="#4a0800" opacity="0.6"/>
<circle cx="669.4" cy="54.1" r="1.0" fill="#4a0800" opacity="0.6"/>
<circle cx="664.1" cy="58.7" r="1.2" fill="#d05a14" opacity="0.6"/>
<circle cx="669.0" cy="55.5" r="1.1" fill="#d05a14" opacity="0.6"/>
<circle cx="670.1" cy="57.0" r="0.8" fill="#d05a14" opacity="0.6"/>
<rect x="661.9" y="65.9" width="11.4" height="11.8" rx="3.2" fill="#c44a12"/>
<rect x="663.2" y="67.2" width="8.8" height="9.2" rx="2.8" fill="#8a1c08"/>
<circle cx="666.7" cy="71.5" r="1.3" fill="#4a0800" opacity="0.6"/>
<circle cx="670.4" cy="69.2" r="1.3" fill="#4a0800" opacity="0.6"/>
<circle cx="665.0" cy="69.6" r="1.5" fill="#4a0800" opacity="0.6"/>
<circle cx="668.3" cy="74.4" r="1.2" fill="#4a0800" opacity="0.6"/>
<circle cx="664.9" cy="71.2" r="1.3" fill="#4a0800" opacity="0.6"/>
<circle cx="670.4" cy="74.8" r="1.2" fill="#4a0800" opacity="0.6"/>
<circle cx="667.1" cy="68.7" r="1.0" fill="#d05a14" opacity="0.6"/>
<circle cx="665.5" cy="69.1" r="0.7" fill="#d05a14" opacity="0.6"/>
<circle cx="663.8" cy="73.4" r="0.8" fill="#d05a14" opacity="0.6"/>
<rect x="662.7" y="80.9" width="11.4" height="11.8" rx="3.2" fill="#c44a12"/>
<rect x="664.0" y="82.2" width="8.8" height="9.2" rx="2.8" fill="#8a1c08"/>
<circle cx="670.0" cy="85.1" r="0.9" fill="#4a0800" opacity="0.6"/>
<circle cx="669.1" cy="85.8" r="1.4" fill="#4a0800" opacity="0.6"/>
<circle cx="665.9" cy="84.6" r="1.4" fill="#4a0800" opacity="0.6"/>
<circle cx="669.1" cy="89.4" r="1.4" fill="#4a0800" opacity="0.6"/>
<circle cx="665.3" cy="88.1" r="1.4" fill="#4a0800" opacity="0.6"/>
<circle cx="667.6" cy="89.9" r="1.1" fill="#4a0800" opacity="0.6"/>
<circle cx="671.5" cy="89.0" r="0.7" fill="#d05a14" opacity="0.6"/>
<circle cx="663.9" cy="88.5" r="1.1" fill="#d05a14" opacity="0.6"/>
<circle cx="664.4" cy="85.8" r="1.1" fill="#d05a14" opacity="0.6"/>
<rect x="661.7" y="97.2" width="11.4" height="11.8" rx="3.2" fill="#c44a12"/>
<rect x="663.0" y="98.5" width="8.8" height="9.2" rx="2.8" fill="#8a1c08"/>
<circle cx="667.7" cy="100.1" r="1.2" fill="#4a0800" opacity="0.6"/>
<circle cx="668.2" cy="102.3" r="1.4" fill="#4a0800" opacity="0.6"/>
<circle cx="665.7" cy="104.5" r="1.2" fill="#4a0800" opacity="0.6"/>
<circle cx="668.7" cy="103.5" r="1.2" fill="#4a0800" opacity="0.6"/>
<circle cx="667.1" cy="104.4" r="1.6" fill="#4a0800" opacity="0.6"/>
<circle cx="669.5" cy="103.1" r="1.1" fill="#4a0800" opacity="0.6"/>
<circle cx="664.3" cy="106.5" r="1.1" fill="#d05a14" opacity="0.6"/>
<circle cx="670.4" cy="101.4" r="1.0" fill="#d05a14" opacity="0.6"/>
<circle cx="671.6" cy="105.4" r="1.0" fill="#d05a14" opacity="0.6"/>
<rect x="677.3" y="4.3" width="11.4" height="11.8" rx="3.2" fill="#c44a12"/>
<rect x="678.6" y="5.6" width="8.8" height="9.2" rx="2.8" fill="#8a1c08"/>
<circle cx="685.6" cy="9.6" r="1.4" fill="#4a0800" opacity="0.6"/>
<circle cx="683.9" cy="12.7" r="1.5" fill="#4a0800" opacity="0.6"/>
<circle cx="681.9" cy="7.3" r="1.1" fill="#4a0800" opacity="0.6"/>
<circle cx="682.8" cy="10.8" r="1.5" fill="#4a0800" opacity="0.6"/>
<circle cx="685.6" cy="7.6" r="1.5" fill="#4a0800" opacity="0.6"/>
<circle cx="685.1" cy="12.5" r="1.3" fill="#4a0800" opacity="0.6"/>
<circle cx="681.4" cy="13.1" r="1.1" fill="#d05a14" opacity="0.6"/>
<circle cx="684.7" cy="13.6" r="0.9" fill="#d05a14" opacity="0.6"/>
<circle cx="679.9" cy="10.7" r="1.1" fill="#d05a14" opacity="0.6"/>
<rect x="677.2" y="20.1" width="11.4" height="11.8" rx="3.2" fill="#c44a12"/>
<rect x="678.5" y="21.4" width="8.8" height="9.2" rx="2.8" fill="#8a1c08"/>
<circle cx="685.8" cy="24.1" r="1.3" fill="#4a0800" opacity="0.6"/>
<circle cx="684.3" cy="25.5" r="1.0" fill="#4a0800" opacity="0.6"/>
<circle cx="681.8" cy="27.2" r="1.5" fill="#4a0800" opacity="0.6"/>
<circle cx="683.0" cy="23.2" r="1.5" fill="#4a0800" opacity="0.6"/>
<circle cx="684.9" cy="24.1" r="1.3" fill="#4a0800" opacity="0.6"/>
<circle cx="685.6" cy="28.0" r="1.3" fill="#4a0800" opacity="0.6"/>
<circle cx="683.1" cy="26.4" r="0.8" fill="#d05a14" opacity="0.6"/>
<circle cx="680.8" cy="23.1" r="1.1" fill="#d05a14" opacity="0.6"/>
<circle cx="682.2" cy="26.2" r="0.9" fill="#d05a14" opacity="0.6"/>
<rect x="677.6" y="34.8" width="11.4" height="11.8" rx="3.2" fill="#c44a12"/>
<rect x="678.9" y="36.1" width="8.8" height="9.2" rx="2.8" fill="#8a1c08"/>
<circle cx="680.5" cy="44.1" r="1.2" fill="#4a0800" opacity="0.6"/>
<circle cx="680.9" cy="41.9" r="1.5" fill="#4a0800" opacity="0.6"/>
<circle cx="681.2" cy="41.7" r="1.1" fill="#4a0800" opacity="0.6"/>
<circle cx="683.4" cy="38.2" r="0.9" fill="#4a0800" opacity="0.6"/>
<circle cx="686.2" cy="43.3" r="1.2" fill="#4a0800" opacity="0.6"/>
<circle cx="683.7" cy="39.7" r="1.4" fill="#4a0800" opacity="0.6"/>
<circle cx="682.7" cy="44.7" r="1.1" fill="#d05a14" opacity="0.6"/>
<circle cx="685.8" cy="44.8" r="0.8" fill="#d05a14" opacity="0.6"/>
<circle cx="679.6" cy="38.7" r="0.8" fill="#d05a14" opacity="0.6"/>
<rect x="677.1" y="50.1" width="11.4" height="11.8" rx="3.2" fill="#c44a12"/>
<rect x="678.4" y="51.4" width="8.8" height="9.2" rx="2.8" fill="#8a1c08"/>
<circle cx="683.6" cy="58.7" r="1.2" fill="#4a0800" opacity="0.6"/>
<circle cx="685.9" cy="59.0" r="0.9" fill="#4a0800" opacity="0.6"/>
<circle cx="683.8" cy="55.9" r="1.0" fill="#4a0800" opacity="0.6"/>
<circle cx="686.0" cy="55.0" r="1.3" fill="#4a0800" opacity="0.6"/>
<circle cx="684.1" cy="59.2" r="1.4" fill="#4a0800" opacity="0.6"/>
<circle cx="682.6" cy="56.2" r="1.0" fill="#4a0800" opacity="0.6"/>
<circle cx="687.0" cy="60.4" r="0.8" fill="#d05a14" opacity="0.6"/>
<circle cx="679.6" cy="54.5" r="0.9" fill="#d05a14" opacity="0.6"/>
<circle cx="686.5" cy="59.7" r="1.1" fill="#d05a14" opacity="0.6"/>
<rect x="677.0" y="66.3" width="11.4" height="11.8" rx="3.2" fill="#c44a12"/>
<rect x="678.3" y="67.6" width="8.8" height="9.2" rx="2.8" fill="#8a1c08"/>
<circle cx="684.5" cy="72.8" r="1.6" fill="#4a0800" opacity="0.6"/>
<circle cx="680.6" cy="69.8" r="1.4" fill="#4a0800" opacity="0.6"/>
<circle cx="685.9" cy="73.0" r="1.1" fill="#4a0800" opacity="0.6"/>
<circle cx="683.8" cy="73.4" r="1.0" fill="#4a0800" opacity="0.6"/>
<circle cx="682.2" cy="70.4" r="1.0" fill="#4a0800" opacity="0.6"/>
<circle cx="683.1" cy="69.9" r="1.1" fill="#4a0800" opacity="0.6"/>
<circle cx="680.4" cy="73.3" r="0.7" fill="#d05a14" opacity="0.6"/>
<circle cx="685.0" cy="69.5" r="0.7" fill="#d05a14" opacity="0.6"/>
<circle cx="686.7" cy="69.7" r="1.2" fill="#d05a14" opacity="0.6"/>
<rect x="678.0" y="81.9" width="11.4" height="11.8" rx="3.2" fill="#c44a12"/>
<rect x="679.3" y="83.2" width="8.8" height="9.2" rx="2.8" fill="#8a1c08"/>
<circle cx="681.1" cy="87.0" r="1.0" fill="#4a0800" opacity="0.6"/>
<circle cx="685.8" cy="89.4" r="1.3" fill="#4a0800" opacity="0.6"/>
<circle cx="683.0" cy="86.3" r="1.5" fill="#4a0800" opacity="0.6"/>
<circle cx="683.1" cy="88.1" r="1.0" fill="#4a0800" opacity="0.6"/>
<circle cx="681.6" cy="84.6" r="1.4" fill="#4a0800" opacity="0.6"/>
<circle cx="683.6" cy="85.2" r="1.5" fill="#4a0800" opacity="0.6"/>
<circle cx="681.4" cy="86.6" r="0.8" fill="#d05a14" opacity="0.6"/>
<circle cx="681.4" cy="90.0" r="0.9" fill="#d05a14" opacity="0.6"/>
<circle cx="680.6" cy="87.2" r="0.9" fill="#d05a14" opacity="0.6"/>
<rect x="678.0" y="96.3" width="11.4" height="11.8" rx="3.2" fill="#c44a12"/>
<rect x="679.3" y="97.6" width="8.8" height="9.2" rx="2.8" fill="#8a1c08"/>
<circle cx="686.1" cy="100.0" r="1.5" fill="#4a0800" opacity="0.6"/>
<circle cx="684.3" cy="101.0" r="1.2" fill="#4a0800" opacity="0.6"/>
<circle cx="682.0" cy="101.2" r="1.0" fill="#4a0800" opacity="0.6"/>
<circle cx="682.4" cy="105.6" r="1.6" fill="#4a0800" opacity="0.6"/>
<circle cx="685.8" cy="100.3" r="1.1" fill="#4a0800" opacity="0.6"/>
<circle cx="685.6" cy="100.0" r="1.4" fill="#4a0800" opacity="0.6"/>
<circle cx="681.6" cy="106.5" r="0.7" fill="#d05a14" opacity="0.6"/>
<circle cx="685.7" cy="101.4" r="0.8" fill="#d05a14" opacity="0.6"/>
<circle cx="679.3" cy="105.4" r="1.0" fill="#d05a14" opacity="0.6"/></g></g>
<filter id="onoise" x="0" y="0" width="100%" height="100%"><feTurbulence type="fractalNoise" baseFrequency="0.32" numOctaves="2" seed="4"/><feColorMatrix type="matrix" values="0 0 0 0 1  0 0 0 0 0.93  0 0 0 0 0.6  8 0 0 0 -4.7"/><feGaussianBlur stdDeviation="0.5"/></filter>
<filter id="dnoise" x="0" y="0" width="100%" height="100%"><feTurbulence type="fractalNoise" baseFrequency="0.35" numOctaves="2" seed="8"/><feColorMatrix type="matrix" values="0 0 0 0 0.45  0 0 0 0 0.05  0 0 0 0 0.0  0 8 0 0 -4.8"/><feGaussianBlur stdDeviation="0.5"/></filter>
<g filter="url(#blur6)"><rect x="596" y="16" width="34.6" height="33.4" fill="url(#sim2)"/></g>
<clipPath id="cbot"><rect x="596" y="98.1" width="82" height="81.4"/></clipPath>
<g clip-path="url(#cbot)"><g filter="url(#blur6)"><rect x="594" y="96" width="86" height="86" fill="url(#sim)"/></g></g>
<circle cx="598.3" cy="100.6" r="1.15" fill="#2030e0"/>
<circle cx="598.3" cy="108.3" r="1.15" fill="#2030e0"/>
<circle cx="598.3" cy="116.0" r="1.15" fill="#2030e0"/>
<circle cx="598.3" cy="123.8" r="1.15" fill="#2030e0"/>
<circle cx="598.3" cy="131.5" r="1.15" fill="#2030e0"/>
<circle cx="606.0" cy="100.6" r="1.15" fill="#2030e0"/>
<circle cx="606.0" cy="116.0" r="1.15" fill="#2030e0"/>
<circle cx="606.0" cy="131.5" r="1.15" fill="#2030e0"/>
<circle cx="613.8" cy="100.6" r="1.15" fill="#2030e0"/>
<circle cx="613.8" cy="108.3" r="1.15" fill="#2030e0"/>
<circle cx="613.8" cy="116.0" r="1.15" fill="#2030e0"/>
<circle cx="613.8" cy="123.8" r="1.15" fill="#2030e0"/>
<circle cx="613.8" cy="131.5" r="1.15" fill="#2030e0"/>
<circle cx="621.5" cy="100.6" r="1.15" fill="#2030e0"/>
<circle cx="621.5" cy="116.0" r="1.15" fill="#2030e0"/>
<circle cx="621.5" cy="131.5" r="1.15" fill="#2030e0"/>
<circle cx="629.2" cy="100.6" r="1.15" fill="#2030e0"/>
<circle cx="629.2" cy="108.3" r="1.15" fill="#2030e0"/>
<circle cx="629.2" cy="116.0" r="1.15" fill="#2030e0"/>
<circle cx="629.2" cy="123.8" r="1.15" fill="#2030e0"/>
<circle cx="629.2" cy="131.5" r="1.15" fill="#2030e0"/>
<line x1="598.3" y1="100.6" x2="598.3" y2="131.5" stroke="#303090" stroke-width="0.6"/>
<line x1="598.3" y1="100.6" x2="629.2" y2="100.6" stroke="#303090" stroke-width="0.6"/>
<line x1="613.8" y1="100.6" x2="613.8" y2="131.5" stroke="#303090" stroke-width="0.6"/>
<line x1="598.3" y1="116.0" x2="629.2" y2="116.0" stroke="#303090" stroke-width="0.6"/>
<line x1="629.2" y1="100.6" x2="629.2" y2="131.5" stroke="#303090" stroke-width="0.6"/>
<line x1="598.3" y1="131.5" x2="629.2" y2="131.5" stroke="#303090" stroke-width="0.6"/>
<circle cx="606.0" cy="108.3" r="4.2" fill="none" stroke="#e0a040" stroke-width="0.6" stroke-dasharray="0.8 0.8"/>
<circle cx="606.0" cy="108.3" r="2.0" fill="none" stroke="#e0b050" stroke-width="0.5"/>
<circle cx="606.0" cy="123.8" r="4.2" fill="none" stroke="#e0a040" stroke-width="0.6" stroke-dasharray="0.8 0.8"/>
<circle cx="606.0" cy="123.8" r="2.0" fill="none" stroke="#e0b050" stroke-width="0.5"/>
<circle cx="621.5" cy="108.3" r="4.2" fill="none" stroke="#e0a040" stroke-width="0.6" stroke-dasharray="0.8 0.8"/>
<circle cx="621.5" cy="108.3" r="2.0" fill="none" stroke="#e0b050" stroke-width="0.5"/>
<circle cx="621.5" cy="123.8" r="4.2" fill="none" stroke="#e0a040" stroke-width="0.6" stroke-dasharray="0.8 0.8"/>
<circle cx="621.5" cy="123.8" r="2.0" fill="none" stroke="#e0b050" stroke-width="0.5"/>
<rect x="596.00" y="97.40" width="82.00" height="0.80" fill="#fff" />
<text x="599.6" y="82.3" font-size="14.5" font-weight="bold" fill="#fff" style="font-family:'Liberation Serif',serif">2 nm</text>
<rect x="601.20" y="87.50" width="29.60" height="3.20" fill="#fff" />
<text x="599.6" y="162.3" font-size="14.5" font-weight="bold" fill="#fff" style="font-family:'Liberation Serif',serif">2 nm</text>
<rect x="601.20" y="168.40" width="29.60" height="3.20" fill="#fff" />
<text x="424.00" y="9.60" font-size="18" font-weight="bold" text-anchor="start" fill="#000" >c</text>
<defs><radialGradient id="cglow"><stop offset="0" stop-color="#20a0ff"/><stop offset="0.5" stop-color="#1450ff"/><stop offset="1" stop-color="#1030e0" stop-opacity="0"/></radialGradient><linearGradient id="cbgrad" x1="0" y1="1" x2="0" y2="0">
<stop offset="0" stop-color="#00005a"/><stop offset="0.25" stop-color="#0000d8"/><stop offset="0.5" stop-color="#0048ff"/><stop offset="0.75" stop-color="#00a8f0"/><stop offset="1" stop-color="#30f0c0"/></linearGradient></defs>
<clipPath id="wd"><path d="M34.16,307.30 L35.76,277.53 L37.59,246.84 L47.21,243.18 L56.37,240.43 L65.07,238.60 L66.11,239.89 L67.55,241.66 L69.25,243.77 L71.07,246.05 L72.85,248.35 L74.46,250.51 L75.93,252.57 L77.37,254.66 L78.78,256.78 L80.15,258.90 L81.46,261.01 L82.70,263.10 L83.88,265.18 L85.00,267.24 L86.05,269.30 L87.06,271.36 L88.00,273.41 L88.89,275.47 L89.72,277.53 L90.49,279.58 L91.21,281.64 L91.86,283.70 L92.47,285.76 L93.01,287.84 L93.49,289.99 L93.92,292.23 L94.28,294.48 L94.60,296.65 L94.86,298.66 L95.07,300.43 L95.22,301.99 L95.29,303.40 L95.31,304.65 L95.31,305.73 L95.30,306.62 L95.30,307.30 Z"/><path d="M156.44,307.30 L154.84,277.53 L153.01,246.84 L143.39,243.18 L134.23,240.43 L125.53,238.60 L124.49,239.89 L123.05,241.66 L121.35,243.77 L119.53,246.05 L117.75,248.35 L116.14,250.51 L114.67,252.57 L113.23,254.66 L111.82,256.78 L110.45,258.90 L109.14,261.01 L107.89,263.10 L106.72,265.18 L105.61,267.24 L104.55,269.30 L103.54,271.36 L102.60,273.41 L101.71,275.47 L100.88,277.53 L100.11,279.58 L99.39,281.64 L98.74,283.70 L98.13,285.76 L97.59,287.84 L97.11,289.99 L96.68,292.23 L96.32,294.48 L96.00,296.65 L95.74,298.66 L95.53,300.43 L95.38,301.99 L95.31,303.40 L95.29,304.65 L95.29,305.73 L95.30,306.62 L95.30,307.30 Z"/></clipPath>
<filter id="speckd" x="0" y="0" width="100%" height="100%"><feTurbulence type="fractalNoise" baseFrequency="0.9" numOctaves="2" seed="5"/><feColorMatrix type="matrix" values="0 0 0 0 0.8  0 0 0 0 0.8  0 0 0 0 1  16 0 0 0 -11.2"/></filter>
<path d="M34.16,307.30 L35.76,277.53 L37.59,246.84 L47.21,243.18 L56.37,240.43 L65.07,238.60 L66.11,239.89 L67.55,241.66 L69.25,243.77 L71.07,246.05 L72.85,248.35 L74.46,250.51 L75.93,252.57 L77.37,254.66 L78.78,256.78 L80.15,258.90 L81.46,261.01 L82.70,263.10 L83.88,265.18 L85.00,267.24 L86.05,269.30 L87.06,271.36 L88.00,273.41 L88.89,275.47 L89.72,277.53 L90.49,279.58 L91.21,281.64 L91.86,283.70 L92.47,285.76 L93.01,287.84 L93.49,289.99 L93.92,292.23 L94.28,294.48 L94.60,296.65 L94.86,298.66 L95.07,300.43 L95.22,301.99 L95.29,303.40 L95.31,304.65 L95.31,305.73 L95.30,306.62 L95.30,307.30 Z" fill="#000085"/><path d="M156.44,307.30 L154.84,277.53 L153.01,246.84 L143.39,243.18 L134.23,240.43 L125.53,238.60 L124.49,239.89 L123.05,241.66 L121.35,243.77 L119.53,246.05 L117.75,248.35 L116.14,250.51 L114.67,252.57 L113.23,254.66 L111.82,256.78 L110.45,258.90 L109.14,261.01 L107.89,263.10 L106.72,265.18 L105.61,267.24 L104.55,269.30 L103.54,271.36 L102.60,273.41 L101.71,275.47 L100.88,277.53 L100.11,279.58 L99.39,281.64 L98.74,283.70 L98.13,285.76 L97.59,287.84 L97.11,289.99 L96.68,292.23 L96.32,294.48 L96.00,296.65 L95.74,298.66 L95.53,300.43 L95.38,301.99 L95.31,303.40 L95.29,304.65 L95.29,305.73 L95.30,306.62 L95.30,307.30 Z" fill="#000085"/>
<g clip-path="url(#wd)">
<rect x="30.7" y="238.6" width="129.10000000000002" height="68.70000000000002" filter="url(#speckd)" opacity="0.4"/>
<circle cx="95.30" cy="307.30" r="65.5" fill="none" stroke="#0e30f0" stroke-width="1.5" opacity="0.9"/>
<circle cx="95.30" cy="307.30" r="14" fill="none" stroke="#2a74ff" stroke-width="1.1"/>
<circle cx="95.30" cy="307.30" r="16.2" fill="none" stroke="#1030c8" stroke-width="0.9" opacity="0.8"/>
<ellipse cx="95.30" cy="305.10" rx="5" ry="4.2" fill="url(#cglow)"/>
<ellipse cx="95.30" cy="304.70" rx="1.5" ry="1.2" fill="#40f0e0"/>
</g>
<rect x="30.7" y="238.6" width="129.10000000000002" height="68.70000000000002" fill="none" stroke="#444" stroke-width="0.9"/>
<line x1="31.18" y1="307.30" x2="31.18" y2="308.80" stroke="#444" stroke-width="0.8"/>
<line x1="35.76" y1="307.30" x2="35.76" y2="308.80" stroke="#444" stroke-width="0.8"/>
<line x1="40.34" y1="307.30" x2="40.34" y2="308.80" stroke="#444" stroke-width="0.8"/>
<line x1="44.92" y1="307.30" x2="44.92" y2="308.80" stroke="#444" stroke-width="0.8"/>
<line x1="49.50" y1="307.30" x2="49.50" y2="309.90" stroke="#444" stroke-width="0.8"/>
<line x1="54.08" y1="307.30" x2="54.08" y2="308.80" stroke="#444" stroke-width="0.8"/>
<line x1="58.66" y1="307.30" x2="58.66" y2="308.80" stroke="#444" stroke-width="0.8"/>
<line x1="63.24" y1="307.30" x2="63.24" y2="308.80" stroke="#444" stroke-width="0.8"/>
<line x1="67.82" y1="307.30" x2="67.82" y2="308.80" stroke="#444" stroke-width="0.8"/>
<line x1="72.40" y1="307.30" x2="72.40" y2="309.90" stroke="#444" stroke-width="0.8"/>
<line x1="76.98" y1="307.30" x2="76.98" y2="308.80" stroke="#444" stroke-width="0.8"/>
<line x1="81.56" y1="307.30" x2="81.56" y2="308.80" stroke="#444" stroke-width="0.8"/>
<line x1="86.14" y1="307.30" x2="86.14" y2="308.80" stroke="#444" stroke-width="0.8"/>
<line x1="90.72" y1="307.30" x2="90.72" y2="308.80" stroke="#444" stroke-width="0.8"/>
<line x1="95.30" y1="307.30" x2="95.30" y2="309.90" stroke="#444" stroke-width="0.8"/>
<line x1="99.88" y1="307.30" x2="99.88" y2="308.80" stroke="#444" stroke-width="0.8"/>
<line x1="104.46" y1="307.30" x2="104.46" y2="308.80" stroke="#444" stroke-width="0.8"/>
<line x1="109.04" y1="307.30" x2="109.04" y2="308.80" stroke="#444" stroke-width="0.8"/>
<line x1="113.62" y1="307.30" x2="113.62" y2="308.80" stroke="#444" stroke-width="0.8"/>
<line x1="118.20" y1="307.30" x2="118.20" y2="309.90" stroke="#444" stroke-width="0.8"/>
<line x1="122.78" y1="307.30" x2="122.78" y2="308.80" stroke="#444" stroke-width="0.8"/>
<line x1="127.36" y1="307.30" x2="127.36" y2="308.80" stroke="#444" stroke-width="0.8"/>
<line x1="131.94" y1="307.30" x2="131.94" y2="308.80" stroke="#444" stroke-width="0.8"/>
<line x1="136.52" y1="307.30" x2="136.52" y2="308.80" stroke="#444" stroke-width="0.8"/>
<line x1="141.10" y1="307.30" x2="141.10" y2="309.90" stroke="#444" stroke-width="0.8"/>
<line x1="145.68" y1="307.30" x2="145.68" y2="308.80" stroke="#444" stroke-width="0.8"/>
<line x1="150.26" y1="307.30" x2="150.26" y2="308.80" stroke="#444" stroke-width="0.8"/>
<line x1="154.84" y1="307.30" x2="154.84" y2="308.80" stroke="#444" stroke-width="0.8"/>
<line x1="159.42" y1="307.30" x2="159.42" y2="308.80" stroke="#444" stroke-width="0.8"/>
<line x1="30.70" y1="307.30" x2="28.10" y2="307.30" stroke="#444" stroke-width="0.8"/>
<line x1="30.70" y1="302.72" x2="29.20" y2="302.72" stroke="#444" stroke-width="0.8"/>
<line x1="30.70" y1="298.14" x2="29.20" y2="298.14" stroke="#444" stroke-width="0.8"/>
<line x1="30.70" y1="293.56" x2="29.20" y2="293.56" stroke="#444" stroke-width="0.8"/>
<line x1="30.70" y1="288.98" x2="29.20" y2="288.98" stroke="#444" stroke-width="0.8"/>
<line x1="30.70" y1="284.40" x2="28.10" y2="284.40" stroke="#444" stroke-width="0.8"/>
<line x1="30.70" y1="279.82" x2="29.20" y2="279.82" stroke="#444" stroke-width="0.8"/>
<line x1="30.70" y1="275.24" x2="29.20" y2="275.24" stroke="#444" stroke-width="0.8"/>
<line x1="30.70" y1="270.66" x2="29.20" y2="270.66" stroke="#444" stroke-width="0.8"/>
<line x1="30.70" y1="266.08" x2="29.20" y2="266.08" stroke="#444" stroke-width="0.8"/>
<line x1="30.70" y1="261.50" x2="28.10" y2="261.50" stroke="#444" stroke-width="0.8"/>
<line x1="30.70" y1="256.92" x2="29.20" y2="256.92" stroke="#444" stroke-width="0.8"/>
<line x1="30.70" y1="252.34" x2="29.20" y2="252.34" stroke="#444" stroke-width="0.8"/>
<line x1="30.70" y1="247.76" x2="29.20" y2="247.76" stroke="#444" stroke-width="0.8"/>
<line x1="30.70" y1="243.18" x2="29.20" y2="243.18" stroke="#444" stroke-width="0.8"/>
<line x1="30.70" y1="238.60" x2="28.10" y2="238.60" stroke="#444" stroke-width="0.8"/>
<text x="48.30" y="317.90" font-size="7.2" font-weight="normal" text-anchor="middle" fill="#333" >−2</text>
<text x="71.20" y="317.90" font-size="7.2" font-weight="normal" text-anchor="middle" fill="#333" >−1</text>
<text x="95.30" y="317.90" font-size="7.2" font-weight="normal" text-anchor="middle" fill="#333" >0</text>
<text x="118.20" y="317.90" font-size="7.2" font-weight="normal" text-anchor="middle" fill="#333" >1</text>
<text x="141.10" y="317.90" font-size="7.2" font-weight="normal" text-anchor="middle" fill="#333" >2</text>
<text x="26.20" y="309.90" font-size="7.2" font-weight="normal" text-anchor="end" fill="#333" >0</text>
<text x="26.20" y="287.00" font-size="7.2" font-weight="normal" text-anchor="end" fill="#333" >1</text>
<text x="26.20" y="264.10" font-size="7.2" font-weight="normal" text-anchor="end" fill="#333" >2</text>
<text x="26.20" y="241.20" font-size="7.2" font-weight="normal" text-anchor="end" fill="#333" >3</text>
<rect x="166.1" y="246.8" width="6.800000000000011" height="55.599999999999966" fill="url(#cbgrad)"/>
<line x1="172.9" y1="246.8" x2="174.1" y2="246.8" stroke="#666" stroke-width="0.5"/>
<text x="175.1" y="248.3" font-size="3.6" fill="#555">10<tspan font-size="2.4" dy="-1.3">2</tspan></text>
<line x1="172.9" y1="274.6" x2="174.1" y2="274.6" stroke="#666" stroke-width="0.5"/>
<text x="175.1" y="276.1" font-size="3.6" fill="#555">10<tspan font-size="2.4" dy="-1.3">1</tspan></text>
<line x1="172.9" y1="302.4" x2="174.1" y2="302.4" stroke="#666" stroke-width="0.5"/>
<text x="175.1" y="303.9" font-size="3.6" fill="#555">10<tspan font-size="2.4" dy="-1.3">0</tspan></text>
<text transform="translate(17.00,270.80) rotate(-90)" font-size="6.8" fill="#333" text-anchor="middle"><tspan font-style="italic">q</tspan><tspan font-size="4.8" dy="1.5">z</tspan><tspan dy="-1.5"> (Å</tspan><tspan font-size="4.8" dy="-2.6">−1</tspan><tspan dy="2.6">)</tspan></text>
<text x="95.30" y="328.30" font-size="7" fill="#333" text-anchor="middle"><tspan font-style="italic">q</tspan><tspan font-size="4.8" dy="1.5">xy</tspan><tspan dy="-1.5"> (Å</tspan><tspan font-size="4.8" dy="-2.6">−1</tspan><tspan dy="2.6">)</tspan></text>
<text x="107.60" y="300.60" font-size="10.9" font-weight="bold" text-anchor="start" fill="#f2e21a" >(111)</text>
<clipPath id="we"><path d="M38.63,410.30 L40.19,380.96 L41.98,350.72 L51.36,347.10 L60.30,344.40 L68.80,342.59 L69.81,343.86 L71.22,345.61 L72.88,347.68 L74.65,349.93 L76.39,352.20 L77.96,354.33 L79.39,356.36 L80.80,358.42 L82.18,360.50 L83.52,362.59 L84.80,364.68 L86.01,366.74 L87.15,368.78 L88.24,370.82 L89.28,372.85 L90.25,374.87 L91.18,376.90 L92.04,378.93 L92.85,380.96 L93.61,382.98 L94.30,385.01 L94.95,387.04 L95.53,389.07 L96.06,391.12 L96.54,393.24 L96.95,395.45 L97.31,397.66 L97.61,399.80 L97.87,401.78 L98.08,403.53 L98.22,405.06 L98.29,406.45 L98.31,407.69 L98.31,408.75 L98.30,409.63 L98.30,410.30 Z"/><path d="M157.97,410.30 L156.41,380.96 L154.62,350.72 L145.24,347.10 L136.30,344.40 L127.80,342.59 L126.79,343.86 L125.38,345.61 L123.72,347.68 L121.95,349.93 L120.21,352.20 L118.64,354.33 L117.21,356.36 L115.80,358.42 L114.42,360.50 L113.08,362.59 L111.80,364.68 L110.59,366.74 L109.45,368.78 L108.36,370.82 L107.32,372.85 L106.35,374.87 L105.42,376.90 L104.56,378.93 L103.75,380.96 L102.99,382.98 L102.30,385.01 L101.65,387.04 L101.07,389.07 L100.53,391.12 L100.06,393.24 L99.65,395.45 L99.29,397.66 L98.99,399.80 L98.73,401.78 L98.52,403.53 L98.38,405.06 L98.31,406.45 L98.29,407.69 L98.29,408.75 L98.30,409.63 L98.30,410.30 Z"/></clipPath>
<filter id="specke" x="0" y="0" width="100%" height="100%"><feTurbulence type="fractalNoise" baseFrequency="0.9" numOctaves="2" seed="9"/><feColorMatrix type="matrix" values="0 0 0 0 0.8  0 0 0 0 0.8  0 0 0 0 1  16 0 0 0 -11.2"/></filter>
<path d="M38.63,410.30 L40.19,380.96 L41.98,350.72 L51.36,347.10 L60.30,344.40 L68.80,342.59 L69.81,343.86 L71.22,345.61 L72.88,347.68 L74.65,349.93 L76.39,352.20 L77.96,354.33 L79.39,356.36 L80.80,358.42 L82.18,360.50 L83.52,362.59 L84.80,364.68 L86.01,366.74 L87.15,368.78 L88.24,370.82 L89.28,372.85 L90.25,374.87 L91.18,376.90 L92.04,378.93 L92.85,380.96 L93.61,382.98 L94.30,385.01 L94.95,387.04 L95.53,389.07 L96.06,391.12 L96.54,393.24 L96.95,395.45 L97.31,397.66 L97.61,399.80 L97.87,401.78 L98.08,403.53 L98.22,405.06 L98.29,406.45 L98.31,407.69 L98.31,408.75 L98.30,409.63 L98.30,410.30 Z" fill="#000085"/><path d="M157.97,410.30 L156.41,380.96 L154.62,350.72 L145.24,347.10 L136.30,344.40 L127.80,342.59 L126.79,343.86 L125.38,345.61 L123.72,347.68 L121.95,349.93 L120.21,352.20 L118.64,354.33 L117.21,356.36 L115.80,358.42 L114.42,360.50 L113.08,362.59 L111.80,364.68 L110.59,366.74 L109.45,368.78 L108.36,370.82 L107.32,372.85 L106.35,374.87 L105.42,376.90 L104.56,378.93 L103.75,380.96 L102.99,382.98 L102.30,385.01 L101.65,387.04 L101.07,389.07 L100.53,391.12 L100.06,393.24 L99.65,395.45 L99.29,397.66 L98.99,399.80 L98.73,401.78 L98.52,403.53 L98.38,405.06 L98.31,406.45 L98.29,407.69 L98.29,408.75 L98.30,409.63 L98.30,410.30 Z" fill="#000085"/>
<g clip-path="url(#we)">
<rect x="35.3" y="342.6" width="126.10000000000001" height="67.69999999999999" filter="url(#specke)" opacity="0.4"/>
<circle cx="98.30" cy="410.30" r="60" fill="none" stroke="#1a3cff" stroke-width="1.3" opacity="0.2"/>
<circle cx="98.30" cy="410.30" r="14" fill="none" stroke="#2a74ff" stroke-width="1.1"/>
<circle cx="98.30" cy="410.30" r="16.2" fill="none" stroke="#1030c8" stroke-width="0.9" opacity="0.8"/>
<ellipse cx="98.30" cy="408.10" rx="5" ry="4.2" fill="url(#cglow)"/>
<ellipse cx="98.30" cy="407.70" rx="1.5" ry="1.2" fill="#40f0e0"/>
</g>
<rect x="35.3" y="342.6" width="126.10000000000001" height="67.69999999999999" fill="none" stroke="#444" stroke-width="0.9"/>
<line x1="35.72" y1="410.30" x2="35.72" y2="411.80" stroke="#444" stroke-width="0.8"/>
<line x1="40.19" y1="410.30" x2="40.19" y2="411.80" stroke="#444" stroke-width="0.8"/>
<line x1="44.66" y1="410.30" x2="44.66" y2="411.80" stroke="#444" stroke-width="0.8"/>
<line x1="49.13" y1="410.30" x2="49.13" y2="411.80" stroke="#444" stroke-width="0.8"/>
<line x1="53.60" y1="410.30" x2="53.60" y2="412.90" stroke="#444" stroke-width="0.8"/>
<line x1="58.07" y1="410.30" x2="58.07" y2="411.80" stroke="#444" stroke-width="0.8"/>
<line x1="62.54" y1="410.30" x2="62.54" y2="411.80" stroke="#444" stroke-width="0.8"/>
<line x1="67.01" y1="410.30" x2="67.01" y2="411.80" stroke="#444" stroke-width="0.8"/>
<line x1="71.48" y1="410.30" x2="71.48" y2="411.80" stroke="#444" stroke-width="0.8"/>
<line x1="75.95" y1="410.30" x2="75.95" y2="412.90" stroke="#444" stroke-width="0.8"/>
<line x1="80.42" y1="410.30" x2="80.42" y2="411.80" stroke="#444" stroke-width="0.8"/>
<line x1="84.89" y1="410.30" x2="84.89" y2="411.80" stroke="#444" stroke-width="0.8"/>
<line x1="89.36" y1="410.30" x2="89.36" y2="411.80" stroke="#444" stroke-width="0.8"/>
<line x1="93.83" y1="410.30" x2="93.83" y2="411.80" stroke="#444" stroke-width="0.8"/>
<line x1="98.30" y1="410.30" x2="98.30" y2="412.90" stroke="#444" stroke-width="0.8"/>
<line x1="102.77" y1="410.30" x2="102.77" y2="411.80" stroke="#444" stroke-width="0.8"/>
<line x1="107.24" y1="410.30" x2="107.24" y2="411.80" stroke="#444" stroke-width="0.8"/>
<line x1="111.71" y1="410.30" x2="111.71" y2="411.80" stroke="#444" stroke-width="0.8"/>
<line x1="116.18" y1="410.30" x2="116.18" y2="411.80" stroke="#444" stroke-width="0.8"/>
<line x1="120.65" y1="410.30" x2="120.65" y2="412.90" stroke="#444" stroke-width="0.8"/>
<line x1="125.12" y1="410.30" x2="125.12" y2="411.80" stroke="#444" stroke-width="0.8"/>
<line x1="129.59" y1="410.30" x2="129.59" y2="411.80" stroke="#444" stroke-width="0.8"/>
<line x1="134.06" y1="410.30" x2="134.06" y2="411.80" stroke="#444" stroke-width="0.8"/>
<line x1="138.53" y1="410.30" x2="138.53" y2="411.80" stroke="#444" stroke-width="0.8"/>
<line x1="143.00" y1="410.30" x2="143.00" y2="412.90" stroke="#444" stroke-width="0.8"/>
<line x1="147.47" y1="410.30" x2="147.47" y2="411.80" stroke="#444" stroke-width="0.8"/>
<line x1="151.94" y1="410.30" x2="151.94" y2="411.80" stroke="#444" stroke-width="0.8"/>
<line x1="156.41" y1="410.30" x2="156.41" y2="411.80" stroke="#444" stroke-width="0.8"/>
<line x1="160.88" y1="410.30" x2="160.88" y2="411.80" stroke="#444" stroke-width="0.8"/>
<line x1="35.30" y1="410.30" x2="32.70" y2="410.30" stroke="#444" stroke-width="0.8"/>
<line x1="35.30" y1="405.79" x2="33.80" y2="405.79" stroke="#444" stroke-width="0.8"/>
<line x1="35.30" y1="401.27" x2="33.80" y2="401.27" stroke="#444" stroke-width="0.8"/>
<line x1="35.30" y1="396.76" x2="33.80" y2="396.76" stroke="#444" stroke-width="0.8"/>
<line x1="35.30" y1="392.24" x2="33.80" y2="392.24" stroke="#444" stroke-width="0.8"/>
<line x1="35.30" y1="387.73" x2="32.70" y2="387.73" stroke="#444" stroke-width="0.8"/>
<line x1="35.30" y1="383.22" x2="33.80" y2="383.22" stroke="#444" stroke-width="0.8"/>
<line x1="35.30" y1="378.70" x2="33.80" y2="378.70" stroke="#444" stroke-width="0.8"/>
<line x1="35.30" y1="374.19" x2="33.80" y2="374.19" stroke="#444" stroke-width="0.8"/>
<line x1="35.30" y1="369.67" x2="33.80" y2="369.67" stroke="#444" stroke-width="0.8"/>
<line x1="35.30" y1="365.16" x2="32.70" y2="365.16" stroke="#444" stroke-width="0.8"/>
<line x1="35.30" y1="360.65" x2="33.80" y2="360.65" stroke="#444" stroke-width="0.8"/>
<line x1="35.30" y1="356.13" x2="33.80" y2="356.13" stroke="#444" stroke-width="0.8"/>
<line x1="35.30" y1="351.62" x2="33.80" y2="351.62" stroke="#444" stroke-width="0.8"/>
<line x1="35.30" y1="347.10" x2="33.80" y2="347.10" stroke="#444" stroke-width="0.8"/>
<line x1="35.30" y1="342.59" x2="32.70" y2="342.59" stroke="#444" stroke-width="0.8"/>
<text x="52.40" y="420.90" font-size="7.2" font-weight="normal" text-anchor="middle" fill="#333" >−2</text>
<text x="74.75" y="420.90" font-size="7.2" font-weight="normal" text-anchor="middle" fill="#333" >−1</text>
<text x="98.30" y="420.90" font-size="7.2" font-weight="normal" text-anchor="middle" fill="#333" >0</text>
<text x="120.65" y="420.90" font-size="7.2" font-weight="normal" text-anchor="middle" fill="#333" >1</text>
<text x="143.00" y="420.90" font-size="7.2" font-weight="normal" text-anchor="middle" fill="#333" >2</text>
<text x="30.80" y="412.90" font-size="7.2" font-weight="normal" text-anchor="end" fill="#333" >0</text>
<text x="30.80" y="390.33" font-size="7.2" font-weight="normal" text-anchor="end" fill="#333" >1</text>
<text x="30.80" y="367.76" font-size="7.2" font-weight="normal" text-anchor="end" fill="#333" >2</text>
<text x="30.80" y="345.19" font-size="7.2" font-weight="normal" text-anchor="end" fill="#333" >3</text>
<rect x="166.0" y="347.7" width="7.0" height="55.19999999999999" fill="url(#cbgrad)"/>
<line x1="173.0" y1="347.7" x2="174.2" y2="347.7" stroke="#666" stroke-width="0.5"/>
<text x="175.2" y="349.2" font-size="3.6" fill="#555">10<tspan font-size="2.4" dy="-1.3">2</tspan></text>
<line x1="173.0" y1="375.3" x2="174.2" y2="375.3" stroke="#666" stroke-width="0.5"/>
<text x="175.2" y="376.8" font-size="3.6" fill="#555">10<tspan font-size="2.4" dy="-1.3">1</tspan></text>
<line x1="173.0" y1="402.9" x2="174.2" y2="402.9" stroke="#666" stroke-width="0.5"/>
<text x="175.2" y="404.4" font-size="3.6" fill="#555">10<tspan font-size="2.4" dy="-1.3">0</tspan></text>
<text transform="translate(21.40,376.30) rotate(-90)" font-size="6.8" fill="#333" text-anchor="middle"><tspan font-style="italic">q</tspan><tspan font-size="4.8" dy="1.5">z</tspan><tspan dy="-1.5"> (Å</tspan><tspan font-size="4.8" dy="-2.6">−1</tspan><tspan dy="2.6">)</tspan></text>
<text x="98.30" y="431.30" font-size="7" fill="#333" text-anchor="middle"><tspan font-style="italic">q</tspan><tspan font-size="4.8" dy="1.5">xy</tspan><tspan dy="-1.5"> (Å</tspan><tspan font-size="4.8" dy="-2.6">−1</tspan><tspan dy="2.6">)</tspan></text>
<text x="113.40" y="404.60" font-size="11.2" font-weight="bold" text-anchor="start" fill="#f2e21a" >(111)</text>
<text x="63.40" y="380.90" font-size="11.2" font-weight="bold" text-anchor="start" fill="#f2e21a" >(002)</text>
<line x1="77.6" y1="383.8" x2="91.2" y2="390.3" stroke="#f2e21a" stroke-width="2.2"/>
<polygon points="95.8,392.6 88.6,392.4 91.9,386.2" fill="#f2e21a"/>
<text x="6.60" y="230.70" font-size="18" font-weight="bold" text-anchor="start" fill="#000" >d</text>
<text x="6.20" y="326.00" font-size="18" font-weight="bold" text-anchor="start" fill="#000" >e</text>
<defs>
<linearGradient id="barR" x1="0" y1="0" x2="1" y2="0">
<stop offset="0" stop-color="#be3c46"/><stop offset="0.1" stop-color="#cc6a72"/><stop offset="0.28" stop-color="#dca6aa"/><stop offset="0.5" stop-color="#e2b0b4"/><stop offset="0.68" stop-color="#d8949a"/><stop offset="0.88" stop-color="#c85a62"/><stop offset="1" stop-color="#bf3f48"/></linearGradient>
<linearGradient id="barB" x1="0" y1="0" x2="1" y2="0">
<stop offset="0" stop-color="#3c5a92"/><stop offset="0.1" stop-color="#6680b0"/><stop offset="0.28" stop-color="#9cb0d2"/><stop offset="0.5" stop-color="#a8b9da"/><stop offset="0.68" stop-color="#90a4cc"/><stop offset="0.88" stop-color="#5a74a8"/><stop offset="1" stop-color="#405c94"/></linearGradient>
</defs>
<rect x="238.90" y="381.11" width="12.6" height="18.49" fill="url(#barR)"/>
<rect x="251.50" y="398.76" width="12.6" height="0.84" fill="url(#barB)"/>
<path d="M243.20,379.92 H247.20 M245.20,379.92 V382.30 M243.20,382.30 H247.20" stroke="#333" stroke-width="0.9" fill="none"/>
<path d="M256.20,398.53 H259.40 M257.80,398.53 V399.00 M256.20,399.00 H259.40" stroke="#333" stroke-width="0.9" fill="none"/>
<rect x="270.78" y="333.99" width="12.6" height="65.62" fill="url(#barR)"/>
<rect x="283.38" y="397.81" width="12.6" height="1.79" fill="url(#barB)"/>
<path d="M275.08,329.81 H279.08 M277.08,329.81 V338.16 M275.08,338.16 H279.08" stroke="#333" stroke-width="0.9" fill="none"/>
<path d="M288.08,397.45 H291.28 M289.68,397.45 V398.17 M288.08,398.17 H291.28" stroke="#333" stroke-width="0.9" fill="none"/>
<rect x="302.66" y="329.81" width="12.6" height="69.79" fill="url(#barR)"/>
<rect x="315.26" y="398.17" width="12.6" height="1.43" fill="url(#barB)"/>
<path d="M306.96,320.27 H310.96 M308.96,320.27 V339.35 M306.96,339.35 H310.96" stroke="#333" stroke-width="0.9" fill="none"/>
<path d="M319.96,397.81 H323.16 M321.56,397.81 V398.53 M319.96,398.53 H323.16" stroke="#333" stroke-width="0.9" fill="none"/>
<rect x="334.54" y="266.58" width="12.6" height="133.02" fill="url(#barR)"/>
<rect x="347.14" y="387.67" width="12.6" height="11.93" fill="url(#barB)"/>
<path d="M338.84,265.15 H342.84 M340.84,265.15 V268.01 M338.84,268.01 H342.84" stroke="#333" stroke-width="0.9" fill="none"/>
<path d="M351.44,387.31 H355.44 M353.44,387.31 V388.03 M351.44,388.03 H355.44" stroke="#333" stroke-width="0.9" fill="none"/>
<rect x="366.42" y="263.60" width="12.6" height="136.00" fill="url(#barR)"/>
<rect x="379.02" y="386.72" width="12.6" height="12.88" fill="url(#barB)"/>
<path d="M370.72,258.83 H374.72 M372.72,258.83 V268.37 M370.72,268.37 H374.72" stroke="#333" stroke-width="0.9" fill="none"/>
<path d="M383.32,386.24 H387.32 M385.32,386.24 V387.19 M383.32,387.19 H387.32" stroke="#333" stroke-width="0.9" fill="none"/>
<path d="M251.50,347.67 L283.38,324.17 L315.26,288.56 L347.14,372.15 L379.02,373.39" fill="none" stroke="#f5b08a" stroke-width="1.2" stroke-linejoin="round" />
<path d="M249.70,334.56 H253.30 M251.50,334.56 V360.77 M249.70,360.77 H253.30" stroke="#f5b08a" stroke-width="1.0" fill="none"/>
<circle cx="251.50" cy="347.67" r="3.0" fill="url(#sphO)" stroke="#f2a070" stroke-width="0.6"/>
<path d="M281.58,321.70 H285.18 M283.38,321.70 V326.65 M281.58,326.65 H285.18" stroke="#f5b08a" stroke-width="1.0" fill="none"/>
<circle cx="283.38" cy="324.17" r="3.0" fill="url(#sphO)" stroke="#f2a070" stroke-width="0.6"/>
<path d="M313.46,284.11 H317.06 M315.26,284.11 V293.01 M313.46,293.01 H317.06" stroke="#f5b08a" stroke-width="1.0" fill="none"/>
<circle cx="315.26" cy="288.56" r="3.0" fill="url(#sphO)" stroke="#f2a070" stroke-width="0.6"/>
<circle cx="347.14" cy="372.15" r="3.0" fill="url(#sphO)" stroke="#f2a070" stroke-width="0.6"/>
<circle cx="379.02" cy="373.39" r="3.0" fill="url(#sphO)" stroke="#f2a070" stroke-width="0.6"/>
<rect x="226.0" y="251.2" width="175.5" height="148.40000000000003" fill="none" stroke="#000" stroke-width="1.5"/>
<line x1="223.00" y1="399.60" x2="226.00" y2="399.60" stroke="#000" stroke-width="1.2" />
<text x="221.00" y="403.10" font-size="10" font-weight="bold" text-anchor="end" fill="#000" >0</text>
<line x1="223.00" y1="375.74" x2="226.00" y2="375.74" stroke="#000" stroke-width="1.2" />
<text x="221.00" y="379.24" font-size="10" font-weight="bold" text-anchor="end" fill="#000" >200</text>
<line x1="223.00" y1="351.88" x2="226.00" y2="351.88" stroke="#000" stroke-width="1.2" />
<text x="221.00" y="355.38" font-size="10" font-weight="bold" text-anchor="end" fill="#000" >400</text>
<line x1="223.00" y1="328.02" x2="226.00" y2="328.02" stroke="#000" stroke-width="1.2" />
<text x="221.00" y="331.52" font-size="10" font-weight="bold" text-anchor="end" fill="#000" >600</text>
<line x1="223.00" y1="304.16" x2="226.00" y2="304.16" stroke="#000" stroke-width="1.2" />
<text x="221.00" y="307.66" font-size="10" font-weight="bold" text-anchor="end" fill="#000" >800</text>
<line x1="223.00" y1="280.30" x2="226.00" y2="280.30" stroke="#000" stroke-width="1.2" />
<text x="221.00" y="283.80" font-size="10" font-weight="bold" text-anchor="end" fill="#000" >1000</text>
<line x1="223.00" y1="256.44" x2="226.00" y2="256.44" stroke="#000" stroke-width="1.2" />
<text x="221.00" y="259.94" font-size="10" font-weight="bold" text-anchor="end" fill="#000" >1200</text>
<line x1="224.20" y1="387.67" x2="226.00" y2="387.67" stroke="#000" stroke-width="1.0" />
<line x1="224.20" y1="363.81" x2="226.00" y2="363.81" stroke="#000" stroke-width="1.0" />
<line x1="224.20" y1="339.95" x2="226.00" y2="339.95" stroke="#000" stroke-width="1.0" />
<line x1="224.20" y1="316.09" x2="226.00" y2="316.09" stroke="#000" stroke-width="1.0" />
<line x1="224.20" y1="292.23" x2="226.00" y2="292.23" stroke="#000" stroke-width="1.0" />
<line x1="224.20" y1="268.37" x2="226.00" y2="268.37" stroke="#000" stroke-width="1.0" />
<line x1="401.50" y1="399.60" x2="404.50" y2="399.60" stroke="#000" stroke-width="1.2" />
<text x="405.00" y="403.10" font-size="10" font-weight="bold" text-anchor="start" fill="#000" >0</text>
<line x1="401.50" y1="350.14" x2="404.50" y2="350.14" stroke="#000" stroke-width="1.2" />
<text x="405.00" y="353.64" font-size="10" font-weight="bold" text-anchor="start" fill="#000" >20</text>
<line x1="401.50" y1="300.68" x2="404.50" y2="300.68" stroke="#000" stroke-width="1.2" />
<text x="405.00" y="304.18" font-size="10" font-weight="bold" text-anchor="start" fill="#000" >40</text>
<line x1="401.50" y1="251.22" x2="404.50" y2="251.22" stroke="#000" stroke-width="1.2" />
<text x="405.00" y="254.72" font-size="10" font-weight="bold" text-anchor="start" fill="#000" >60</text>
<line x1="401.50" y1="374.87" x2="403.30" y2="374.87" stroke="#000" stroke-width="1.0" />
<line x1="401.50" y1="325.41" x2="403.30" y2="325.41" stroke="#000" stroke-width="1.0" />
<line x1="401.50" y1="275.95" x2="403.30" y2="275.95" stroke="#000" stroke-width="1.0" />
<line x1="251.50" y1="399.60" x2="251.50" y2="402.60" stroke="#000" stroke-width="1.2" />
<line x1="251.50" y1="251.20" x2="251.50" y2="248.20" stroke="#000" stroke-width="1.2" />
<text x="252.50" y="412.80" font-size="10" font-weight="bold" text-anchor="middle" fill="#000" >0.44</text>
<text x="250.70" y="246.50" font-size="10" font-weight="bold" text-anchor="middle" fill="#000" >0%</text>
<line x1="283.38" y1="399.60" x2="283.38" y2="402.60" stroke="#000" stroke-width="1.2" />
<line x1="283.38" y1="251.20" x2="283.38" y2="248.20" stroke="#000" stroke-width="1.2" />
<text x="284.38" y="412.80" font-size="10" font-weight="bold" text-anchor="middle" fill="#000" >1.80</text>
<text x="282.58" y="246.50" font-size="10" font-weight="bold" text-anchor="middle" fill="#000" >3%</text>
<line x1="315.26" y1="399.60" x2="315.26" y2="402.60" stroke="#000" stroke-width="1.2" />
<line x1="315.26" y1="251.20" x2="315.26" y2="248.20" stroke="#000" stroke-width="1.2" />
<text x="316.26" y="412.80" font-size="10" font-weight="bold" text-anchor="middle" fill="#000" >10.08</text>
<text x="314.46" y="246.50" font-size="10" font-weight="bold" text-anchor="middle" fill="#000" >5%</text>
<line x1="347.14" y1="399.60" x2="347.14" y2="402.60" stroke="#000" stroke-width="1.2" />
<line x1="347.14" y1="251.20" x2="347.14" y2="248.20" stroke="#000" stroke-width="1.2" />
<text x="348.14" y="412.80" font-size="10" font-weight="bold" text-anchor="middle" fill="#000" >1.63</text>
<text x="346.34" y="246.50" font-size="10" font-weight="bold" text-anchor="middle" fill="#000" >7%</text>
<line x1="379.02" y1="399.60" x2="379.02" y2="402.60" stroke="#000" stroke-width="1.2" />
<line x1="379.02" y1="251.20" x2="379.02" y2="248.20" stroke="#000" stroke-width="1.2" />
<text x="380.02" y="412.80" font-size="10" font-weight="bold" text-anchor="middle" fill="#000" >1.28</text>
<text x="378.22" y="246.50" font-size="10" font-weight="bold" text-anchor="middle" fill="#000" >9%</text>
<line x1="235.56" y1="399.60" x2="235.56" y2="401.40" stroke="#000" stroke-width="1.0" />
<line x1="235.56" y1="251.20" x2="235.56" y2="249.40" stroke="#000" stroke-width="1.0" />
<line x1="267.44" y1="399.60" x2="267.44" y2="401.40" stroke="#000" stroke-width="1.0" />
<line x1="267.44" y1="251.20" x2="267.44" y2="249.40" stroke="#000" stroke-width="1.0" />
<line x1="299.32" y1="399.60" x2="299.32" y2="401.40" stroke="#000" stroke-width="1.0" />
<line x1="299.32" y1="251.20" x2="299.32" y2="249.40" stroke="#000" stroke-width="1.0" />
<line x1="331.20" y1="399.60" x2="331.20" y2="401.40" stroke="#000" stroke-width="1.0" />
<line x1="331.20" y1="251.20" x2="331.20" y2="249.40" stroke="#000" stroke-width="1.0" />
<line x1="363.08" y1="399.60" x2="363.08" y2="401.40" stroke="#000" stroke-width="1.0" />
<line x1="363.08" y1="251.20" x2="363.08" y2="249.40" stroke="#000" stroke-width="1.0" />
<line x1="394.96" y1="399.60" x2="394.96" y2="401.40" stroke="#000" stroke-width="1.0" />
<line x1="394.96" y1="251.20" x2="394.96" y2="249.40" stroke="#000" stroke-width="1.0" />
<text x="260.2" y="426.9" font-size="10" font-weight="bold">CPO<tspan font-size="7" dy="2.4">002/111</tspan><tspan dy="-2.4"> of&#160; membrane</tspan></text>
<text x="252.5" y="233.8" font-size="10.1" font-weight="bold">Molar content of Cp<tspan font-size="7" dy="2.3">2</tspan><tspan dy="-2.3">ZrCl</tspan><tspan font-size="7" dy="2.3">2</tspan></text>
<rect x="228.3" y="254.5" width="22.3" height="10.3" fill="url(#barR)"/>
<rect x="228.3" y="267.3" width="22.3" height="10.0" fill="url(#barB)"/>
<line x1="228.30" y1="287.60" x2="250.60" y2="287.60" stroke="#f5b08a" stroke-width="1.2" />
<circle cx="239.4" cy="287.6" r="3.0" fill="url(#sphO)" stroke="#f2a070" stroke-width="0.6"/>
<text x="253.40" y="263.50" font-size="10.1" font-weight="bold" text-anchor="start" fill="#000" >He permeance</text>
<text x="253.4" y="275.9" font-size="10.1" font-weight="bold">CH<tspan font-size="7" dy="2.3">4</tspan><tspan dy="-2.3"> permeance</tspan></text>
<text x="253.40" y="291.20" font-size="10.1" font-weight="bold" text-anchor="start" fill="#000" >Selectivity</text>
<text transform="translate(197.1,322.4) rotate(-90)" font-size="10.2" font-weight="bold" text-anchor="middle">Permeance (GPU)</text>
<text transform="translate(429.0,325.5) rotate(-90)" font-size="10" font-weight="bold" text-anchor="middle">Selectivity of He/CH<tspan font-size="7" dy="2.3">4</tspan></text>
<text x="197.60" y="230.70" font-size="18" font-weight="bold" text-anchor="start" fill="#000" >f</text>
<rect x="477.10" y="352.03" width="17.7" height="48.37" fill="url(#barR)"/>
<rect x="494.80" y="394.80" width="17.7" height="5.60" fill="url(#barB)"/>
<path d="M483.75,342.69 H488.15 M485.95,342.69 V361.37 M483.75,361.37 H488.15" stroke="#333" stroke-width="0.9" fill="none"/>
<path d="M501.45,393.30 H505.85 M503.65,393.30 V396.29 M501.45,396.29 H505.85" stroke="#333" stroke-width="0.9" fill="none"/>
<rect x="520.80" y="371.83" width="17.7" height="28.57" fill="url(#barR)"/>
<rect x="538.50" y="361.37" width="17.7" height="39.03" fill="url(#barB)"/>
<path d="M527.45,369.96 H531.85 M529.65,369.96 V373.69 M527.45,373.69 H531.85" stroke="#333" stroke-width="0.9" fill="none"/>
<path d="M545.15,351.47 H549.55 M547.35,351.47 V371.27 M545.15,371.27 H549.55" stroke="#333" stroke-width="0.9" fill="none"/>
<rect x="564.80" y="290.22" width="17.7" height="110.18" fill="url(#barR)"/>
<rect x="582.50" y="317.48" width="17.7" height="82.92" fill="url(#barB)"/>
<path d="M571.45,275.28 H575.85 M573.65,275.28 V305.16 M571.45,305.16 H575.85" stroke="#333" stroke-width="0.9" fill="none"/>
<path d="M589.15,313.75 H593.55 M591.35,313.75 V321.22 M589.15,321.22 H593.55" stroke="#333" stroke-width="0.9" fill="none"/>
<rect x="608.70" y="390.88" width="17.7" height="9.52" fill="url(#barR)"/>
<rect x="626.40" y="369.59" width="17.7" height="30.81" fill="url(#barB)"/>
<path d="M615.35,390.60 H619.75 M617.55,390.60 V391.16 M615.35,391.16 H619.75" stroke="#333" stroke-width="0.9" fill="none"/>
<path d="M633.05,368.65 H637.45 M635.25,368.65 V370.52 M633.05,370.52 H637.45" stroke="#333" stroke-width="0.9" fill="none"/>
<path d="M472.7,251.5 V400.4 H648.9 V251.5" fill="none" stroke="#000" stroke-width="1.5"/>
<line x1="472.70" y1="251.50" x2="648.90" y2="251.50" stroke="#000" stroke-width="1.5" />
<line x1="469.70" y1="400.40" x2="472.70" y2="400.40" stroke="#000" stroke-width="1.2" />
<text x="467.60" y="403.90" font-size="10.1" font-weight="bold" text-anchor="end" fill="#000" >0</text>
<line x1="469.70" y1="363.05" x2="472.70" y2="363.05" stroke="#000" stroke-width="1.2" />
<text x="467.60" y="366.55" font-size="10.1" font-weight="bold" text-anchor="end" fill="#000" >200</text>
<line x1="469.70" y1="325.70" x2="472.70" y2="325.70" stroke="#000" stroke-width="1.2" />
<text x="467.60" y="329.20" font-size="10.1" font-weight="bold" text-anchor="end" fill="#000" >400</text>
<line x1="469.70" y1="288.35" x2="472.70" y2="288.35" stroke="#000" stroke-width="1.2" />
<text x="467.60" y="291.85" font-size="10.1" font-weight="bold" text-anchor="end" fill="#000" >600</text>
<line x1="469.70" y1="251.00" x2="472.70" y2="251.00" stroke="#000" stroke-width="1.2" />
<text x="467.60" y="254.50" font-size="10.1" font-weight="bold" text-anchor="end" fill="#000" >800</text>
<line x1="470.90" y1="381.72" x2="472.70" y2="381.72" stroke="#000" stroke-width="1.0" />
<line x1="470.90" y1="344.38" x2="472.70" y2="344.38" stroke="#000" stroke-width="1.0" />
<line x1="470.90" y1="307.02" x2="472.70" y2="307.02" stroke="#000" stroke-width="1.0" />
<line x1="470.90" y1="269.67" x2="472.70" y2="269.67" stroke="#000" stroke-width="1.0" />
<line x1="648.90" y1="400.40" x2="651.90" y2="400.40" stroke="#000" stroke-width="1.2" />
<text x="652.60" y="403.90" font-size="10.1" font-weight="bold" text-anchor="start" fill="#000" >0</text>
<line x1="648.90" y1="363.05" x2="651.90" y2="363.05" stroke="#000" stroke-width="1.2" />
<text x="652.60" y="366.55" font-size="10.1" font-weight="bold" text-anchor="start" fill="#000" >20</text>
<line x1="648.90" y1="325.70" x2="651.90" y2="325.70" stroke="#000" stroke-width="1.2" />
<text x="652.60" y="329.20" font-size="10.1" font-weight="bold" text-anchor="start" fill="#000" >40</text>
<line x1="648.90" y1="288.35" x2="651.90" y2="288.35" stroke="#000" stroke-width="1.2" />
<text x="652.60" y="291.85" font-size="10.1" font-weight="bold" text-anchor="start" fill="#000" >60</text>
<line x1="648.90" y1="251.00" x2="651.90" y2="251.00" stroke="#000" stroke-width="1.2" />
<text x="652.60" y="254.50" font-size="10.1" font-weight="bold" text-anchor="start" fill="#000" >80</text>
<line x1="648.90" y1="381.72" x2="650.70" y2="381.72" stroke="#000" stroke-width="1.0" />
<line x1="648.90" y1="344.38" x2="650.70" y2="344.38" stroke="#000" stroke-width="1.0" />
<line x1="648.90" y1="307.02" x2="650.70" y2="307.02" stroke="#000" stroke-width="1.0" />
<line x1="648.90" y1="269.67" x2="650.70" y2="269.67" stroke="#000" stroke-width="1.0" />
<line x1="494.80" y1="400.40" x2="494.80" y2="403.40" stroke="#000" stroke-width="1.2" />
<line x1="538.50" y1="400.40" x2="538.50" y2="403.40" stroke="#000" stroke-width="1.2" />
<line x1="582.50" y1="400.40" x2="582.50" y2="403.40" stroke="#000" stroke-width="1.2" />
<line x1="626.40" y1="400.40" x2="626.40" y2="403.40" stroke="#000" stroke-width="1.2" />
<line x1="516.65" y1="400.40" x2="516.65" y2="402.20" stroke="#000" stroke-width="1.0" />
<line x1="560.50" y1="400.40" x2="560.50" y2="402.20" stroke="#000" stroke-width="1.0" />
<line x1="604.45" y1="400.40" x2="604.45" y2="402.20" stroke="#000" stroke-width="1.0" />
<text transform="translate(493.2,413.2) rotate(-20)" y="3.5" font-size="10.1" font-weight="bold" text-anchor="middle">PI</text>
<text transform="translate(536.2,413.6) rotate(-20)" y="3.5" font-size="10.1" font-weight="bold" text-anchor="middle">Zr-MOF</text>
<text transform="translate(580.5,412.0) rotate(-20)" y="3.5" font-size="10.1" font-weight="bold" text-anchor="middle">Oriented</text>
<text transform="translate(585.6,425.0) rotate(-20)" y="3.5" font-size="10.1" font-weight="bold" text-anchor="middle">Zr-MOF</text>
<text transform="translate(627.6,413.7) rotate(-20)" y="3.5" font-size="10.1" font-weight="bold" text-anchor="middle">Zr-MOP</text>
<rect x="474.7" y="254.3" width="22.3" height="10.3" fill="url(#barR)"/>
<rect x="474.7" y="266.9" width="22.3" height="10.3" fill="url(#barB)"/>
<text x="500.20" y="263.00" font-size="10.1" font-weight="bold" text-anchor="start" fill="#000" >He permeance</text>
<text x="500.20" y="275.60" font-size="10.1" font-weight="bold" text-anchor="start" fill="#000" >Selectivity</text>
<text transform="translate(443.3,323.3) rotate(-90)" font-size="10.2" font-weight="bold" text-anchor="middle">Permeance (GPU)</text>
<text transform="translate(676.2,325.8) rotate(-90)" font-size="10" font-weight="bold" text-anchor="middle">Selectivity of He/CH<tspan font-size="7" dy="2.3">4</tspan></text>
<text x="428.60" y="231.10" font-size="18" font-weight="bold" text-anchor="start" fill="#000" >g</text>
</svg></body></html>
